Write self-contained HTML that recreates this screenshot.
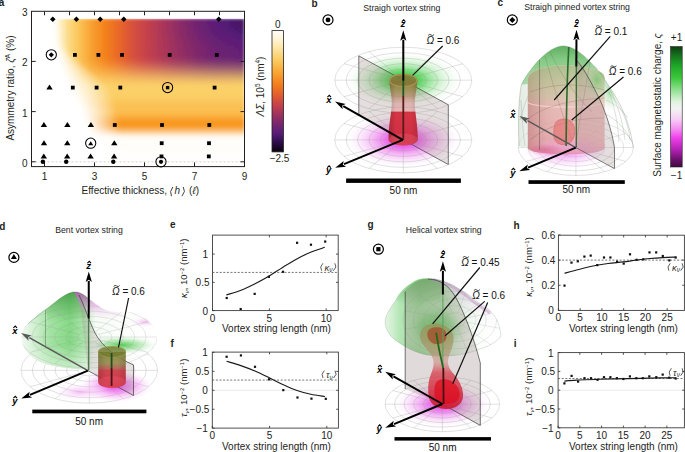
<!DOCTYPE html><html><head><meta charset="utf-8"><style>html,body{margin:0;padding:0;background:#fff;overflow:hidden;}svg{display:block;}text{font-family:"Liberation Sans", sans-serif;}</style></head><body>
<svg width="685" height="452" viewBox="0 0 685 452">
<defs>
<linearGradient id="gHeat" x1="0" y1="0" x2="0" y2="1"><stop offset="0.0" stop-color="#fffefb"/><stop offset="0.06" stop-color="#fff6dc"/><stop offset="0.14" stop-color="#fde6a6"/><stop offset="0.24" stop-color="#fbcb62"/><stop offset="0.34" stop-color="#f9a735"/><stop offset="0.44" stop-color="#f4801c"/><stop offset="0.53" stop-color="#e35e2e"/><stop offset="0.61" stop-color="#c8424a"/><stop offset="0.69" stop-color="#a0325e"/><stop offset="0.77" stop-color="#78256e"/><stop offset="0.85" stop-color="#561c78"/><stop offset="0.92" stop-color="#2e0e4a"/><stop offset="1.0" stop-color="#08030e"/></linearGradient>
<linearGradient id="gSig" x1="0" y1="0" x2="0" y2="1"><stop offset="0" stop-color="#0c3c10"/><stop offset="0.06" stop-color="#146a1c"/><stop offset="0.16" stop-color="#1ea828"/><stop offset="0.26" stop-color="#3cc83c"/><stop offset="0.36" stop-color="#90e090"/><stop offset="0.46" stop-color="#e0f4e0"/><stop offset="0.52" stop-color="#f2f2f2"/><stop offset="0.6" stop-color="#f8d0f4"/><stop offset="0.68" stop-color="#f590f2"/><stop offset="0.76" stop-color="#ee40ea"/><stop offset="0.86" stop-color="#b020b0"/><stop offset="0.94" stop-color="#6a106a"/><stop offset="1.0" stop-color="#400a40"/></linearGradient>
<filter id="fblur" x="-5%" y="-5%" width="110%" height="110%"><feGaussianBlur stdDeviation="1.6"/></filter>
</defs>
<defs>
<linearGradient id="hr0"><stop offset="0.077" stop-color="#ffffff"/><stop offset="0.096" stop-color="#ffffff"/><stop offset="0.115" stop-color="#fffcf3"/><stop offset="0.134" stop-color="#fef0c6"/><stop offset="0.153" stop-color="#fde7a8"/><stop offset="0.171" stop-color="#fcdb8b"/><stop offset="0.190" stop-color="#fcd375"/><stop offset="0.209" stop-color="#fbcb63"/><stop offset="0.228" stop-color="#fac054"/><stop offset="0.246" stop-color="#fab648"/><stop offset="0.265" stop-color="#f9ab3a"/><stop offset="0.284" stop-color="#f89f30"/><stop offset="0.303" stop-color="#f7962a"/><stop offset="0.322" stop-color="#f68d24"/><stop offset="0.340" stop-color="#f4831e"/><stop offset="0.359" stop-color="#f27c1e"/><stop offset="0.378" stop-color="#ee7422"/><stop offset="0.397" stop-color="#eb6d26"/><stop offset="0.415" stop-color="#e7662a"/><stop offset="0.434" stop-color="#e35e2e"/><stop offset="0.453" stop-color="#dd5735"/><stop offset="0.472" stop-color="#d7523a"/><stop offset="0.491" stop-color="#d24c40"/><stop offset="0.509" stop-color="#ce4844"/><stop offset="0.528" stop-color="#c94349"/><stop offset="0.547" stop-color="#c3404c"/><stop offset="0.566" stop-color="#bb3d50"/><stop offset="0.585" stop-color="#b53b53"/><stop offset="0.603" stop-color="#ae3757"/><stop offset="0.622" stop-color="#a8355a"/><stop offset="0.641" stop-color="#a0325e"/><stop offset="0.660" stop-color="#9a3060"/><stop offset="0.678" stop-color="#922e64"/><stop offset="0.697" stop-color="#8c2c66"/><stop offset="0.716" stop-color="#842969"/><stop offset="0.735" stop-color="#7f276b"/><stop offset="0.754" stop-color="#77256e"/><stop offset="0.772" stop-color="#722370"/><stop offset="0.791" stop-color="#6d2271"/><stop offset="0.810" stop-color="#682173"/><stop offset="0.829" stop-color="#631f74"/><stop offset="0.847" stop-color="#601f75"/><stop offset="0.866" stop-color="#5b1d77"/><stop offset="0.885" stop-color="#571c78"/><stop offset="0.904" stop-color="#531b75"/><stop offset="0.923" stop-color="#511a72"/><stop offset="0.941" stop-color="#4c196d"/><stop offset="0.960" stop-color="#4a186a"/><stop offset="0.979" stop-color="#481768"/><stop offset="0.998" stop-color="#441663"/></linearGradient>
<linearGradient id="hr1"><stop offset="0.077" stop-color="#ffffff"/><stop offset="0.096" stop-color="#ffffff"/><stop offset="0.115" stop-color="#fffcf4"/><stop offset="0.134" stop-color="#fef0c9"/><stop offset="0.153" stop-color="#fde7a8"/><stop offset="0.171" stop-color="#fcdb8b"/><stop offset="0.190" stop-color="#fcd375"/><stop offset="0.209" stop-color="#fbcb63"/><stop offset="0.228" stop-color="#fac054"/><stop offset="0.246" stop-color="#fab648"/><stop offset="0.265" stop-color="#f9ab3a"/><stop offset="0.284" stop-color="#f89f30"/><stop offset="0.303" stop-color="#f7962a"/><stop offset="0.322" stop-color="#f68d24"/><stop offset="0.340" stop-color="#f4831e"/><stop offset="0.359" stop-color="#f27c1e"/><stop offset="0.378" stop-color="#ee7422"/><stop offset="0.397" stop-color="#eb6d26"/><stop offset="0.415" stop-color="#e7662a"/><stop offset="0.434" stop-color="#e35e2e"/><stop offset="0.453" stop-color="#dd5735"/><stop offset="0.472" stop-color="#d7523a"/><stop offset="0.491" stop-color="#d24c40"/><stop offset="0.509" stop-color="#ce4844"/><stop offset="0.528" stop-color="#c94349"/><stop offset="0.547" stop-color="#c3404c"/><stop offset="0.566" stop-color="#bb3d50"/><stop offset="0.585" stop-color="#b53b53"/><stop offset="0.603" stop-color="#ae3757"/><stop offset="0.622" stop-color="#a8355a"/><stop offset="0.641" stop-color="#a0325e"/><stop offset="0.660" stop-color="#9a3060"/><stop offset="0.678" stop-color="#922e64"/><stop offset="0.697" stop-color="#8c2c66"/><stop offset="0.716" stop-color="#842969"/><stop offset="0.735" stop-color="#7f276b"/><stop offset="0.754" stop-color="#79256e"/><stop offset="0.772" stop-color="#722370"/><stop offset="0.791" stop-color="#6d2271"/><stop offset="0.810" stop-color="#682173"/><stop offset="0.829" stop-color="#631f74"/><stop offset="0.847" stop-color="#601f75"/><stop offset="0.866" stop-color="#5b1d77"/><stop offset="0.885" stop-color="#571c78"/><stop offset="0.904" stop-color="#531b75"/><stop offset="0.923" stop-color="#511a72"/><stop offset="0.941" stop-color="#4c196d"/><stop offset="0.960" stop-color="#4a186a"/><stop offset="0.979" stop-color="#481768"/><stop offset="0.998" stop-color="#461665"/></linearGradient>
<linearGradient id="hr2"><stop offset="0.077" stop-color="#ffffff"/><stop offset="0.096" stop-color="#ffffff"/><stop offset="0.115" stop-color="#fffcf5"/><stop offset="0.134" stop-color="#fef1cc"/><stop offset="0.153" stop-color="#fde7a8"/><stop offset="0.171" stop-color="#fcdb8b"/><stop offset="0.190" stop-color="#fcd375"/><stop offset="0.209" stop-color="#fbcb63"/><stop offset="0.228" stop-color="#fac054"/><stop offset="0.246" stop-color="#fab648"/><stop offset="0.265" stop-color="#f9ab3a"/><stop offset="0.284" stop-color="#f89f30"/><stop offset="0.303" stop-color="#f7962a"/><stop offset="0.322" stop-color="#f68d24"/><stop offset="0.340" stop-color="#f4831e"/><stop offset="0.359" stop-color="#f27c1e"/><stop offset="0.378" stop-color="#ee7422"/><stop offset="0.397" stop-color="#eb6d26"/><stop offset="0.415" stop-color="#e7662a"/><stop offset="0.434" stop-color="#e35e2e"/><stop offset="0.453" stop-color="#dd5735"/><stop offset="0.472" stop-color="#d7523a"/><stop offset="0.491" stop-color="#d24c40"/><stop offset="0.509" stop-color="#ce4844"/><stop offset="0.528" stop-color="#c94349"/><stop offset="0.547" stop-color="#c3404c"/><stop offset="0.566" stop-color="#bb3d50"/><stop offset="0.585" stop-color="#b53b53"/><stop offset="0.603" stop-color="#ae3757"/><stop offset="0.622" stop-color="#a8355a"/><stop offset="0.641" stop-color="#a0325e"/><stop offset="0.660" stop-color="#9a3060"/><stop offset="0.678" stop-color="#922e64"/><stop offset="0.697" stop-color="#8c2c66"/><stop offset="0.716" stop-color="#862a68"/><stop offset="0.735" stop-color="#7f276b"/><stop offset="0.754" stop-color="#79256e"/><stop offset="0.772" stop-color="#722370"/><stop offset="0.791" stop-color="#6f2371"/><stop offset="0.810" stop-color="#6a2172"/><stop offset="0.829" stop-color="#652074"/><stop offset="0.847" stop-color="#601f75"/><stop offset="0.866" stop-color="#5b1d77"/><stop offset="0.885" stop-color="#591d77"/><stop offset="0.904" stop-color="#551c77"/><stop offset="0.923" stop-color="#511a72"/><stop offset="0.941" stop-color="#4f1970"/><stop offset="0.960" stop-color="#4c196d"/><stop offset="0.979" stop-color="#481768"/><stop offset="0.998" stop-color="#461665"/></linearGradient>
<linearGradient id="hr3"><stop offset="0.077" stop-color="#ffffff"/><stop offset="0.096" stop-color="#ffffff"/><stop offset="0.115" stop-color="#fffcf5"/><stop offset="0.134" stop-color="#fef2ce"/><stop offset="0.153" stop-color="#fde7a8"/><stop offset="0.171" stop-color="#fcdb8b"/><stop offset="0.190" stop-color="#fcd375"/><stop offset="0.209" stop-color="#fbcb63"/><stop offset="0.228" stop-color="#fac054"/><stop offset="0.246" stop-color="#fab648"/><stop offset="0.265" stop-color="#f9ab3a"/><stop offset="0.284" stop-color="#f89f30"/><stop offset="0.303" stop-color="#f7962a"/><stop offset="0.322" stop-color="#f68d24"/><stop offset="0.340" stop-color="#f4831e"/><stop offset="0.359" stop-color="#f27c1e"/><stop offset="0.378" stop-color="#ee7422"/><stop offset="0.397" stop-color="#eb6d26"/><stop offset="0.415" stop-color="#e7662a"/><stop offset="0.434" stop-color="#e35e2e"/><stop offset="0.453" stop-color="#dd5735"/><stop offset="0.472" stop-color="#d7523a"/><stop offset="0.491" stop-color="#d24c40"/><stop offset="0.509" stop-color="#ce4844"/><stop offset="0.528" stop-color="#c94349"/><stop offset="0.547" stop-color="#c3404c"/><stop offset="0.566" stop-color="#bb3d50"/><stop offset="0.585" stop-color="#b53b53"/><stop offset="0.603" stop-color="#ae3757"/><stop offset="0.622" stop-color="#a8355a"/><stop offset="0.641" stop-color="#a2335d"/><stop offset="0.660" stop-color="#9a3060"/><stop offset="0.678" stop-color="#942e63"/><stop offset="0.697" stop-color="#8c2c66"/><stop offset="0.716" stop-color="#862a68"/><stop offset="0.735" stop-color="#81286b"/><stop offset="0.754" stop-color="#79256e"/><stop offset="0.772" stop-color="#74246f"/><stop offset="0.791" stop-color="#6f2371"/><stop offset="0.810" stop-color="#6a2172"/><stop offset="0.829" stop-color="#662073"/><stop offset="0.847" stop-color="#611f75"/><stop offset="0.866" stop-color="#5c1e76"/><stop offset="0.885" stop-color="#5b1d77"/><stop offset="0.904" stop-color="#571c78"/><stop offset="0.923" stop-color="#531b75"/><stop offset="0.941" stop-color="#511a72"/><stop offset="0.960" stop-color="#4f1970"/><stop offset="0.979" stop-color="#4a186a"/><stop offset="0.998" stop-color="#481768"/></linearGradient>
<linearGradient id="hr4"><stop offset="0.077" stop-color="#ffffff"/><stop offset="0.096" stop-color="#ffffff"/><stop offset="0.115" stop-color="#fffdf6"/><stop offset="0.134" stop-color="#fef2d1"/><stop offset="0.153" stop-color="#fde7a8"/><stop offset="0.171" stop-color="#fcdb8b"/><stop offset="0.190" stop-color="#fcd375"/><stop offset="0.209" stop-color="#fbcb63"/><stop offset="0.228" stop-color="#fac054"/><stop offset="0.246" stop-color="#fab648"/><stop offset="0.265" stop-color="#f9ab3a"/><stop offset="0.284" stop-color="#f89f30"/><stop offset="0.303" stop-color="#f7962a"/><stop offset="0.322" stop-color="#f68d24"/><stop offset="0.340" stop-color="#f4831e"/><stop offset="0.359" stop-color="#f27c1e"/><stop offset="0.378" stop-color="#ee7422"/><stop offset="0.397" stop-color="#eb6d26"/><stop offset="0.415" stop-color="#e7662a"/><stop offset="0.434" stop-color="#e35e2e"/><stop offset="0.453" stop-color="#dd5735"/><stop offset="0.472" stop-color="#d7523a"/><stop offset="0.491" stop-color="#d24c40"/><stop offset="0.509" stop-color="#ce4844"/><stop offset="0.528" stop-color="#c94349"/><stop offset="0.547" stop-color="#c3404c"/><stop offset="0.566" stop-color="#bb3d50"/><stop offset="0.585" stop-color="#b53b53"/><stop offset="0.603" stop-color="#b03856"/><stop offset="0.622" stop-color="#a8355a"/><stop offset="0.641" stop-color="#a2335d"/><stop offset="0.660" stop-color="#9a3060"/><stop offset="0.678" stop-color="#942e63"/><stop offset="0.697" stop-color="#8e2c65"/><stop offset="0.716" stop-color="#882a67"/><stop offset="0.735" stop-color="#81286b"/><stop offset="0.754" stop-color="#7b266d"/><stop offset="0.772" stop-color="#75246f"/><stop offset="0.791" stop-color="#702370"/><stop offset="0.810" stop-color="#6b2272"/><stop offset="0.829" stop-color="#682173"/><stop offset="0.847" stop-color="#631f74"/><stop offset="0.866" stop-color="#5e1e76"/><stop offset="0.885" stop-color="#5c1e76"/><stop offset="0.904" stop-color="#591d77"/><stop offset="0.923" stop-color="#571c78"/><stop offset="0.941" stop-color="#531b75"/><stop offset="0.960" stop-color="#511a72"/><stop offset="0.979" stop-color="#4f1970"/><stop offset="0.998" stop-color="#4c196d"/></linearGradient>
<linearGradient id="hr5"><stop offset="0.077" stop-color="#ffffff"/><stop offset="0.096" stop-color="#ffffff"/><stop offset="0.115" stop-color="#fffdf7"/><stop offset="0.134" stop-color="#fef3d3"/><stop offset="0.153" stop-color="#fde7a8"/><stop offset="0.171" stop-color="#fcdb8b"/><stop offset="0.190" stop-color="#fcd375"/><stop offset="0.209" stop-color="#fbcb63"/><stop offset="0.228" stop-color="#fac054"/><stop offset="0.246" stop-color="#fab648"/><stop offset="0.265" stop-color="#f9ab3a"/><stop offset="0.284" stop-color="#f89f30"/><stop offset="0.303" stop-color="#f7962a"/><stop offset="0.322" stop-color="#f68d24"/><stop offset="0.340" stop-color="#f4831e"/><stop offset="0.359" stop-color="#f27c1e"/><stop offset="0.378" stop-color="#ee7422"/><stop offset="0.397" stop-color="#eb6d26"/><stop offset="0.415" stop-color="#e7662a"/><stop offset="0.434" stop-color="#e35e2e"/><stop offset="0.453" stop-color="#dd5735"/><stop offset="0.472" stop-color="#d7523a"/><stop offset="0.491" stop-color="#d24c40"/><stop offset="0.509" stop-color="#ce4844"/><stop offset="0.528" stop-color="#c94349"/><stop offset="0.547" stop-color="#c3404c"/><stop offset="0.566" stop-color="#bd3e4f"/><stop offset="0.585" stop-color="#b53b53"/><stop offset="0.603" stop-color="#b03856"/><stop offset="0.622" stop-color="#a8355a"/><stop offset="0.641" stop-color="#a2335d"/><stop offset="0.660" stop-color="#9c3160"/><stop offset="0.678" stop-color="#962f62"/><stop offset="0.697" stop-color="#8e2c65"/><stop offset="0.716" stop-color="#882a67"/><stop offset="0.735" stop-color="#82286a"/><stop offset="0.754" stop-color="#7d266c"/><stop offset="0.772" stop-color="#77256e"/><stop offset="0.791" stop-color="#722370"/><stop offset="0.810" stop-color="#6f2371"/><stop offset="0.829" stop-color="#6a2172"/><stop offset="0.847" stop-color="#652074"/><stop offset="0.866" stop-color="#611f75"/><stop offset="0.885" stop-color="#5e1e76"/><stop offset="0.904" stop-color="#5c1e76"/><stop offset="0.923" stop-color="#5b1d77"/><stop offset="0.941" stop-color="#571c78"/><stop offset="0.960" stop-color="#551c77"/><stop offset="0.979" stop-color="#531b75"/><stop offset="0.998" stop-color="#511a72"/></linearGradient>
<linearGradient id="hr6"><stop offset="0.077" stop-color="#ffffff"/><stop offset="0.096" stop-color="#ffffff"/><stop offset="0.115" stop-color="#fffdf7"/><stop offset="0.134" stop-color="#fef4d5"/><stop offset="0.153" stop-color="#fde7a8"/><stop offset="0.171" stop-color="#fcdb8b"/><stop offset="0.190" stop-color="#fcd375"/><stop offset="0.209" stop-color="#fbcb63"/><stop offset="0.228" stop-color="#fac054"/><stop offset="0.246" stop-color="#fab648"/><stop offset="0.265" stop-color="#f9ab3a"/><stop offset="0.284" stop-color="#f89f30"/><stop offset="0.303" stop-color="#f7962a"/><stop offset="0.322" stop-color="#f68d24"/><stop offset="0.340" stop-color="#f4831e"/><stop offset="0.359" stop-color="#f27c1e"/><stop offset="0.378" stop-color="#ee7422"/><stop offset="0.397" stop-color="#eb6d26"/><stop offset="0.415" stop-color="#e7662a"/><stop offset="0.434" stop-color="#e35e2e"/><stop offset="0.453" stop-color="#dd5735"/><stop offset="0.472" stop-color="#d7523a"/><stop offset="0.491" stop-color="#d24c40"/><stop offset="0.509" stop-color="#ce4844"/><stop offset="0.528" stop-color="#c94349"/><stop offset="0.547" stop-color="#c3404c"/><stop offset="0.566" stop-color="#bd3e4f"/><stop offset="0.585" stop-color="#b53b53"/><stop offset="0.603" stop-color="#b03856"/><stop offset="0.622" stop-color="#aa3659"/><stop offset="0.641" stop-color="#a4345c"/><stop offset="0.660" stop-color="#9c3160"/><stop offset="0.678" stop-color="#962f62"/><stop offset="0.697" stop-color="#902d64"/><stop offset="0.716" stop-color="#8a2b67"/><stop offset="0.735" stop-color="#842969"/><stop offset="0.754" stop-color="#7f276b"/><stop offset="0.772" stop-color="#79256e"/><stop offset="0.791" stop-color="#74246f"/><stop offset="0.810" stop-color="#702370"/><stop offset="0.829" stop-color="#6b2272"/><stop offset="0.847" stop-color="#682173"/><stop offset="0.866" stop-color="#652074"/><stop offset="0.885" stop-color="#611f75"/><stop offset="0.904" stop-color="#601f75"/><stop offset="0.923" stop-color="#5c1e76"/><stop offset="0.941" stop-color="#5b1d77"/><stop offset="0.960" stop-color="#591d77"/><stop offset="0.979" stop-color="#571c78"/><stop offset="0.998" stop-color="#551c77"/></linearGradient>
<linearGradient id="hr7"><stop offset="0.077" stop-color="#ffffff"/><stop offset="0.096" stop-color="#ffffff"/><stop offset="0.115" stop-color="#fffdf8"/><stop offset="0.134" stop-color="#fef4d7"/><stop offset="0.153" stop-color="#fde7a8"/><stop offset="0.171" stop-color="#fcdb8b"/><stop offset="0.190" stop-color="#fcd375"/><stop offset="0.209" stop-color="#fbcb63"/><stop offset="0.228" stop-color="#fac054"/><stop offset="0.246" stop-color="#fab648"/><stop offset="0.265" stop-color="#f9ab3a"/><stop offset="0.284" stop-color="#f89f30"/><stop offset="0.303" stop-color="#f7962a"/><stop offset="0.322" stop-color="#f68d24"/><stop offset="0.340" stop-color="#f4831e"/><stop offset="0.359" stop-color="#f27c1e"/><stop offset="0.378" stop-color="#ee7422"/><stop offset="0.397" stop-color="#eb6d26"/><stop offset="0.415" stop-color="#e7662a"/><stop offset="0.434" stop-color="#e35e2e"/><stop offset="0.453" stop-color="#dd5735"/><stop offset="0.472" stop-color="#d7523a"/><stop offset="0.491" stop-color="#d24c40"/><stop offset="0.509" stop-color="#ce4844"/><stop offset="0.528" stop-color="#c94349"/><stop offset="0.547" stop-color="#c3404c"/><stop offset="0.566" stop-color="#bd3e4f"/><stop offset="0.585" stop-color="#b53b53"/><stop offset="0.603" stop-color="#b03856"/><stop offset="0.622" stop-color="#aa3659"/><stop offset="0.641" stop-color="#a4345c"/><stop offset="0.660" stop-color="#9e315f"/><stop offset="0.678" stop-color="#982f61"/><stop offset="0.697" stop-color="#922e64"/><stop offset="0.716" stop-color="#8c2c66"/><stop offset="0.735" stop-color="#862a68"/><stop offset="0.754" stop-color="#81286b"/><stop offset="0.772" stop-color="#7b266d"/><stop offset="0.791" stop-color="#77256e"/><stop offset="0.810" stop-color="#722370"/><stop offset="0.829" stop-color="#6f2371"/><stop offset="0.847" stop-color="#6b2272"/><stop offset="0.866" stop-color="#662073"/><stop offset="0.885" stop-color="#652074"/><stop offset="0.904" stop-color="#631f74"/><stop offset="0.923" stop-color="#601f75"/><stop offset="0.941" stop-color="#5e1e76"/><stop offset="0.960" stop-color="#5c1e76"/><stop offset="0.979" stop-color="#5b1d77"/><stop offset="0.998" stop-color="#591d77"/></linearGradient>
<linearGradient id="hr8"><stop offset="0.077" stop-color="#ffffff"/><stop offset="0.096" stop-color="#ffffff"/><stop offset="0.115" stop-color="#fffdf8"/><stop offset="0.134" stop-color="#fef5d9"/><stop offset="0.153" stop-color="#fde7a8"/><stop offset="0.171" stop-color="#fcdb8b"/><stop offset="0.190" stop-color="#fcd375"/><stop offset="0.209" stop-color="#fbcb63"/><stop offset="0.228" stop-color="#fac054"/><stop offset="0.246" stop-color="#fab648"/><stop offset="0.265" stop-color="#f9ab3a"/><stop offset="0.284" stop-color="#f89f30"/><stop offset="0.303" stop-color="#f7962a"/><stop offset="0.322" stop-color="#f68d24"/><stop offset="0.340" stop-color="#f4831e"/><stop offset="0.359" stop-color="#f27c1e"/><stop offset="0.378" stop-color="#ee7422"/><stop offset="0.397" stop-color="#eb6d26"/><stop offset="0.415" stop-color="#e7662a"/><stop offset="0.434" stop-color="#e35e2e"/><stop offset="0.453" stop-color="#dd5735"/><stop offset="0.472" stop-color="#d7523a"/><stop offset="0.491" stop-color="#d24c40"/><stop offset="0.509" stop-color="#ce4844"/><stop offset="0.528" stop-color="#c94349"/><stop offset="0.547" stop-color="#c3404c"/><stop offset="0.566" stop-color="#bd3e4f"/><stop offset="0.585" stop-color="#b53b53"/><stop offset="0.603" stop-color="#b03856"/><stop offset="0.622" stop-color="#aa3659"/><stop offset="0.641" stop-color="#a4345c"/><stop offset="0.660" stop-color="#9e315f"/><stop offset="0.678" stop-color="#982f61"/><stop offset="0.697" stop-color="#922e64"/><stop offset="0.716" stop-color="#8e2c65"/><stop offset="0.735" stop-color="#882a67"/><stop offset="0.754" stop-color="#82286a"/><stop offset="0.772" stop-color="#7d266c"/><stop offset="0.791" stop-color="#79256e"/><stop offset="0.810" stop-color="#75246f"/><stop offset="0.829" stop-color="#702370"/><stop offset="0.847" stop-color="#6d2271"/><stop offset="0.866" stop-color="#6a2172"/><stop offset="0.885" stop-color="#682173"/><stop offset="0.904" stop-color="#652074"/><stop offset="0.923" stop-color="#631f74"/><stop offset="0.941" stop-color="#611f75"/><stop offset="0.960" stop-color="#601f75"/><stop offset="0.979" stop-color="#5e1e76"/><stop offset="0.998" stop-color="#5c1e76"/></linearGradient>
<linearGradient id="hr9"><stop offset="0.077" stop-color="#ffffff"/><stop offset="0.096" stop-color="#ffffff"/><stop offset="0.115" stop-color="#fffefb"/><stop offset="0.134" stop-color="#fff7e2"/><stop offset="0.153" stop-color="#fde9b2"/><stop offset="0.171" stop-color="#fcdb8b"/><stop offset="0.190" stop-color="#fcd375"/><stop offset="0.209" stop-color="#fbcb63"/><stop offset="0.228" stop-color="#fac054"/><stop offset="0.246" stop-color="#fab648"/><stop offset="0.265" stop-color="#f9ab3a"/><stop offset="0.284" stop-color="#f89f30"/><stop offset="0.303" stop-color="#f7962a"/><stop offset="0.322" stop-color="#f68d24"/><stop offset="0.340" stop-color="#f4831e"/><stop offset="0.359" stop-color="#f27c1e"/><stop offset="0.378" stop-color="#ee7422"/><stop offset="0.397" stop-color="#eb6d26"/><stop offset="0.415" stop-color="#e7662a"/><stop offset="0.434" stop-color="#e35e2e"/><stop offset="0.453" stop-color="#dd5735"/><stop offset="0.472" stop-color="#d7523a"/><stop offset="0.491" stop-color="#d24c40"/><stop offset="0.509" stop-color="#ce4844"/><stop offset="0.528" stop-color="#c94349"/><stop offset="0.547" stop-color="#c3404c"/><stop offset="0.566" stop-color="#bd3e4f"/><stop offset="0.585" stop-color="#b73b52"/><stop offset="0.603" stop-color="#b03856"/><stop offset="0.622" stop-color="#aa3659"/><stop offset="0.641" stop-color="#a6345b"/><stop offset="0.660" stop-color="#a0325e"/><stop offset="0.678" stop-color="#9a3060"/><stop offset="0.697" stop-color="#942e63"/><stop offset="0.716" stop-color="#8e2c65"/><stop offset="0.735" stop-color="#8a2b67"/><stop offset="0.754" stop-color="#842969"/><stop offset="0.772" stop-color="#7f276b"/><stop offset="0.791" stop-color="#7b266d"/><stop offset="0.810" stop-color="#77256e"/><stop offset="0.829" stop-color="#74246f"/><stop offset="0.847" stop-color="#6f2371"/><stop offset="0.866" stop-color="#6b2272"/><stop offset="0.885" stop-color="#6a2172"/><stop offset="0.904" stop-color="#682173"/><stop offset="0.923" stop-color="#662073"/><stop offset="0.941" stop-color="#652074"/><stop offset="0.960" stop-color="#611f75"/><stop offset="0.979" stop-color="#601f75"/><stop offset="0.998" stop-color="#5e1e76"/></linearGradient>
<linearGradient id="hr10"><stop offset="0.077" stop-color="#ffffff"/><stop offset="0.096" stop-color="#ffffff"/><stop offset="0.115" stop-color="#fffefd"/><stop offset="0.134" stop-color="#fff9eb"/><stop offset="0.153" stop-color="#feefc5"/><stop offset="0.171" stop-color="#fcdb8b"/><stop offset="0.190" stop-color="#fcd375"/><stop offset="0.209" stop-color="#fbcb63"/><stop offset="0.228" stop-color="#fac054"/><stop offset="0.246" stop-color="#fab648"/><stop offset="0.265" stop-color="#f9ab3a"/><stop offset="0.284" stop-color="#f89f30"/><stop offset="0.303" stop-color="#f7962a"/><stop offset="0.322" stop-color="#f68d24"/><stop offset="0.340" stop-color="#f4831e"/><stop offset="0.359" stop-color="#f27c1e"/><stop offset="0.378" stop-color="#ee7422"/><stop offset="0.397" stop-color="#eb6d26"/><stop offset="0.415" stop-color="#e7662a"/><stop offset="0.434" stop-color="#e35e2e"/><stop offset="0.453" stop-color="#dd5735"/><stop offset="0.472" stop-color="#d7523a"/><stop offset="0.491" stop-color="#d24c40"/><stop offset="0.509" stop-color="#ce4844"/><stop offset="0.528" stop-color="#c94349"/><stop offset="0.547" stop-color="#c3404c"/><stop offset="0.566" stop-color="#bd3e4f"/><stop offset="0.585" stop-color="#b73b52"/><stop offset="0.603" stop-color="#b23955"/><stop offset="0.622" stop-color="#ac3758"/><stop offset="0.641" stop-color="#a6345b"/><stop offset="0.660" stop-color="#a0325e"/><stop offset="0.678" stop-color="#9a3060"/><stop offset="0.697" stop-color="#942e63"/><stop offset="0.716" stop-color="#902d64"/><stop offset="0.735" stop-color="#8a2b67"/><stop offset="0.754" stop-color="#842969"/><stop offset="0.772" stop-color="#81286b"/><stop offset="0.791" stop-color="#7d266c"/><stop offset="0.810" stop-color="#79256e"/><stop offset="0.829" stop-color="#75246f"/><stop offset="0.847" stop-color="#702370"/><stop offset="0.866" stop-color="#6d2271"/><stop offset="0.885" stop-color="#6b2272"/><stop offset="0.904" stop-color="#6a2172"/><stop offset="0.923" stop-color="#682173"/><stop offset="0.941" stop-color="#662073"/><stop offset="0.960" stop-color="#652074"/><stop offset="0.979" stop-color="#631f74"/><stop offset="0.998" stop-color="#611f75"/></linearGradient>
<linearGradient id="hr11"><stop offset="0.077" stop-color="#ffffff"/><stop offset="0.096" stop-color="#ffffff"/><stop offset="0.115" stop-color="#fffffe"/><stop offset="0.134" stop-color="#fffbf1"/><stop offset="0.153" stop-color="#fef3d3"/><stop offset="0.171" stop-color="#fde3a3"/><stop offset="0.190" stop-color="#fcd375"/><stop offset="0.209" stop-color="#fbcb63"/><stop offset="0.228" stop-color="#fac054"/><stop offset="0.246" stop-color="#fab648"/><stop offset="0.265" stop-color="#f9ab3a"/><stop offset="0.284" stop-color="#f89f30"/><stop offset="0.303" stop-color="#f7962a"/><stop offset="0.322" stop-color="#f68d24"/><stop offset="0.340" stop-color="#f4831e"/><stop offset="0.359" stop-color="#f27c1e"/><stop offset="0.378" stop-color="#ee7422"/><stop offset="0.397" stop-color="#eb6d26"/><stop offset="0.415" stop-color="#e7662a"/><stop offset="0.434" stop-color="#e35e2e"/><stop offset="0.453" stop-color="#dd5735"/><stop offset="0.472" stop-color="#d7523a"/><stop offset="0.491" stop-color="#d24c40"/><stop offset="0.509" stop-color="#ce4844"/><stop offset="0.528" stop-color="#c94349"/><stop offset="0.547" stop-color="#c3404c"/><stop offset="0.566" stop-color="#bd3e4f"/><stop offset="0.585" stop-color="#b73b52"/><stop offset="0.603" stop-color="#b23955"/><stop offset="0.622" stop-color="#ac3758"/><stop offset="0.641" stop-color="#a6345b"/><stop offset="0.660" stop-color="#a0325e"/><stop offset="0.678" stop-color="#9a3060"/><stop offset="0.697" stop-color="#962f62"/><stop offset="0.716" stop-color="#902d64"/><stop offset="0.735" stop-color="#8a2b67"/><stop offset="0.754" stop-color="#862a68"/><stop offset="0.772" stop-color="#81286b"/><stop offset="0.791" stop-color="#7d266c"/><stop offset="0.810" stop-color="#79256e"/><stop offset="0.829" stop-color="#75246f"/><stop offset="0.847" stop-color="#722370"/><stop offset="0.866" stop-color="#6f2371"/><stop offset="0.885" stop-color="#6d2271"/><stop offset="0.904" stop-color="#6b2272"/><stop offset="0.923" stop-color="#6a2172"/><stop offset="0.941" stop-color="#682173"/><stop offset="0.960" stop-color="#662073"/><stop offset="0.979" stop-color="#652074"/><stop offset="0.998" stop-color="#631f74"/></linearGradient>
<linearGradient id="hr12"><stop offset="0.077" stop-color="#ffffff"/><stop offset="0.096" stop-color="#ffffff"/><stop offset="0.115" stop-color="#ffffff"/><stop offset="0.134" stop-color="#fffcf5"/><stop offset="0.153" stop-color="#fef6de"/><stop offset="0.171" stop-color="#fde9b7"/><stop offset="0.190" stop-color="#fcd887"/><stop offset="0.209" stop-color="#fbcb63"/><stop offset="0.228" stop-color="#fac054"/><stop offset="0.246" stop-color="#fab648"/><stop offset="0.265" stop-color="#f9ab3a"/><stop offset="0.284" stop-color="#f89f30"/><stop offset="0.303" stop-color="#f7962a"/><stop offset="0.322" stop-color="#f68d24"/><stop offset="0.340" stop-color="#f4841e"/><stop offset="0.359" stop-color="#f27c1e"/><stop offset="0.378" stop-color="#ee7522"/><stop offset="0.397" stop-color="#eb6d26"/><stop offset="0.415" stop-color="#e7662a"/><stop offset="0.434" stop-color="#e35f2e"/><stop offset="0.453" stop-color="#dd5835"/><stop offset="0.472" stop-color="#d7523a"/><stop offset="0.491" stop-color="#d24d40"/><stop offset="0.509" stop-color="#ce4944"/><stop offset="0.528" stop-color="#c94349"/><stop offset="0.547" stop-color="#c3414d"/><stop offset="0.566" stop-color="#be3e4f"/><stop offset="0.585" stop-color="#b83c52"/><stop offset="0.603" stop-color="#b23a55"/><stop offset="0.622" stop-color="#ac3758"/><stop offset="0.641" stop-color="#a6355b"/><stop offset="0.660" stop-color="#a0335e"/><stop offset="0.678" stop-color="#9a3160"/><stop offset="0.697" stop-color="#962f62"/><stop offset="0.716" stop-color="#912e64"/><stop offset="0.735" stop-color="#8d2c66"/><stop offset="0.754" stop-color="#872a68"/><stop offset="0.772" stop-color="#81286b"/><stop offset="0.791" stop-color="#7d276c"/><stop offset="0.810" stop-color="#79266e"/><stop offset="0.829" stop-color="#76256f"/><stop offset="0.847" stop-color="#722470"/><stop offset="0.866" stop-color="#6f2371"/><stop offset="0.885" stop-color="#6d2371"/><stop offset="0.904" stop-color="#6c2272"/><stop offset="0.923" stop-color="#6a2272"/><stop offset="0.941" stop-color="#682173"/><stop offset="0.960" stop-color="#672173"/><stop offset="0.979" stop-color="#652174"/><stop offset="0.998" stop-color="#642074"/></linearGradient>
<linearGradient id="hr13"><stop offset="0.077" stop-color="#ffffff"/><stop offset="0.096" stop-color="#ffffff"/><stop offset="0.115" stop-color="#ffffff"/><stop offset="0.134" stop-color="#fffdf9"/><stop offset="0.153" stop-color="#fef8e7"/><stop offset="0.171" stop-color="#feeec8"/><stop offset="0.190" stop-color="#fde1a1"/><stop offset="0.209" stop-color="#fbd072"/><stop offset="0.228" stop-color="#fac155"/><stop offset="0.246" stop-color="#fab749"/><stop offset="0.265" stop-color="#f9ac3c"/><stop offset="0.284" stop-color="#f8a132"/><stop offset="0.303" stop-color="#f7982d"/><stop offset="0.322" stop-color="#f69027"/><stop offset="0.340" stop-color="#f58721"/><stop offset="0.359" stop-color="#f28021"/><stop offset="0.378" stop-color="#ef7925"/><stop offset="0.397" stop-color="#eb7129"/><stop offset="0.415" stop-color="#e86a2d"/><stop offset="0.434" stop-color="#e46330"/><stop offset="0.453" stop-color="#de5d37"/><stop offset="0.472" stop-color="#d9573c"/><stop offset="0.491" stop-color="#d45241"/><stop offset="0.509" stop-color="#d04e45"/><stop offset="0.528" stop-color="#cb494b"/><stop offset="0.547" stop-color="#c6464e"/><stop offset="0.566" stop-color="#c04450"/><stop offset="0.585" stop-color="#ba4253"/><stop offset="0.603" stop-color="#b54056"/><stop offset="0.622" stop-color="#af3d59"/><stop offset="0.641" stop-color="#aa3b5c"/><stop offset="0.660" stop-color="#a4395e"/><stop offset="0.678" stop-color="#9e3761"/><stop offset="0.697" stop-color="#9b3662"/><stop offset="0.716" stop-color="#953464"/><stop offset="0.735" stop-color="#913366"/><stop offset="0.754" stop-color="#8c3168"/><stop offset="0.772" stop-color="#862f6a"/><stop offset="0.791" stop-color="#822e6c"/><stop offset="0.810" stop-color="#7f2d6d"/><stop offset="0.829" stop-color="#7b2c6f"/><stop offset="0.847" stop-color="#782b6f"/><stop offset="0.866" stop-color="#752a70"/><stop offset="0.885" stop-color="#732a71"/><stop offset="0.904" stop-color="#722971"/><stop offset="0.923" stop-color="#702972"/><stop offset="0.941" stop-color="#6f2972"/><stop offset="0.960" stop-color="#6d2873"/><stop offset="0.979" stop-color="#6b2873"/><stop offset="0.998" stop-color="#6a2774"/></linearGradient>
<linearGradient id="hr14"><stop offset="0.077" stop-color="#ffffff"/><stop offset="0.096" stop-color="#ffffff"/><stop offset="0.115" stop-color="#ffffff"/><stop offset="0.134" stop-color="#fffefc"/><stop offset="0.153" stop-color="#fffaed"/><stop offset="0.171" stop-color="#fef2d4"/><stop offset="0.190" stop-color="#fde7b4"/><stop offset="0.209" stop-color="#fcda8d"/><stop offset="0.228" stop-color="#fbc663"/><stop offset="0.246" stop-color="#fab94c"/><stop offset="0.265" stop-color="#faaf3f"/><stop offset="0.284" stop-color="#f8a537"/><stop offset="0.303" stop-color="#f79d31"/><stop offset="0.322" stop-color="#f6952c"/><stop offset="0.340" stop-color="#f58d27"/><stop offset="0.359" stop-color="#f38627"/><stop offset="0.378" stop-color="#f0802b"/><stop offset="0.397" stop-color="#ed792e"/><stop offset="0.415" stop-color="#e97332"/><stop offset="0.434" stop-color="#e66c35"/><stop offset="0.453" stop-color="#e0663b"/><stop offset="0.472" stop-color="#dc6140"/><stop offset="0.491" stop-color="#d75c45"/><stop offset="0.509" stop-color="#d45948"/><stop offset="0.528" stop-color="#cf544d"/><stop offset="0.547" stop-color="#ca5250"/><stop offset="0.566" stop-color="#c55052"/><stop offset="0.585" stop-color="#c04e55"/><stop offset="0.603" stop-color="#bb4b58"/><stop offset="0.622" stop-color="#b5495a"/><stop offset="0.641" stop-color="#b0475d"/><stop offset="0.660" stop-color="#ab455f"/><stop offset="0.678" stop-color="#a64461"/><stop offset="0.697" stop-color="#a34263"/><stop offset="0.716" stop-color="#9d4165"/><stop offset="0.735" stop-color="#9a4066"/><stop offset="0.754" stop-color="#953e68"/><stop offset="0.772" stop-color="#903c6a"/><stop offset="0.791" stop-color="#8c3b6c"/><stop offset="0.810" stop-color="#893a6d"/><stop offset="0.829" stop-color="#86396e"/><stop offset="0.847" stop-color="#83386f"/><stop offset="0.866" stop-color="#803870"/><stop offset="0.885" stop-color="#7e3770"/><stop offset="0.904" stop-color="#7d3771"/><stop offset="0.923" stop-color="#7b3771"/><stop offset="0.941" stop-color="#7a3671"/><stop offset="0.960" stop-color="#793672"/><stop offset="0.979" stop-color="#773572"/><stop offset="0.998" stop-color="#763573"/></linearGradient>
<linearGradient id="hr15"><stop offset="0.077" stop-color="#ffffff"/><stop offset="0.096" stop-color="#ffffff"/><stop offset="0.115" stop-color="#ffffff"/><stop offset="0.134" stop-color="#fffffe"/><stop offset="0.153" stop-color="#fffbf2"/><stop offset="0.171" stop-color="#fef5dd"/><stop offset="0.190" stop-color="#feecc3"/><stop offset="0.209" stop-color="#fde1a3"/><stop offset="0.228" stop-color="#fcd17f"/><stop offset="0.246" stop-color="#fbbf58"/><stop offset="0.265" stop-color="#fab344"/><stop offset="0.284" stop-color="#f9aa3d"/><stop offset="0.303" stop-color="#f8a338"/><stop offset="0.322" stop-color="#f79c34"/><stop offset="0.340" stop-color="#f6952f"/><stop offset="0.359" stop-color="#f48f2f"/><stop offset="0.378" stop-color="#f18932"/><stop offset="0.397" stop-color="#ee8435"/><stop offset="0.415" stop-color="#ec7e38"/><stop offset="0.434" stop-color="#e9783b"/><stop offset="0.453" stop-color="#e47340"/><stop offset="0.472" stop-color="#e06f45"/><stop offset="0.491" stop-color="#dc6a49"/><stop offset="0.509" stop-color="#d8674c"/><stop offset="0.528" stop-color="#d46350"/><stop offset="0.547" stop-color="#d06153"/><stop offset="0.566" stop-color="#cc5f55"/><stop offset="0.585" stop-color="#c75d57"/><stop offset="0.603" stop-color="#c25b59"/><stop offset="0.622" stop-color="#be5a5c"/><stop offset="0.641" stop-color="#b9585e"/><stop offset="0.660" stop-color="#b55660"/><stop offset="0.678" stop-color="#b05462"/><stop offset="0.697" stop-color="#ad5363"/><stop offset="0.716" stop-color="#a95265"/><stop offset="0.735" stop-color="#a65166"/><stop offset="0.754" stop-color="#a15068"/><stop offset="0.772" stop-color="#9d4e6a"/><stop offset="0.791" stop-color="#9a4d6b"/><stop offset="0.810" stop-color="#974c6c"/><stop offset="0.829" stop-color="#944b6d"/><stop offset="0.847" stop-color="#914b6e"/><stop offset="0.866" stop-color="#8f4a6f"/><stop offset="0.885" stop-color="#8d4a6f"/><stop offset="0.904" stop-color="#8c4970"/><stop offset="0.923" stop-color="#8b4970"/><stop offset="0.941" stop-color="#8a4970"/><stop offset="0.960" stop-color="#884871"/><stop offset="0.979" stop-color="#874871"/><stop offset="0.998" stop-color="#864871"/></linearGradient>
<linearGradient id="hr16"><stop offset="0.077" stop-color="#ffffff"/><stop offset="0.096" stop-color="#ffffff"/><stop offset="0.115" stop-color="#ffffff"/><stop offset="0.134" stop-color="#ffffff"/><stop offset="0.153" stop-color="#fffcf6"/><stop offset="0.171" stop-color="#fef7e4"/><stop offset="0.190" stop-color="#feefce"/><stop offset="0.209" stop-color="#fde7b3"/><stop offset="0.228" stop-color="#fcda96"/><stop offset="0.246" stop-color="#fbcc75"/><stop offset="0.265" stop-color="#faba50"/><stop offset="0.284" stop-color="#f9b044"/><stop offset="0.303" stop-color="#f9aa40"/><stop offset="0.322" stop-color="#f8a43c"/><stop offset="0.340" stop-color="#f79e38"/><stop offset="0.359" stop-color="#f59938"/><stop offset="0.378" stop-color="#f3953b"/><stop offset="0.397" stop-color="#f1903d"/><stop offset="0.415" stop-color="#ee8b40"/><stop offset="0.434" stop-color="#ec8642"/><stop offset="0.453" stop-color="#e88247"/><stop offset="0.472" stop-color="#e47e4a"/><stop offset="0.491" stop-color="#e17b4e"/><stop offset="0.509" stop-color="#de7851"/><stop offset="0.528" stop-color="#db7454"/><stop offset="0.547" stop-color="#d77356"/><stop offset="0.566" stop-color="#d37158"/><stop offset="0.585" stop-color="#d0705a"/><stop offset="0.603" stop-color="#cc6e5c"/><stop offset="0.622" stop-color="#c86d5e"/><stop offset="0.641" stop-color="#c46b60"/><stop offset="0.660" stop-color="#c06a62"/><stop offset="0.678" stop-color="#bd6863"/><stop offset="0.697" stop-color="#ba6864"/><stop offset="0.716" stop-color="#b66666"/><stop offset="0.735" stop-color="#b46567"/><stop offset="0.754" stop-color="#b06468"/><stop offset="0.772" stop-color="#ac636a"/><stop offset="0.791" stop-color="#a9626b"/><stop offset="0.810" stop-color="#a7616c"/><stop offset="0.829" stop-color="#a5616c"/><stop offset="0.847" stop-color="#a3606d"/><stop offset="0.866" stop-color="#a0606e"/><stop offset="0.885" stop-color="#9f5f6e"/><stop offset="0.904" stop-color="#9e5f6e"/><stop offset="0.923" stop-color="#9d5f6f"/><stop offset="0.941" stop-color="#9c5e6f"/><stop offset="0.960" stop-color="#9b5e6f"/><stop offset="0.979" stop-color="#9a5e70"/><stop offset="0.998" stop-color="#995e70"/></linearGradient>
<linearGradient id="hr17"><stop offset="0.077" stop-color="#ffffff"/><stop offset="0.096" stop-color="#ffffff"/><stop offset="0.115" stop-color="#ffffff"/><stop offset="0.134" stop-color="#ffffff"/><stop offset="0.153" stop-color="#fffdf9"/><stop offset="0.171" stop-color="#fff9ea"/><stop offset="0.190" stop-color="#fef2d7"/><stop offset="0.209" stop-color="#feebc1"/><stop offset="0.228" stop-color="#fde1a8"/><stop offset="0.246" stop-color="#fcd68c"/><stop offset="0.265" stop-color="#fbc86d"/><stop offset="0.284" stop-color="#fab84e"/><stop offset="0.303" stop-color="#f9b248"/><stop offset="0.322" stop-color="#f9ad45"/><stop offset="0.340" stop-color="#f8a942"/><stop offset="0.359" stop-color="#f7a542"/><stop offset="0.378" stop-color="#f5a144"/><stop offset="0.397" stop-color="#f39d46"/><stop offset="0.415" stop-color="#f19948"/><stop offset="0.434" stop-color="#ef964a"/><stop offset="0.453" stop-color="#ec924e"/><stop offset="0.472" stop-color="#e98f50"/><stop offset="0.491" stop-color="#e68c53"/><stop offset="0.509" stop-color="#e48a55"/><stop offset="0.528" stop-color="#e28758"/><stop offset="0.547" stop-color="#df865a"/><stop offset="0.566" stop-color="#dc855b"/><stop offset="0.585" stop-color="#d9845d"/><stop offset="0.603" stop-color="#d6825e"/><stop offset="0.622" stop-color="#d38160"/><stop offset="0.641" stop-color="#d08061"/><stop offset="0.660" stop-color="#cd7f63"/><stop offset="0.678" stop-color="#ca7e64"/><stop offset="0.697" stop-color="#c87d65"/><stop offset="0.716" stop-color="#c57c66"/><stop offset="0.735" stop-color="#c37c67"/><stop offset="0.754" stop-color="#c07b68"/><stop offset="0.772" stop-color="#bd7a69"/><stop offset="0.791" stop-color="#bb796a"/><stop offset="0.810" stop-color="#b9786b"/><stop offset="0.829" stop-color="#b7786b"/><stop offset="0.847" stop-color="#b5776c"/><stop offset="0.866" stop-color="#b3776d"/><stop offset="0.885" stop-color="#b3776d"/><stop offset="0.904" stop-color="#b2766d"/><stop offset="0.923" stop-color="#b1766d"/><stop offset="0.941" stop-color="#b0766e"/><stop offset="0.960" stop-color="#af766e"/><stop offset="0.979" stop-color="#ae766e"/><stop offset="0.998" stop-color="#ad756e"/></linearGradient>
<linearGradient id="hr18"><stop offset="0.077" stop-color="#ffffff"/><stop offset="0.096" stop-color="#ffffff"/><stop offset="0.115" stop-color="#ffffff"/><stop offset="0.134" stop-color="#ffffff"/><stop offset="0.153" stop-color="#fffefc"/><stop offset="0.171" stop-color="#fffaf0"/><stop offset="0.190" stop-color="#fef5df"/><stop offset="0.209" stop-color="#feefcc"/><stop offset="0.228" stop-color="#fde7b6"/><stop offset="0.246" stop-color="#fddd9f"/><stop offset="0.265" stop-color="#fcd385"/><stop offset="0.284" stop-color="#fbc66a"/><stop offset="0.303" stop-color="#faba51"/><stop offset="0.322" stop-color="#fab64e"/><stop offset="0.340" stop-color="#f9b34c"/><stop offset="0.359" stop-color="#f8b04c"/><stop offset="0.378" stop-color="#f7ad4e"/><stop offset="0.397" stop-color="#f5ab4f"/><stop offset="0.415" stop-color="#f4a851"/><stop offset="0.434" stop-color="#f3a552"/><stop offset="0.453" stop-color="#f0a255"/><stop offset="0.472" stop-color="#eea057"/><stop offset="0.491" stop-color="#ec9e59"/><stop offset="0.509" stop-color="#eb9d5a"/><stop offset="0.528" stop-color="#e99b5c"/><stop offset="0.547" stop-color="#e79a5e"/><stop offset="0.566" stop-color="#e4995f"/><stop offset="0.585" stop-color="#e29860"/><stop offset="0.603" stop-color="#e09761"/><stop offset="0.622" stop-color="#de9662"/><stop offset="0.641" stop-color="#db9563"/><stop offset="0.660" stop-color="#d99464"/><stop offset="0.678" stop-color="#d79365"/><stop offset="0.697" stop-color="#d59366"/><stop offset="0.716" stop-color="#d39267"/><stop offset="0.735" stop-color="#d29267"/><stop offset="0.754" stop-color="#d09168"/><stop offset="0.772" stop-color="#cd9069"/><stop offset="0.791" stop-color="#cc906a"/><stop offset="0.810" stop-color="#ca8f6a"/><stop offset="0.829" stop-color="#c98f6b"/><stop offset="0.847" stop-color="#c88f6b"/><stop offset="0.866" stop-color="#c68e6b"/><stop offset="0.885" stop-color="#c68e6c"/><stop offset="0.904" stop-color="#c58e6c"/><stop offset="0.923" stop-color="#c58e6c"/><stop offset="0.941" stop-color="#c48e6c"/><stop offset="0.960" stop-color="#c38e6c"/><stop offset="0.979" stop-color="#c38d6c"/><stop offset="0.998" stop-color="#c28d6d"/></linearGradient>
<linearGradient id="hr19"><stop offset="0.077" stop-color="#ffffff"/><stop offset="0.096" stop-color="#ffffff"/><stop offset="0.115" stop-color="#ffffff"/><stop offset="0.134" stop-color="#ffffff"/><stop offset="0.153" stop-color="#ffffff"/><stop offset="0.171" stop-color="#fffcf4"/><stop offset="0.190" stop-color="#fef7e6"/><stop offset="0.209" stop-color="#fef2d5"/><stop offset="0.228" stop-color="#feebc2"/><stop offset="0.246" stop-color="#fde4ae"/><stop offset="0.265" stop-color="#fddb98"/><stop offset="0.284" stop-color="#fcd281"/><stop offset="0.303" stop-color="#fbc86a"/><stop offset="0.322" stop-color="#fabf57"/><stop offset="0.340" stop-color="#fabd55"/><stop offset="0.359" stop-color="#f9bb55"/><stop offset="0.378" stop-color="#f9b956"/><stop offset="0.397" stop-color="#f8b757"/><stop offset="0.415" stop-color="#f7b558"/><stop offset="0.434" stop-color="#f6b359"/><stop offset="0.453" stop-color="#f4b25b"/><stop offset="0.472" stop-color="#f3b05c"/><stop offset="0.491" stop-color="#f1af5e"/><stop offset="0.509" stop-color="#f0ae5f"/><stop offset="0.528" stop-color="#efad60"/><stop offset="0.547" stop-color="#eeac61"/><stop offset="0.566" stop-color="#ecab62"/><stop offset="0.585" stop-color="#ebab63"/><stop offset="0.603" stop-color="#e9aa63"/><stop offset="0.622" stop-color="#e8a964"/><stop offset="0.641" stop-color="#e6a965"/><stop offset="0.660" stop-color="#e5a865"/><stop offset="0.678" stop-color="#e3a866"/><stop offset="0.697" stop-color="#e2a766"/><stop offset="0.716" stop-color="#e1a767"/><stop offset="0.735" stop-color="#e0a767"/><stop offset="0.754" stop-color="#dea668"/><stop offset="0.772" stop-color="#dda669"/><stop offset="0.791" stop-color="#dca569"/><stop offset="0.810" stop-color="#dba569"/><stop offset="0.829" stop-color="#daa56a"/><stop offset="0.847" stop-color="#d9a56a"/><stop offset="0.866" stop-color="#d8a46a"/><stop offset="0.885" stop-color="#d8a46a"/><stop offset="0.904" stop-color="#d8a46a"/><stop offset="0.923" stop-color="#d7a46b"/><stop offset="0.941" stop-color="#d7a46b"/><stop offset="0.960" stop-color="#d6a46b"/><stop offset="0.979" stop-color="#d6a46b"/><stop offset="0.998" stop-color="#d6a46b"/></linearGradient>
<linearGradient id="hr20"><stop offset="0.077" stop-color="#ffffff"/><stop offset="0.096" stop-color="#ffffff"/><stop offset="0.115" stop-color="#ffffff"/><stop offset="0.134" stop-color="#ffffff"/><stop offset="0.153" stop-color="#ffffff"/><stop offset="0.171" stop-color="#fffdf8"/><stop offset="0.190" stop-color="#fff9ec"/><stop offset="0.209" stop-color="#fef4dd"/><stop offset="0.228" stop-color="#feefcc"/><stop offset="0.246" stop-color="#fee9ba"/><stop offset="0.265" stop-color="#fde2a7"/><stop offset="0.284" stop-color="#fddb94"/><stop offset="0.303" stop-color="#fcd380"/><stop offset="0.322" stop-color="#fbcb6b"/><stop offset="0.340" stop-color="#fbc55e"/><stop offset="0.359" stop-color="#fbc45e"/><stop offset="0.378" stop-color="#fac35e"/><stop offset="0.397" stop-color="#fac25f"/><stop offset="0.415" stop-color="#f9c15f"/><stop offset="0.434" stop-color="#f8c060"/><stop offset="0.453" stop-color="#f8bf61"/><stop offset="0.472" stop-color="#f7be62"/><stop offset="0.491" stop-color="#f6bd62"/><stop offset="0.509" stop-color="#f6bd63"/><stop offset="0.528" stop-color="#f5bc64"/><stop offset="0.547" stop-color="#f4bc64"/><stop offset="0.566" stop-color="#f3bb65"/><stop offset="0.585" stop-color="#f2bb65"/><stop offset="0.603" stop-color="#f1bb65"/><stop offset="0.622" stop-color="#f1ba66"/><stop offset="0.641" stop-color="#f0ba66"/><stop offset="0.660" stop-color="#efba67"/><stop offset="0.678" stop-color="#eeb967"/><stop offset="0.697" stop-color="#eeb967"/><stop offset="0.716" stop-color="#edb967"/><stop offset="0.735" stop-color="#ecb968"/><stop offset="0.754" stop-color="#ebb968"/><stop offset="0.772" stop-color="#ebb868"/><stop offset="0.791" stop-color="#eab869"/><stop offset="0.810" stop-color="#e9b869"/><stop offset="0.829" stop-color="#e9b869"/><stop offset="0.847" stop-color="#e9b869"/><stop offset="0.866" stop-color="#e8b869"/><stop offset="0.885" stop-color="#e8b769"/><stop offset="0.904" stop-color="#e8b769"/><stop offset="0.923" stop-color="#e7b769"/><stop offset="0.941" stop-color="#e7b76a"/><stop offset="0.960" stop-color="#e7b76a"/><stop offset="0.979" stop-color="#e7b76a"/><stop offset="0.998" stop-color="#e6b76a"/></linearGradient>
<linearGradient id="hr21"><stop offset="0.077" stop-color="#ffffff"/><stop offset="0.096" stop-color="#ffffff"/><stop offset="0.115" stop-color="#ffffff"/><stop offset="0.134" stop-color="#ffffff"/><stop offset="0.153" stop-color="#ffffff"/><stop offset="0.171" stop-color="#fffefc"/><stop offset="0.190" stop-color="#fffbf1"/><stop offset="0.209" stop-color="#fef6e3"/><stop offset="0.228" stop-color="#fef2d5"/><stop offset="0.246" stop-color="#feedc5"/><stop offset="0.265" stop-color="#fde7b4"/><stop offset="0.284" stop-color="#fde1a3"/><stop offset="0.303" stop-color="#fddb91"/><stop offset="0.322" stop-color="#fcd57f"/><stop offset="0.340" stop-color="#fcce6c"/><stop offset="0.359" stop-color="#fbcb64"/><stop offset="0.378" stop-color="#fbcb64"/><stop offset="0.397" stop-color="#fbca64"/><stop offset="0.415" stop-color="#fbca64"/><stop offset="0.434" stop-color="#fbc965"/><stop offset="0.453" stop-color="#fac965"/><stop offset="0.472" stop-color="#fac965"/><stop offset="0.491" stop-color="#fac866"/><stop offset="0.509" stop-color="#f9c866"/><stop offset="0.528" stop-color="#f9c866"/><stop offset="0.547" stop-color="#f9c866"/><stop offset="0.566" stop-color="#f8c867"/><stop offset="0.585" stop-color="#f8c767"/><stop offset="0.603" stop-color="#f8c767"/><stop offset="0.622" stop-color="#f7c767"/><stop offset="0.641" stop-color="#f7c767"/><stop offset="0.660" stop-color="#f7c767"/><stop offset="0.678" stop-color="#f6c768"/><stop offset="0.697" stop-color="#f6c768"/><stop offset="0.716" stop-color="#f6c768"/><stop offset="0.735" stop-color="#f6c768"/><stop offset="0.754" stop-color="#f5c668"/><stop offset="0.772" stop-color="#f5c668"/><stop offset="0.791" stop-color="#f5c668"/><stop offset="0.810" stop-color="#f4c668"/><stop offset="0.829" stop-color="#f4c668"/><stop offset="0.847" stop-color="#f4c668"/><stop offset="0.866" stop-color="#f4c669"/><stop offset="0.885" stop-color="#f4c669"/><stop offset="0.904" stop-color="#f4c669"/><stop offset="0.923" stop-color="#f4c669"/><stop offset="0.941" stop-color="#f4c669"/><stop offset="0.960" stop-color="#f3c669"/><stop offset="0.979" stop-color="#f3c669"/><stop offset="0.998" stop-color="#f3c669"/></linearGradient>
<linearGradient id="hr22"><stop offset="0.077" stop-color="#ffffff"/><stop offset="0.096" stop-color="#ffffff"/><stop offset="0.115" stop-color="#ffffff"/><stop offset="0.134" stop-color="#ffffff"/><stop offset="0.153" stop-color="#ffffff"/><stop offset="0.171" stop-color="#ffffff"/><stop offset="0.190" stop-color="#fffcf5"/><stop offset="0.209" stop-color="#fff8e9"/><stop offset="0.228" stop-color="#fef4dc"/><stop offset="0.246" stop-color="#fef0ce"/><stop offset="0.265" stop-color="#feebbf"/><stop offset="0.284" stop-color="#fde6af"/><stop offset="0.303" stop-color="#fde19f"/><stop offset="0.322" stop-color="#fddc8e"/><stop offset="0.340" stop-color="#fcd67e"/><stop offset="0.359" stop-color="#fcd16c"/><stop offset="0.378" stop-color="#fccf67"/><stop offset="0.397" stop-color="#fccf67"/><stop offset="0.415" stop-color="#fccf67"/><stop offset="0.434" stop-color="#fccf68"/><stop offset="0.453" stop-color="#fccf68"/><stop offset="0.472" stop-color="#fccf68"/><stop offset="0.491" stop-color="#fccf68"/><stop offset="0.509" stop-color="#fccf68"/><stop offset="0.528" stop-color="#fccf68"/><stop offset="0.547" stop-color="#fccf68"/><stop offset="0.566" stop-color="#fbcf68"/><stop offset="0.585" stop-color="#fbcf68"/><stop offset="0.603" stop-color="#fbcf68"/><stop offset="0.622" stop-color="#fbcf68"/><stop offset="0.641" stop-color="#fbcf68"/><stop offset="0.660" stop-color="#fbcf68"/><stop offset="0.678" stop-color="#fbcf68"/><stop offset="0.697" stop-color="#fbcf68"/><stop offset="0.716" stop-color="#fbcf68"/><stop offset="0.735" stop-color="#fbcf68"/><stop offset="0.754" stop-color="#fbcf68"/><stop offset="0.772" stop-color="#fbcf68"/><stop offset="0.791" stop-color="#fbcf68"/><stop offset="0.810" stop-color="#fbcf68"/><stop offset="0.829" stop-color="#fbcf68"/><stop offset="0.847" stop-color="#fbcf68"/><stop offset="0.866" stop-color="#fbcf68"/><stop offset="0.885" stop-color="#fbcf68"/><stop offset="0.904" stop-color="#fbcf68"/><stop offset="0.923" stop-color="#fbce68"/><stop offset="0.941" stop-color="#fbce68"/><stop offset="0.960" stop-color="#fbce68"/><stop offset="0.979" stop-color="#fbce68"/><stop offset="0.998" stop-color="#fbce68"/></linearGradient>
<linearGradient id="hr23"><stop offset="0.077" stop-color="#ffffff"/><stop offset="0.096" stop-color="#ffffff"/><stop offset="0.115" stop-color="#ffffff"/><stop offset="0.134" stop-color="#ffffff"/><stop offset="0.153" stop-color="#ffffff"/><stop offset="0.171" stop-color="#ffffff"/><stop offset="0.190" stop-color="#fffdf9"/><stop offset="0.209" stop-color="#fffaee"/><stop offset="0.228" stop-color="#fef6e1"/><stop offset="0.246" stop-color="#fef1d3"/><stop offset="0.265" stop-color="#feedc5"/><stop offset="0.284" stop-color="#fee8b5"/><stop offset="0.303" stop-color="#fde3a6"/><stop offset="0.322" stop-color="#fdde95"/><stop offset="0.340" stop-color="#fdd985"/><stop offset="0.359" stop-color="#fcd474"/><stop offset="0.378" stop-color="#fcd068"/><stop offset="0.397" stop-color="#fcd068"/><stop offset="0.415" stop-color="#fcd068"/><stop offset="0.434" stop-color="#fcd068"/><stop offset="0.453" stop-color="#fcd068"/><stop offset="0.472" stop-color="#fcd068"/><stop offset="0.491" stop-color="#fcd068"/><stop offset="0.509" stop-color="#fcd068"/><stop offset="0.528" stop-color="#fcd068"/><stop offset="0.547" stop-color="#fcd068"/><stop offset="0.566" stop-color="#fcd068"/><stop offset="0.585" stop-color="#fcd068"/><stop offset="0.603" stop-color="#fcd068"/><stop offset="0.622" stop-color="#fcd068"/><stop offset="0.641" stop-color="#fcd068"/><stop offset="0.660" stop-color="#fcd068"/><stop offset="0.678" stop-color="#fcd068"/><stop offset="0.697" stop-color="#fcd068"/><stop offset="0.716" stop-color="#fcd068"/><stop offset="0.735" stop-color="#fcd068"/><stop offset="0.754" stop-color="#fcd068"/><stop offset="0.772" stop-color="#fcd068"/><stop offset="0.791" stop-color="#fcd068"/><stop offset="0.810" stop-color="#fcd068"/><stop offset="0.829" stop-color="#fcd068"/><stop offset="0.847" stop-color="#fcd068"/><stop offset="0.866" stop-color="#fcd068"/><stop offset="0.885" stop-color="#fcd068"/><stop offset="0.904" stop-color="#fcd068"/><stop offset="0.923" stop-color="#fcd068"/><stop offset="0.941" stop-color="#fcd068"/><stop offset="0.960" stop-color="#fcd068"/><stop offset="0.979" stop-color="#fcd068"/><stop offset="0.998" stop-color="#fcd068"/></linearGradient>
<linearGradient id="hr24"><stop offset="0.077" stop-color="#ffffff"/><stop offset="0.096" stop-color="#ffffff"/><stop offset="0.115" stop-color="#ffffff"/><stop offset="0.134" stop-color="#ffffff"/><stop offset="0.153" stop-color="#ffffff"/><stop offset="0.171" stop-color="#ffffff"/><stop offset="0.190" stop-color="#fffefd"/><stop offset="0.209" stop-color="#fffbf3"/><stop offset="0.228" stop-color="#fff7e6"/><stop offset="0.246" stop-color="#fef3d8"/><stop offset="0.265" stop-color="#feeeca"/><stop offset="0.284" stop-color="#feeaba"/><stop offset="0.303" stop-color="#fde5aa"/><stop offset="0.322" stop-color="#fde09a"/><stop offset="0.340" stop-color="#fdda89"/><stop offset="0.359" stop-color="#fcd578"/><stop offset="0.378" stop-color="#fcd068"/><stop offset="0.397" stop-color="#fcd068"/><stop offset="0.415" stop-color="#fcd068"/><stop offset="0.434" stop-color="#fcd068"/><stop offset="0.453" stop-color="#fcd068"/><stop offset="0.472" stop-color="#fcd068"/><stop offset="0.491" stop-color="#fcd068"/><stop offset="0.509" stop-color="#fcd068"/><stop offset="0.528" stop-color="#fcd068"/><stop offset="0.547" stop-color="#fcd068"/><stop offset="0.566" stop-color="#fcd068"/><stop offset="0.585" stop-color="#fcd068"/><stop offset="0.603" stop-color="#fcd068"/><stop offset="0.622" stop-color="#fcd068"/><stop offset="0.641" stop-color="#fcd068"/><stop offset="0.660" stop-color="#fcd068"/><stop offset="0.678" stop-color="#fcd068"/><stop offset="0.697" stop-color="#fcd068"/><stop offset="0.716" stop-color="#fcd068"/><stop offset="0.735" stop-color="#fcd068"/><stop offset="0.754" stop-color="#fcd068"/><stop offset="0.772" stop-color="#fcd068"/><stop offset="0.791" stop-color="#fcd068"/><stop offset="0.810" stop-color="#fcd068"/><stop offset="0.829" stop-color="#fcd068"/><stop offset="0.847" stop-color="#fcd068"/><stop offset="0.866" stop-color="#fcd068"/><stop offset="0.885" stop-color="#fcd068"/><stop offset="0.904" stop-color="#fcd068"/><stop offset="0.923" stop-color="#fcd068"/><stop offset="0.941" stop-color="#fcd068"/><stop offset="0.960" stop-color="#fcd068"/><stop offset="0.979" stop-color="#fcd068"/><stop offset="0.998" stop-color="#fcd068"/></linearGradient>
<linearGradient id="hr25"><stop offset="0.077" stop-color="#ffffff"/><stop offset="0.096" stop-color="#ffffff"/><stop offset="0.115" stop-color="#ffffff"/><stop offset="0.134" stop-color="#ffffff"/><stop offset="0.153" stop-color="#ffffff"/><stop offset="0.171" stop-color="#ffffff"/><stop offset="0.190" stop-color="#ffffff"/><stop offset="0.209" stop-color="#fffdf7"/><stop offset="0.228" stop-color="#fff9eb"/><stop offset="0.246" stop-color="#fef4dd"/><stop offset="0.265" stop-color="#fef0ce"/><stop offset="0.284" stop-color="#feebbf"/><stop offset="0.303" stop-color="#fde5ae"/><stop offset="0.322" stop-color="#fde09e"/><stop offset="0.340" stop-color="#fddb8c"/><stop offset="0.359" stop-color="#fcd57b"/><stop offset="0.378" stop-color="#fccf68"/><stop offset="0.397" stop-color="#fccf66"/><stop offset="0.415" stop-color="#fccf66"/><stop offset="0.434" stop-color="#fccf66"/><stop offset="0.453" stop-color="#fccf66"/><stop offset="0.472" stop-color="#fccf66"/><stop offset="0.491" stop-color="#fccf66"/><stop offset="0.509" stop-color="#fccf66"/><stop offset="0.528" stop-color="#fccf66"/><stop offset="0.547" stop-color="#fccf66"/><stop offset="0.566" stop-color="#fccf66"/><stop offset="0.585" stop-color="#fccf66"/><stop offset="0.603" stop-color="#fccf66"/><stop offset="0.622" stop-color="#fccf66"/><stop offset="0.641" stop-color="#fccf66"/><stop offset="0.660" stop-color="#fccf66"/><stop offset="0.678" stop-color="#fccf66"/><stop offset="0.697" stop-color="#fccf66"/><stop offset="0.716" stop-color="#fccf66"/><stop offset="0.735" stop-color="#fccf66"/><stop offset="0.754" stop-color="#fccf66"/><stop offset="0.772" stop-color="#fccf66"/><stop offset="0.791" stop-color="#fccf66"/><stop offset="0.810" stop-color="#fccf66"/><stop offset="0.829" stop-color="#fccf66"/><stop offset="0.847" stop-color="#fccf66"/><stop offset="0.866" stop-color="#fccf66"/><stop offset="0.885" stop-color="#fccf66"/><stop offset="0.904" stop-color="#fccf66"/><stop offset="0.923" stop-color="#fccf66"/><stop offset="0.941" stop-color="#fccf66"/><stop offset="0.960" stop-color="#fccf66"/><stop offset="0.979" stop-color="#fccf66"/><stop offset="0.998" stop-color="#fccf66"/></linearGradient>
<linearGradient id="hr26"><stop offset="0.077" stop-color="#ffffff"/><stop offset="0.096" stop-color="#ffffff"/><stop offset="0.115" stop-color="#ffffff"/><stop offset="0.134" stop-color="#ffffff"/><stop offset="0.153" stop-color="#ffffff"/><stop offset="0.171" stop-color="#ffffff"/><stop offset="0.190" stop-color="#ffffff"/><stop offset="0.209" stop-color="#fffefb"/><stop offset="0.228" stop-color="#fffaf0"/><stop offset="0.246" stop-color="#fef5e2"/><stop offset="0.265" stop-color="#fef0d2"/><stop offset="0.284" stop-color="#feebc2"/><stop offset="0.303" stop-color="#fde6b2"/><stop offset="0.322" stop-color="#fde0a0"/><stop offset="0.340" stop-color="#fdda8e"/><stop offset="0.359" stop-color="#fcd47c"/><stop offset="0.378" stop-color="#fcce69"/><stop offset="0.397" stop-color="#fccb62"/><stop offset="0.415" stop-color="#fccb62"/><stop offset="0.434" stop-color="#fccb62"/><stop offset="0.453" stop-color="#fccb62"/><stop offset="0.472" stop-color="#fccb62"/><stop offset="0.491" stop-color="#fccb62"/><stop offset="0.509" stop-color="#fccb62"/><stop offset="0.528" stop-color="#fccb62"/><stop offset="0.547" stop-color="#fccb62"/><stop offset="0.566" stop-color="#fccb62"/><stop offset="0.585" stop-color="#fccb62"/><stop offset="0.603" stop-color="#fccb62"/><stop offset="0.622" stop-color="#fccb62"/><stop offset="0.641" stop-color="#fccb62"/><stop offset="0.660" stop-color="#fccb62"/><stop offset="0.678" stop-color="#fccb62"/><stop offset="0.697" stop-color="#fccb62"/><stop offset="0.716" stop-color="#fccb62"/><stop offset="0.735" stop-color="#fccb62"/><stop offset="0.754" stop-color="#fccb62"/><stop offset="0.772" stop-color="#fccb62"/><stop offset="0.791" stop-color="#fccb62"/><stop offset="0.810" stop-color="#fccb62"/><stop offset="0.829" stop-color="#fccb62"/><stop offset="0.847" stop-color="#fccb62"/><stop offset="0.866" stop-color="#fccb62"/><stop offset="0.885" stop-color="#fccb62"/><stop offset="0.904" stop-color="#fccb62"/><stop offset="0.923" stop-color="#fccb62"/><stop offset="0.941" stop-color="#fccb62"/><stop offset="0.960" stop-color="#fccb62"/><stop offset="0.979" stop-color="#fccb62"/><stop offset="0.998" stop-color="#fccb62"/></linearGradient>
<linearGradient id="hr27"><stop offset="0.077" stop-color="#ffffff"/><stop offset="0.096" stop-color="#ffffff"/><stop offset="0.115" stop-color="#ffffff"/><stop offset="0.134" stop-color="#ffffff"/><stop offset="0.153" stop-color="#ffffff"/><stop offset="0.171" stop-color="#ffffff"/><stop offset="0.190" stop-color="#ffffff"/><stop offset="0.209" stop-color="#ffffff"/><stop offset="0.228" stop-color="#fffbf4"/><stop offset="0.246" stop-color="#fef7e6"/><stop offset="0.265" stop-color="#fef1d7"/><stop offset="0.284" stop-color="#feebc6"/><stop offset="0.303" stop-color="#fde5b5"/><stop offset="0.322" stop-color="#fddfa2"/><stop offset="0.340" stop-color="#fdd990"/><stop offset="0.359" stop-color="#fcd27c"/><stop offset="0.378" stop-color="#fccb68"/><stop offset="0.397" stop-color="#fbc75d"/><stop offset="0.415" stop-color="#fbc75d"/><stop offset="0.434" stop-color="#fbc75d"/><stop offset="0.453" stop-color="#fbc75d"/><stop offset="0.472" stop-color="#fbc75d"/><stop offset="0.491" stop-color="#fbc75d"/><stop offset="0.509" stop-color="#fbc75d"/><stop offset="0.528" stop-color="#fbc75d"/><stop offset="0.547" stop-color="#fbc75d"/><stop offset="0.566" stop-color="#fbc75d"/><stop offset="0.585" stop-color="#fbc75d"/><stop offset="0.603" stop-color="#fbc75d"/><stop offset="0.622" stop-color="#fbc75d"/><stop offset="0.641" stop-color="#fbc75d"/><stop offset="0.660" stop-color="#fbc75d"/><stop offset="0.678" stop-color="#fbc75d"/><stop offset="0.697" stop-color="#fbc75d"/><stop offset="0.716" stop-color="#fbc75d"/><stop offset="0.735" stop-color="#fbc75d"/><stop offset="0.754" stop-color="#fbc75d"/><stop offset="0.772" stop-color="#fbc75d"/><stop offset="0.791" stop-color="#fbc75d"/><stop offset="0.810" stop-color="#fbc75d"/><stop offset="0.829" stop-color="#fbc75d"/><stop offset="0.847" stop-color="#fbc75d"/><stop offset="0.866" stop-color="#fbc75d"/><stop offset="0.885" stop-color="#fbc75d"/><stop offset="0.904" stop-color="#fbc75d"/><stop offset="0.923" stop-color="#fbc75d"/><stop offset="0.941" stop-color="#fbc75d"/><stop offset="0.960" stop-color="#fbc75d"/><stop offset="0.979" stop-color="#fbc75d"/><stop offset="0.998" stop-color="#fbc75d"/></linearGradient>
<linearGradient id="hr28"><stop offset="0.077" stop-color="#ffffff"/><stop offset="0.096" stop-color="#ffffff"/><stop offset="0.115" stop-color="#ffffff"/><stop offset="0.134" stop-color="#ffffff"/><stop offset="0.153" stop-color="#ffffff"/><stop offset="0.171" stop-color="#ffffff"/><stop offset="0.190" stop-color="#ffffff"/><stop offset="0.209" stop-color="#ffffff"/><stop offset="0.228" stop-color="#fffdf9"/><stop offset="0.246" stop-color="#fff8eb"/><stop offset="0.265" stop-color="#fef2dc"/><stop offset="0.284" stop-color="#feecca"/><stop offset="0.303" stop-color="#fde6b8"/><stop offset="0.322" stop-color="#fddfa5"/><stop offset="0.340" stop-color="#fdd892"/><stop offset="0.359" stop-color="#fcd17d"/><stop offset="0.378" stop-color="#fcc969"/><stop offset="0.397" stop-color="#fbc357"/><stop offset="0.415" stop-color="#fbc357"/><stop offset="0.434" stop-color="#fbc357"/><stop offset="0.453" stop-color="#fbc357"/><stop offset="0.472" stop-color="#fbc357"/><stop offset="0.491" stop-color="#fbc357"/><stop offset="0.509" stop-color="#fbc357"/><stop offset="0.528" stop-color="#fbc357"/><stop offset="0.547" stop-color="#fbc357"/><stop offset="0.566" stop-color="#fbc357"/><stop offset="0.585" stop-color="#fbc357"/><stop offset="0.603" stop-color="#fbc357"/><stop offset="0.622" stop-color="#fbc357"/><stop offset="0.641" stop-color="#fbc357"/><stop offset="0.660" stop-color="#fbc357"/><stop offset="0.678" stop-color="#fbc357"/><stop offset="0.697" stop-color="#fbc357"/><stop offset="0.716" stop-color="#fbc357"/><stop offset="0.735" stop-color="#fbc357"/><stop offset="0.754" stop-color="#fbc357"/><stop offset="0.772" stop-color="#fbc357"/><stop offset="0.791" stop-color="#fbc357"/><stop offset="0.810" stop-color="#fbc357"/><stop offset="0.829" stop-color="#fbc357"/><stop offset="0.847" stop-color="#fbc357"/><stop offset="0.866" stop-color="#fbc357"/><stop offset="0.885" stop-color="#fbc357"/><stop offset="0.904" stop-color="#fbc357"/><stop offset="0.923" stop-color="#fbc357"/><stop offset="0.941" stop-color="#fbc357"/><stop offset="0.960" stop-color="#fbc357"/><stop offset="0.979" stop-color="#fbc357"/><stop offset="0.998" stop-color="#fbc357"/></linearGradient>
<linearGradient id="hr29"><stop offset="0.077" stop-color="#ffffff"/><stop offset="0.096" stop-color="#ffffff"/><stop offset="0.115" stop-color="#ffffff"/><stop offset="0.134" stop-color="#ffffff"/><stop offset="0.153" stop-color="#ffffff"/><stop offset="0.171" stop-color="#ffffff"/><stop offset="0.190" stop-color="#ffffff"/><stop offset="0.209" stop-color="#ffffff"/><stop offset="0.228" stop-color="#fffffe"/><stop offset="0.246" stop-color="#fffaf1"/><stop offset="0.265" stop-color="#fef4e1"/><stop offset="0.284" stop-color="#feeed0"/><stop offset="0.303" stop-color="#fde7bd"/><stop offset="0.322" stop-color="#fde0a9"/><stop offset="0.340" stop-color="#fdd895"/><stop offset="0.359" stop-color="#fcd080"/><stop offset="0.378" stop-color="#fcc96a"/><stop offset="0.397" stop-color="#fbc054"/><stop offset="0.415" stop-color="#fbc053"/><stop offset="0.434" stop-color="#fbc053"/><stop offset="0.453" stop-color="#fbc053"/><stop offset="0.472" stop-color="#fbc053"/><stop offset="0.491" stop-color="#fbc053"/><stop offset="0.509" stop-color="#fbc053"/><stop offset="0.528" stop-color="#fbc053"/><stop offset="0.547" stop-color="#fbc053"/><stop offset="0.566" stop-color="#fbc053"/><stop offset="0.585" stop-color="#fbc053"/><stop offset="0.603" stop-color="#fbc053"/><stop offset="0.622" stop-color="#fbc053"/><stop offset="0.641" stop-color="#fbc053"/><stop offset="0.660" stop-color="#fbc053"/><stop offset="0.678" stop-color="#fbc053"/><stop offset="0.697" stop-color="#fbc053"/><stop offset="0.716" stop-color="#fbc053"/><stop offset="0.735" stop-color="#fbc053"/><stop offset="0.754" stop-color="#fbc053"/><stop offset="0.772" stop-color="#fbc053"/><stop offset="0.791" stop-color="#fbc053"/><stop offset="0.810" stop-color="#fbc053"/><stop offset="0.829" stop-color="#fbc053"/><stop offset="0.847" stop-color="#fbc053"/><stop offset="0.866" stop-color="#fbc053"/><stop offset="0.885" stop-color="#fbc053"/><stop offset="0.904" stop-color="#fbc053"/><stop offset="0.923" stop-color="#fbc053"/><stop offset="0.941" stop-color="#fbc053"/><stop offset="0.960" stop-color="#fbc053"/><stop offset="0.979" stop-color="#fbc053"/><stop offset="0.998" stop-color="#fbc053"/></linearGradient>
<linearGradient id="hr30"><stop offset="0.077" stop-color="#ffffff"/><stop offset="0.096" stop-color="#ffffff"/><stop offset="0.115" stop-color="#ffffff"/><stop offset="0.134" stop-color="#ffffff"/><stop offset="0.153" stop-color="#ffffff"/><stop offset="0.171" stop-color="#ffffff"/><stop offset="0.190" stop-color="#ffffff"/><stop offset="0.209" stop-color="#ffffff"/><stop offset="0.228" stop-color="#ffffff"/><stop offset="0.246" stop-color="#fffcf6"/><stop offset="0.265" stop-color="#fef6e7"/><stop offset="0.284" stop-color="#fef0d6"/><stop offset="0.303" stop-color="#fee9c3"/><stop offset="0.322" stop-color="#fde1af"/><stop offset="0.340" stop-color="#fdda9a"/><stop offset="0.359" stop-color="#fcd285"/><stop offset="0.378" stop-color="#fcca6f"/><stop offset="0.397" stop-color="#fbc158"/><stop offset="0.415" stop-color="#fbbf52"/><stop offset="0.434" stop-color="#fbbf52"/><stop offset="0.453" stop-color="#fbbf52"/><stop offset="0.472" stop-color="#fbbf52"/><stop offset="0.491" stop-color="#fbbf52"/><stop offset="0.509" stop-color="#fbbf52"/><stop offset="0.528" stop-color="#fbbf52"/><stop offset="0.547" stop-color="#fbbf52"/><stop offset="0.566" stop-color="#fbbf52"/><stop offset="0.585" stop-color="#fbbf52"/><stop offset="0.603" stop-color="#fbbf52"/><stop offset="0.622" stop-color="#fbbf52"/><stop offset="0.641" stop-color="#fbbf52"/><stop offset="0.660" stop-color="#fbbf52"/><stop offset="0.678" stop-color="#fbbf52"/><stop offset="0.697" stop-color="#fbbf52"/><stop offset="0.716" stop-color="#fbbf52"/><stop offset="0.735" stop-color="#fbbf52"/><stop offset="0.754" stop-color="#fbbf52"/><stop offset="0.772" stop-color="#fbbf52"/><stop offset="0.791" stop-color="#fbbf52"/><stop offset="0.810" stop-color="#fbbf52"/><stop offset="0.829" stop-color="#fbbf52"/><stop offset="0.847" stop-color="#fbbf52"/><stop offset="0.866" stop-color="#fbbf52"/><stop offset="0.885" stop-color="#fbbf52"/><stop offset="0.904" stop-color="#fbbf52"/><stop offset="0.923" stop-color="#fbbf52"/><stop offset="0.941" stop-color="#fbbf52"/><stop offset="0.960" stop-color="#fbbf52"/><stop offset="0.979" stop-color="#fbbf52"/><stop offset="0.998" stop-color="#fbbf52"/></linearGradient>
<linearGradient id="hr31"><stop offset="0.077" stop-color="#ffffff"/><stop offset="0.096" stop-color="#ffffff"/><stop offset="0.115" stop-color="#ffffff"/><stop offset="0.134" stop-color="#ffffff"/><stop offset="0.153" stop-color="#ffffff"/><stop offset="0.171" stop-color="#ffffff"/><stop offset="0.190" stop-color="#ffffff"/><stop offset="0.209" stop-color="#ffffff"/><stop offset="0.228" stop-color="#ffffff"/><stop offset="0.246" stop-color="#fffdfa"/><stop offset="0.265" stop-color="#fef7ea"/><stop offset="0.284" stop-color="#fef0d8"/><stop offset="0.303" stop-color="#fee9c5"/><stop offset="0.322" stop-color="#fde1b0"/><stop offset="0.340" stop-color="#fdd89b"/><stop offset="0.359" stop-color="#fcd084"/><stop offset="0.378" stop-color="#fbc76d"/><stop offset="0.397" stop-color="#fbbe56"/><stop offset="0.415" stop-color="#fbba4c"/><stop offset="0.434" stop-color="#fbba4c"/><stop offset="0.453" stop-color="#fbba4c"/><stop offset="0.472" stop-color="#fbba4c"/><stop offset="0.491" stop-color="#fbba4c"/><stop offset="0.509" stop-color="#fbba4c"/><stop offset="0.528" stop-color="#fbba4c"/><stop offset="0.547" stop-color="#fbba4c"/><stop offset="0.566" stop-color="#fbba4c"/><stop offset="0.585" stop-color="#fbba4c"/><stop offset="0.603" stop-color="#fbba4c"/><stop offset="0.622" stop-color="#fbba4c"/><stop offset="0.641" stop-color="#fbba4c"/><stop offset="0.660" stop-color="#fbba4c"/><stop offset="0.678" stop-color="#fbba4c"/><stop offset="0.697" stop-color="#fbba4c"/><stop offset="0.716" stop-color="#fbba4c"/><stop offset="0.735" stop-color="#fbba4c"/><stop offset="0.754" stop-color="#fbba4c"/><stop offset="0.772" stop-color="#fbba4c"/><stop offset="0.791" stop-color="#fbba4c"/><stop offset="0.810" stop-color="#fbba4c"/><stop offset="0.829" stop-color="#fbba4c"/><stop offset="0.847" stop-color="#fbba4c"/><stop offset="0.866" stop-color="#fbba4c"/><stop offset="0.885" stop-color="#fbba4c"/><stop offset="0.904" stop-color="#fbba4c"/><stop offset="0.923" stop-color="#fbba4c"/><stop offset="0.941" stop-color="#fbba4c"/><stop offset="0.960" stop-color="#fbba4c"/><stop offset="0.979" stop-color="#fbba4c"/><stop offset="0.998" stop-color="#fbba4c"/></linearGradient>
<linearGradient id="hr32"><stop offset="0.077" stop-color="#ffffff"/><stop offset="0.096" stop-color="#ffffff"/><stop offset="0.115" stop-color="#ffffff"/><stop offset="0.134" stop-color="#ffffff"/><stop offset="0.153" stop-color="#ffffff"/><stop offset="0.171" stop-color="#ffffff"/><stop offset="0.190" stop-color="#ffffff"/><stop offset="0.209" stop-color="#ffffff"/><stop offset="0.228" stop-color="#ffffff"/><stop offset="0.246" stop-color="#fffefd"/><stop offset="0.265" stop-color="#fff7ed"/><stop offset="0.284" stop-color="#fef0da"/><stop offset="0.303" stop-color="#fde7c5"/><stop offset="0.322" stop-color="#fddeaf"/><stop offset="0.340" stop-color="#fcd497"/><stop offset="0.359" stop-color="#fcca7f"/><stop offset="0.378" stop-color="#fbc066"/><stop offset="0.397" stop-color="#fab54d"/><stop offset="0.415" stop-color="#faaf3e"/><stop offset="0.434" stop-color="#faaf3e"/><stop offset="0.453" stop-color="#faaf3e"/><stop offset="0.472" stop-color="#faaf3e"/><stop offset="0.491" stop-color="#faaf3e"/><stop offset="0.509" stop-color="#faaf3e"/><stop offset="0.528" stop-color="#faaf3e"/><stop offset="0.547" stop-color="#faaf3e"/><stop offset="0.566" stop-color="#faaf3e"/><stop offset="0.585" stop-color="#faaf3e"/><stop offset="0.603" stop-color="#faaf3e"/><stop offset="0.622" stop-color="#faaf3e"/><stop offset="0.641" stop-color="#faaf3e"/><stop offset="0.660" stop-color="#faaf3e"/><stop offset="0.678" stop-color="#faaf3e"/><stop offset="0.697" stop-color="#faaf3e"/><stop offset="0.716" stop-color="#faaf3e"/><stop offset="0.735" stop-color="#faaf3e"/><stop offset="0.754" stop-color="#faaf3e"/><stop offset="0.772" stop-color="#faaf3e"/><stop offset="0.791" stop-color="#faaf3e"/><stop offset="0.810" stop-color="#faaf3e"/><stop offset="0.829" stop-color="#faaf3e"/><stop offset="0.847" stop-color="#faaf3e"/><stop offset="0.866" stop-color="#faaf3e"/><stop offset="0.885" stop-color="#faaf3e"/><stop offset="0.904" stop-color="#faaf3e"/><stop offset="0.923" stop-color="#faaf3e"/><stop offset="0.941" stop-color="#faaf3e"/><stop offset="0.960" stop-color="#faaf3e"/><stop offset="0.979" stop-color="#faaf3e"/><stop offset="0.998" stop-color="#faaf3e"/></linearGradient>
<linearGradient id="hr33"><stop offset="0.077" stop-color="#ffffff"/><stop offset="0.096" stop-color="#ffffff"/><stop offset="0.115" stop-color="#ffffff"/><stop offset="0.134" stop-color="#ffffff"/><stop offset="0.153" stop-color="#ffffff"/><stop offset="0.171" stop-color="#ffffff"/><stop offset="0.190" stop-color="#ffffff"/><stop offset="0.209" stop-color="#ffffff"/><stop offset="0.228" stop-color="#ffffff"/><stop offset="0.246" stop-color="#ffffff"/><stop offset="0.265" stop-color="#fff8f0"/><stop offset="0.284" stop-color="#feefdc"/><stop offset="0.303" stop-color="#fde5c5"/><stop offset="0.322" stop-color="#fddbad"/><stop offset="0.340" stop-color="#fcd094"/><stop offset="0.359" stop-color="#fbc47a"/><stop offset="0.378" stop-color="#fab85f"/><stop offset="0.397" stop-color="#faab43"/><stop offset="0.415" stop-color="#f9a22e"/><stop offset="0.434" stop-color="#f9a22e"/><stop offset="0.453" stop-color="#f9a22e"/><stop offset="0.472" stop-color="#f9a22e"/><stop offset="0.491" stop-color="#f9a22e"/><stop offset="0.509" stop-color="#f9a22e"/><stop offset="0.528" stop-color="#f9a22e"/><stop offset="0.547" stop-color="#f9a22e"/><stop offset="0.566" stop-color="#f9a22e"/><stop offset="0.585" stop-color="#f9a22e"/><stop offset="0.603" stop-color="#f9a22e"/><stop offset="0.622" stop-color="#f9a22e"/><stop offset="0.641" stop-color="#f9a22e"/><stop offset="0.660" stop-color="#f9a22e"/><stop offset="0.678" stop-color="#f9a22e"/><stop offset="0.697" stop-color="#f9a22e"/><stop offset="0.716" stop-color="#f9a22e"/><stop offset="0.735" stop-color="#f9a22e"/><stop offset="0.754" stop-color="#f9a22e"/><stop offset="0.772" stop-color="#f9a22e"/><stop offset="0.791" stop-color="#f9a22e"/><stop offset="0.810" stop-color="#f9a22e"/><stop offset="0.829" stop-color="#f9a22e"/><stop offset="0.847" stop-color="#f9a22e"/><stop offset="0.866" stop-color="#f9a22e"/><stop offset="0.885" stop-color="#f9a22e"/><stop offset="0.904" stop-color="#f9a22e"/><stop offset="0.923" stop-color="#f9a22e"/><stop offset="0.941" stop-color="#f9a22e"/><stop offset="0.960" stop-color="#f9a22e"/><stop offset="0.979" stop-color="#f9a22e"/><stop offset="0.998" stop-color="#f9a22e"/></linearGradient>
<linearGradient id="hr34"><stop offset="0.077" stop-color="#ffffff"/><stop offset="0.096" stop-color="#ffffff"/><stop offset="0.115" stop-color="#ffffff"/><stop offset="0.134" stop-color="#ffffff"/><stop offset="0.153" stop-color="#ffffff"/><stop offset="0.171" stop-color="#ffffff"/><stop offset="0.190" stop-color="#ffffff"/><stop offset="0.209" stop-color="#ffffff"/><stop offset="0.228" stop-color="#ffffff"/><stop offset="0.246" stop-color="#ffffff"/><stop offset="0.265" stop-color="#fffaf3"/><stop offset="0.284" stop-color="#fef0df"/><stop offset="0.303" stop-color="#fde5c7"/><stop offset="0.322" stop-color="#fdd9ae"/><stop offset="0.340" stop-color="#fccd93"/><stop offset="0.359" stop-color="#fbc077"/><stop offset="0.378" stop-color="#fab35a"/><stop offset="0.397" stop-color="#f9a53d"/><stop offset="0.415" stop-color="#f89922"/><stop offset="0.434" stop-color="#f89922"/><stop offset="0.453" stop-color="#f89922"/><stop offset="0.472" stop-color="#f89922"/><stop offset="0.491" stop-color="#f89922"/><stop offset="0.509" stop-color="#f89922"/><stop offset="0.528" stop-color="#f89922"/><stop offset="0.547" stop-color="#f89922"/><stop offset="0.566" stop-color="#f89922"/><stop offset="0.585" stop-color="#f89922"/><stop offset="0.603" stop-color="#f89922"/><stop offset="0.622" stop-color="#f89922"/><stop offset="0.641" stop-color="#f89922"/><stop offset="0.660" stop-color="#f89922"/><stop offset="0.678" stop-color="#f89922"/><stop offset="0.697" stop-color="#f89922"/><stop offset="0.716" stop-color="#f89922"/><stop offset="0.735" stop-color="#f89922"/><stop offset="0.754" stop-color="#f89922"/><stop offset="0.772" stop-color="#f89922"/><stop offset="0.791" stop-color="#f89922"/><stop offset="0.810" stop-color="#f89922"/><stop offset="0.829" stop-color="#f89922"/><stop offset="0.847" stop-color="#f89922"/><stop offset="0.866" stop-color="#f89922"/><stop offset="0.885" stop-color="#f89922"/><stop offset="0.904" stop-color="#f89922"/><stop offset="0.923" stop-color="#f89922"/><stop offset="0.941" stop-color="#f89922"/><stop offset="0.960" stop-color="#f89922"/><stop offset="0.979" stop-color="#f89922"/><stop offset="0.998" stop-color="#f89922"/></linearGradient>
<linearGradient id="hr35"><stop offset="0.077" stop-color="#ffffff"/><stop offset="0.096" stop-color="#ffffff"/><stop offset="0.115" stop-color="#ffffff"/><stop offset="0.134" stop-color="#ffffff"/><stop offset="0.153" stop-color="#ffffff"/><stop offset="0.171" stop-color="#ffffff"/><stop offset="0.190" stop-color="#ffffff"/><stop offset="0.209" stop-color="#ffffff"/><stop offset="0.228" stop-color="#ffffff"/><stop offset="0.246" stop-color="#ffffff"/><stop offset="0.265" stop-color="#fffcf8"/><stop offset="0.284" stop-color="#fef2e4"/><stop offset="0.303" stop-color="#fde7cc"/><stop offset="0.322" stop-color="#fddbb3"/><stop offset="0.340" stop-color="#fccf98"/><stop offset="0.359" stop-color="#fbc17b"/><stop offset="0.378" stop-color="#fab45e"/><stop offset="0.397" stop-color="#f9a540"/><stop offset="0.415" stop-color="#f89721"/><stop offset="0.434" stop-color="#f89720"/><stop offset="0.453" stop-color="#f89720"/><stop offset="0.472" stop-color="#f89720"/><stop offset="0.491" stop-color="#f89720"/><stop offset="0.509" stop-color="#f89720"/><stop offset="0.528" stop-color="#f89720"/><stop offset="0.547" stop-color="#f89720"/><stop offset="0.566" stop-color="#f89720"/><stop offset="0.585" stop-color="#f89720"/><stop offset="0.603" stop-color="#f89720"/><stop offset="0.622" stop-color="#f89720"/><stop offset="0.641" stop-color="#f89720"/><stop offset="0.660" stop-color="#f89720"/><stop offset="0.678" stop-color="#f89720"/><stop offset="0.697" stop-color="#f89720"/><stop offset="0.716" stop-color="#f89720"/><stop offset="0.735" stop-color="#f89720"/><stop offset="0.754" stop-color="#f89720"/><stop offset="0.772" stop-color="#f89720"/><stop offset="0.791" stop-color="#f89720"/><stop offset="0.810" stop-color="#f89720"/><stop offset="0.829" stop-color="#f89720"/><stop offset="0.847" stop-color="#f89720"/><stop offset="0.866" stop-color="#f89720"/><stop offset="0.885" stop-color="#f89720"/><stop offset="0.904" stop-color="#f89720"/><stop offset="0.923" stop-color="#f89720"/><stop offset="0.941" stop-color="#f89720"/><stop offset="0.960" stop-color="#f89720"/><stop offset="0.979" stop-color="#f89720"/><stop offset="0.998" stop-color="#f89720"/></linearGradient>
<linearGradient id="hr36"><stop offset="0.077" stop-color="#ffffff"/><stop offset="0.096" stop-color="#ffffff"/><stop offset="0.115" stop-color="#ffffff"/><stop offset="0.134" stop-color="#ffffff"/><stop offset="0.153" stop-color="#ffffff"/><stop offset="0.171" stop-color="#ffffff"/><stop offset="0.190" stop-color="#ffffff"/><stop offset="0.209" stop-color="#ffffff"/><stop offset="0.228" stop-color="#ffffff"/><stop offset="0.246" stop-color="#ffffff"/><stop offset="0.265" stop-color="#fffefc"/><stop offset="0.284" stop-color="#fef6ec"/><stop offset="0.303" stop-color="#feedd8"/><stop offset="0.322" stop-color="#fde3c3"/><stop offset="0.340" stop-color="#fcd8ac"/><stop offset="0.359" stop-color="#fccd94"/><stop offset="0.378" stop-color="#fbc17b"/><stop offset="0.397" stop-color="#fab561"/><stop offset="0.415" stop-color="#f9a947"/><stop offset="0.434" stop-color="#f9a742"/><stop offset="0.453" stop-color="#f9a742"/><stop offset="0.472" stop-color="#f9a742"/><stop offset="0.491" stop-color="#f9a742"/><stop offset="0.509" stop-color="#f9a742"/><stop offset="0.528" stop-color="#f9a742"/><stop offset="0.547" stop-color="#f9a742"/><stop offset="0.566" stop-color="#f9a742"/><stop offset="0.585" stop-color="#f9a742"/><stop offset="0.603" stop-color="#f9a742"/><stop offset="0.622" stop-color="#f9a742"/><stop offset="0.641" stop-color="#f9a742"/><stop offset="0.660" stop-color="#f9a742"/><stop offset="0.678" stop-color="#f9a742"/><stop offset="0.697" stop-color="#f9a742"/><stop offset="0.716" stop-color="#f9a742"/><stop offset="0.735" stop-color="#f9a742"/><stop offset="0.754" stop-color="#f9a742"/><stop offset="0.772" stop-color="#f9a742"/><stop offset="0.791" stop-color="#f9a742"/><stop offset="0.810" stop-color="#f9a742"/><stop offset="0.829" stop-color="#f9a742"/><stop offset="0.847" stop-color="#f9a742"/><stop offset="0.866" stop-color="#f9a742"/><stop offset="0.885" stop-color="#f9a742"/><stop offset="0.904" stop-color="#f9a742"/><stop offset="0.923" stop-color="#f9a742"/><stop offset="0.941" stop-color="#f9a742"/><stop offset="0.960" stop-color="#f9a742"/><stop offset="0.979" stop-color="#f9a742"/><stop offset="0.998" stop-color="#f9a742"/></linearGradient>
<linearGradient id="hr37"><stop offset="0.077" stop-color="#ffffff"/><stop offset="0.096" stop-color="#ffffff"/><stop offset="0.115" stop-color="#ffffff"/><stop offset="0.134" stop-color="#ffffff"/><stop offset="0.153" stop-color="#ffffff"/><stop offset="0.171" stop-color="#ffffff"/><stop offset="0.190" stop-color="#ffffff"/><stop offset="0.209" stop-color="#ffffff"/><stop offset="0.228" stop-color="#ffffff"/><stop offset="0.246" stop-color="#ffffff"/><stop offset="0.265" stop-color="#ffffff"/><stop offset="0.284" stop-color="#fffaf5"/><stop offset="0.303" stop-color="#fef4e8"/><stop offset="0.322" stop-color="#feeeda"/><stop offset="0.340" stop-color="#fde6ca"/><stop offset="0.359" stop-color="#fddfba"/><stop offset="0.378" stop-color="#fcd7a9"/><stop offset="0.397" stop-color="#fccf97"/><stop offset="0.415" stop-color="#fbc685"/><stop offset="0.434" stop-color="#fbc480"/><stop offset="0.453" stop-color="#fbc480"/><stop offset="0.472" stop-color="#fbc480"/><stop offset="0.491" stop-color="#fbc480"/><stop offset="0.509" stop-color="#fbc480"/><stop offset="0.528" stop-color="#fbc480"/><stop offset="0.547" stop-color="#fbc480"/><stop offset="0.566" stop-color="#fbc480"/><stop offset="0.585" stop-color="#fbc480"/><stop offset="0.603" stop-color="#fbc480"/><stop offset="0.622" stop-color="#fbc480"/><stop offset="0.641" stop-color="#fbc480"/><stop offset="0.660" stop-color="#fbc480"/><stop offset="0.678" stop-color="#fbc480"/><stop offset="0.697" stop-color="#fbc480"/><stop offset="0.716" stop-color="#fbc480"/><stop offset="0.735" stop-color="#fbc480"/><stop offset="0.754" stop-color="#fbc480"/><stop offset="0.772" stop-color="#fbc480"/><stop offset="0.791" stop-color="#fbc480"/><stop offset="0.810" stop-color="#fbc480"/><stop offset="0.829" stop-color="#fbc480"/><stop offset="0.847" stop-color="#fbc480"/><stop offset="0.866" stop-color="#fbc480"/><stop offset="0.885" stop-color="#fbc480"/><stop offset="0.904" stop-color="#fbc480"/><stop offset="0.923" stop-color="#fbc480"/><stop offset="0.941" stop-color="#fbc480"/><stop offset="0.960" stop-color="#fbc480"/><stop offset="0.979" stop-color="#fbc480"/><stop offset="0.998" stop-color="#fbc480"/></linearGradient>
<linearGradient id="hr38"><stop offset="0.077" stop-color="#ffffff"/><stop offset="0.096" stop-color="#ffffff"/><stop offset="0.115" stop-color="#ffffff"/><stop offset="0.134" stop-color="#ffffff"/><stop offset="0.153" stop-color="#ffffff"/><stop offset="0.171" stop-color="#ffffff"/><stop offset="0.190" stop-color="#ffffff"/><stop offset="0.209" stop-color="#ffffff"/><stop offset="0.228" stop-color="#ffffff"/><stop offset="0.246" stop-color="#ffffff"/><stop offset="0.265" stop-color="#ffffff"/><stop offset="0.284" stop-color="#fffdfc"/><stop offset="0.303" stop-color="#fffbf5"/><stop offset="0.322" stop-color="#fff7ee"/><stop offset="0.340" stop-color="#fef4e7"/><stop offset="0.359" stop-color="#fef0df"/><stop offset="0.378" stop-color="#feedd7"/><stop offset="0.397" stop-color="#fee9ce"/><stop offset="0.415" stop-color="#fde5c5"/><stop offset="0.434" stop-color="#fde3c1"/><stop offset="0.453" stop-color="#fde3c1"/><stop offset="0.472" stop-color="#fde3c1"/><stop offset="0.491" stop-color="#fde3c1"/><stop offset="0.509" stop-color="#fde3c1"/><stop offset="0.528" stop-color="#fde3c1"/><stop offset="0.547" stop-color="#fde3c1"/><stop offset="0.566" stop-color="#fde3c1"/><stop offset="0.585" stop-color="#fde3c1"/><stop offset="0.603" stop-color="#fde3c1"/><stop offset="0.622" stop-color="#fde3c1"/><stop offset="0.641" stop-color="#fde3c1"/><stop offset="0.660" stop-color="#fde3c1"/><stop offset="0.678" stop-color="#fde3c1"/><stop offset="0.697" stop-color="#fde3c1"/><stop offset="0.716" stop-color="#fde3c1"/><stop offset="0.735" stop-color="#fde3c1"/><stop offset="0.754" stop-color="#fde3c1"/><stop offset="0.772" stop-color="#fde3c1"/><stop offset="0.791" stop-color="#fde3c1"/><stop offset="0.810" stop-color="#fde3c1"/><stop offset="0.829" stop-color="#fde3c1"/><stop offset="0.847" stop-color="#fde3c1"/><stop offset="0.866" stop-color="#fde3c1"/><stop offset="0.885" stop-color="#fde3c1"/><stop offset="0.904" stop-color="#fde3c1"/><stop offset="0.923" stop-color="#fde3c1"/><stop offset="0.941" stop-color="#fde3c1"/><stop offset="0.960" stop-color="#fde3c1"/><stop offset="0.979" stop-color="#fde3c1"/><stop offset="0.998" stop-color="#fde3c1"/></linearGradient>
<linearGradient id="hr39"><stop offset="0.077" stop-color="#ffffff"/><stop offset="0.096" stop-color="#ffffff"/><stop offset="0.115" stop-color="#ffffff"/><stop offset="0.134" stop-color="#ffffff"/><stop offset="0.153" stop-color="#ffffff"/><stop offset="0.171" stop-color="#ffffff"/><stop offset="0.190" stop-color="#ffffff"/><stop offset="0.209" stop-color="#ffffff"/><stop offset="0.228" stop-color="#ffffff"/><stop offset="0.246" stop-color="#ffffff"/><stop offset="0.265" stop-color="#ffffff"/><stop offset="0.284" stop-color="#fffffe"/><stop offset="0.303" stop-color="#fffefd"/><stop offset="0.322" stop-color="#fffdfb"/><stop offset="0.340" stop-color="#fffdf9"/><stop offset="0.359" stop-color="#fffcf7"/><stop offset="0.378" stop-color="#fffbf5"/><stop offset="0.397" stop-color="#fffaf3"/><stop offset="0.415" stop-color="#fff9f1"/><stop offset="0.434" stop-color="#fff9f0"/><stop offset="0.453" stop-color="#fff9f0"/><stop offset="0.472" stop-color="#fff9f0"/><stop offset="0.491" stop-color="#fff9f0"/><stop offset="0.509" stop-color="#fff9f0"/><stop offset="0.528" stop-color="#fff9f0"/><stop offset="0.547" stop-color="#fff9f0"/><stop offset="0.566" stop-color="#fff9f0"/><stop offset="0.585" stop-color="#fff9f0"/><stop offset="0.603" stop-color="#fff9f0"/><stop offset="0.622" stop-color="#fff9f0"/><stop offset="0.641" stop-color="#fff9f0"/><stop offset="0.660" stop-color="#fff9f0"/><stop offset="0.678" stop-color="#fff9f0"/><stop offset="0.697" stop-color="#fff9f0"/><stop offset="0.716" stop-color="#fff9f0"/><stop offset="0.735" stop-color="#fff9f0"/><stop offset="0.754" stop-color="#fff9f0"/><stop offset="0.772" stop-color="#fff9f0"/><stop offset="0.791" stop-color="#fff9f0"/><stop offset="0.810" stop-color="#fff9f0"/><stop offset="0.829" stop-color="#fff9f0"/><stop offset="0.847" stop-color="#fff9f0"/><stop offset="0.866" stop-color="#fff9f0"/><stop offset="0.885" stop-color="#fff9f0"/><stop offset="0.904" stop-color="#fff9f0"/><stop offset="0.923" stop-color="#fff9f0"/><stop offset="0.941" stop-color="#fff9f0"/><stop offset="0.960" stop-color="#fff9f0"/><stop offset="0.979" stop-color="#fff9f0"/><stop offset="0.998" stop-color="#fff9f0"/></linearGradient>
<linearGradient id="hr40"><stop offset="0.077" stop-color="#ffffff"/><stop offset="0.096" stop-color="#ffffff"/><stop offset="0.115" stop-color="#ffffff"/><stop offset="0.134" stop-color="#ffffff"/><stop offset="0.153" stop-color="#ffffff"/><stop offset="0.171" stop-color="#ffffff"/><stop offset="0.190" stop-color="#ffffff"/><stop offset="0.209" stop-color="#ffffff"/><stop offset="0.228" stop-color="#ffffff"/><stop offset="0.246" stop-color="#ffffff"/><stop offset="0.265" stop-color="#ffffff"/><stop offset="0.284" stop-color="#ffffff"/><stop offset="0.303" stop-color="#fffffe"/><stop offset="0.322" stop-color="#fffffe"/><stop offset="0.340" stop-color="#fffefd"/><stop offset="0.359" stop-color="#fffefc"/><stop offset="0.378" stop-color="#fffefb"/><stop offset="0.397" stop-color="#fffefb"/><stop offset="0.415" stop-color="#fffdfa"/><stop offset="0.434" stop-color="#fffdf9"/><stop offset="0.453" stop-color="#fffdf9"/><stop offset="0.472" stop-color="#fffdf9"/><stop offset="0.491" stop-color="#fffdf9"/><stop offset="0.509" stop-color="#fffdf9"/><stop offset="0.528" stop-color="#fffdf9"/><stop offset="0.547" stop-color="#fffdf9"/><stop offset="0.566" stop-color="#fffdf9"/><stop offset="0.585" stop-color="#fffdf9"/><stop offset="0.603" stop-color="#fffdf9"/><stop offset="0.622" stop-color="#fffdf9"/><stop offset="0.641" stop-color="#fffdf9"/><stop offset="0.660" stop-color="#fffdf9"/><stop offset="0.678" stop-color="#fffdf9"/><stop offset="0.697" stop-color="#fffdf9"/><stop offset="0.716" stop-color="#fffdf9"/><stop offset="0.735" stop-color="#fffdf9"/><stop offset="0.754" stop-color="#fffdf9"/><stop offset="0.772" stop-color="#fffdf9"/><stop offset="0.791" stop-color="#fffdf9"/><stop offset="0.810" stop-color="#fffdf9"/><stop offset="0.829" stop-color="#fffdf9"/><stop offset="0.847" stop-color="#fffdf9"/><stop offset="0.866" stop-color="#fffdf9"/><stop offset="0.885" stop-color="#fffdf9"/><stop offset="0.904" stop-color="#fffdf9"/><stop offset="0.923" stop-color="#fffdf9"/><stop offset="0.941" stop-color="#fffdf9"/><stop offset="0.960" stop-color="#fffdf9"/><stop offset="0.979" stop-color="#fffdf9"/><stop offset="0.998" stop-color="#fffdf9"/></linearGradient>
<linearGradient id="hr41"><stop offset="0.077" stop-color="#ffffff"/><stop offset="0.096" stop-color="#ffffff"/><stop offset="0.115" stop-color="#ffffff"/><stop offset="0.134" stop-color="#ffffff"/><stop offset="0.153" stop-color="#ffffff"/><stop offset="0.171" stop-color="#ffffff"/><stop offset="0.190" stop-color="#ffffff"/><stop offset="0.209" stop-color="#ffffff"/><stop offset="0.228" stop-color="#ffffff"/><stop offset="0.246" stop-color="#ffffff"/><stop offset="0.265" stop-color="#ffffff"/><stop offset="0.284" stop-color="#ffffff"/><stop offset="0.303" stop-color="#fffffe"/><stop offset="0.322" stop-color="#fffffe"/><stop offset="0.340" stop-color="#fffefd"/><stop offset="0.359" stop-color="#fffefc"/><stop offset="0.378" stop-color="#fffefb"/><stop offset="0.397" stop-color="#fffefb"/><stop offset="0.415" stop-color="#fffdfa"/><stop offset="0.434" stop-color="#fffdf9"/><stop offset="0.453" stop-color="#fffdf9"/><stop offset="0.472" stop-color="#fffdf9"/><stop offset="0.491" stop-color="#fffdf9"/><stop offset="0.509" stop-color="#fffdf9"/><stop offset="0.528" stop-color="#fffdf9"/><stop offset="0.547" stop-color="#fffdf9"/><stop offset="0.566" stop-color="#fffdf9"/><stop offset="0.585" stop-color="#fffdf9"/><stop offset="0.603" stop-color="#fffdf9"/><stop offset="0.622" stop-color="#fffdf9"/><stop offset="0.641" stop-color="#fffdf9"/><stop offset="0.660" stop-color="#fffdf9"/><stop offset="0.678" stop-color="#fffdf9"/><stop offset="0.697" stop-color="#fffdf9"/><stop offset="0.716" stop-color="#fffdf9"/><stop offset="0.735" stop-color="#fffdf9"/><stop offset="0.754" stop-color="#fffdf9"/><stop offset="0.772" stop-color="#fffdf9"/><stop offset="0.791" stop-color="#fffdf9"/><stop offset="0.810" stop-color="#fffdf9"/><stop offset="0.829" stop-color="#fffdf9"/><stop offset="0.847" stop-color="#fffdf9"/><stop offset="0.866" stop-color="#fffdf9"/><stop offset="0.885" stop-color="#fffdf9"/><stop offset="0.904" stop-color="#fffdf9"/><stop offset="0.923" stop-color="#fffdf9"/><stop offset="0.941" stop-color="#fffdf9"/><stop offset="0.960" stop-color="#fffdf9"/><stop offset="0.979" stop-color="#fffdf9"/><stop offset="0.998" stop-color="#fffdf9"/></linearGradient>
<linearGradient id="hr42"><stop offset="0.077" stop-color="#ffffff"/><stop offset="0.096" stop-color="#ffffff"/><stop offset="0.115" stop-color="#ffffff"/><stop offset="0.134" stop-color="#ffffff"/><stop offset="0.153" stop-color="#ffffff"/><stop offset="0.171" stop-color="#ffffff"/><stop offset="0.190" stop-color="#ffffff"/><stop offset="0.209" stop-color="#ffffff"/><stop offset="0.228" stop-color="#ffffff"/><stop offset="0.246" stop-color="#ffffff"/><stop offset="0.265" stop-color="#ffffff"/><stop offset="0.284" stop-color="#ffffff"/><stop offset="0.303" stop-color="#ffffff"/><stop offset="0.322" stop-color="#fffffe"/><stop offset="0.340" stop-color="#fffefd"/><stop offset="0.359" stop-color="#fffefd"/><stop offset="0.378" stop-color="#fffefc"/><stop offset="0.397" stop-color="#fffefb"/><stop offset="0.415" stop-color="#fffdfa"/><stop offset="0.434" stop-color="#fffdf9"/><stop offset="0.453" stop-color="#fffdf9"/><stop offset="0.472" stop-color="#fffdf9"/><stop offset="0.491" stop-color="#fffdf9"/><stop offset="0.509" stop-color="#fffdf9"/><stop offset="0.528" stop-color="#fffdf9"/><stop offset="0.547" stop-color="#fffdf9"/><stop offset="0.566" stop-color="#fffdf9"/><stop offset="0.585" stop-color="#fffdf9"/><stop offset="0.603" stop-color="#fffdf9"/><stop offset="0.622" stop-color="#fffdf9"/><stop offset="0.641" stop-color="#fffdf9"/><stop offset="0.660" stop-color="#fffdf9"/><stop offset="0.678" stop-color="#fffdf9"/><stop offset="0.697" stop-color="#fffdf9"/><stop offset="0.716" stop-color="#fffdf9"/><stop offset="0.735" stop-color="#fffdf9"/><stop offset="0.754" stop-color="#fffdf9"/><stop offset="0.772" stop-color="#fffdf9"/><stop offset="0.791" stop-color="#fffdf9"/><stop offset="0.810" stop-color="#fffdf9"/><stop offset="0.829" stop-color="#fffdf9"/><stop offset="0.847" stop-color="#fffdf9"/><stop offset="0.866" stop-color="#fffdf9"/><stop offset="0.885" stop-color="#fffdf9"/><stop offset="0.904" stop-color="#fffdf9"/><stop offset="0.923" stop-color="#fffdf9"/><stop offset="0.941" stop-color="#fffdf9"/><stop offset="0.960" stop-color="#fffdf9"/><stop offset="0.979" stop-color="#fffdf9"/><stop offset="0.998" stop-color="#fffdf9"/></linearGradient>
<linearGradient id="hr43"><stop offset="0.077" stop-color="#ffffff"/><stop offset="0.096" stop-color="#ffffff"/><stop offset="0.115" stop-color="#ffffff"/><stop offset="0.134" stop-color="#ffffff"/><stop offset="0.153" stop-color="#ffffff"/><stop offset="0.171" stop-color="#ffffff"/><stop offset="0.190" stop-color="#ffffff"/><stop offset="0.209" stop-color="#ffffff"/><stop offset="0.228" stop-color="#ffffff"/><stop offset="0.246" stop-color="#ffffff"/><stop offset="0.265" stop-color="#ffffff"/><stop offset="0.284" stop-color="#ffffff"/><stop offset="0.303" stop-color="#ffffff"/><stop offset="0.322" stop-color="#fffffe"/><stop offset="0.340" stop-color="#fffefd"/><stop offset="0.359" stop-color="#fffefd"/><stop offset="0.378" stop-color="#fffefc"/><stop offset="0.397" stop-color="#fffefb"/><stop offset="0.415" stop-color="#fffefb"/><stop offset="0.434" stop-color="#fffdfa"/><stop offset="0.453" stop-color="#fffdfa"/><stop offset="0.472" stop-color="#fffdfa"/><stop offset="0.491" stop-color="#fffdfa"/><stop offset="0.509" stop-color="#fffdfa"/><stop offset="0.528" stop-color="#fffdfa"/><stop offset="0.547" stop-color="#fffdfa"/><stop offset="0.566" stop-color="#fffdfa"/><stop offset="0.585" stop-color="#fffdfa"/><stop offset="0.603" stop-color="#fffdfa"/><stop offset="0.622" stop-color="#fffdfa"/><stop offset="0.641" stop-color="#fffdfa"/><stop offset="0.660" stop-color="#fffdfa"/><stop offset="0.678" stop-color="#fffdfa"/><stop offset="0.697" stop-color="#fffdfa"/><stop offset="0.716" stop-color="#fffdfa"/><stop offset="0.735" stop-color="#fffdfa"/><stop offset="0.754" stop-color="#fffdfa"/><stop offset="0.772" stop-color="#fffdfa"/><stop offset="0.791" stop-color="#fffdfa"/><stop offset="0.810" stop-color="#fffdfa"/><stop offset="0.829" stop-color="#fffdfa"/><stop offset="0.847" stop-color="#fffdfa"/><stop offset="0.866" stop-color="#fffdfa"/><stop offset="0.885" stop-color="#fffdfa"/><stop offset="0.904" stop-color="#fffdfa"/><stop offset="0.923" stop-color="#fffdfa"/><stop offset="0.941" stop-color="#fffdfa"/><stop offset="0.960" stop-color="#fffdfa"/><stop offset="0.979" stop-color="#fffdfa"/><stop offset="0.998" stop-color="#fffdfa"/></linearGradient>
<linearGradient id="hr44"><stop offset="0.077" stop-color="#ffffff"/><stop offset="0.096" stop-color="#ffffff"/><stop offset="0.115" stop-color="#ffffff"/><stop offset="0.134" stop-color="#ffffff"/><stop offset="0.153" stop-color="#ffffff"/><stop offset="0.171" stop-color="#ffffff"/><stop offset="0.190" stop-color="#ffffff"/><stop offset="0.209" stop-color="#ffffff"/><stop offset="0.228" stop-color="#ffffff"/><stop offset="0.246" stop-color="#ffffff"/><stop offset="0.265" stop-color="#ffffff"/><stop offset="0.284" stop-color="#ffffff"/><stop offset="0.303" stop-color="#ffffff"/><stop offset="0.322" stop-color="#fffffe"/><stop offset="0.340" stop-color="#fffffe"/><stop offset="0.359" stop-color="#fffefd"/><stop offset="0.378" stop-color="#fffefd"/><stop offset="0.397" stop-color="#fffefc"/><stop offset="0.415" stop-color="#fffefb"/><stop offset="0.434" stop-color="#fffefb"/><stop offset="0.453" stop-color="#fffefb"/><stop offset="0.472" stop-color="#fffefb"/><stop offset="0.491" stop-color="#fffefb"/><stop offset="0.509" stop-color="#fffefb"/><stop offset="0.528" stop-color="#fffefb"/><stop offset="0.547" stop-color="#fffefb"/><stop offset="0.566" stop-color="#fffefb"/><stop offset="0.585" stop-color="#fffefb"/><stop offset="0.603" stop-color="#fffefb"/><stop offset="0.622" stop-color="#fffefb"/><stop offset="0.641" stop-color="#fffefb"/><stop offset="0.660" stop-color="#fffefb"/><stop offset="0.678" stop-color="#fffefb"/><stop offset="0.697" stop-color="#fffefb"/><stop offset="0.716" stop-color="#fffefb"/><stop offset="0.735" stop-color="#fffefb"/><stop offset="0.754" stop-color="#fffefb"/><stop offset="0.772" stop-color="#fffefb"/><stop offset="0.791" stop-color="#fffefb"/><stop offset="0.810" stop-color="#fffefb"/><stop offset="0.829" stop-color="#fffefb"/><stop offset="0.847" stop-color="#fffefb"/><stop offset="0.866" stop-color="#fffefb"/><stop offset="0.885" stop-color="#fffefb"/><stop offset="0.904" stop-color="#fffefb"/><stop offset="0.923" stop-color="#fffefb"/><stop offset="0.941" stop-color="#fffefb"/><stop offset="0.960" stop-color="#fffefb"/><stop offset="0.979" stop-color="#fffefb"/><stop offset="0.998" stop-color="#fffefb"/></linearGradient>
<linearGradient id="hr45"><stop offset="0.077" stop-color="#ffffff"/><stop offset="0.096" stop-color="#ffffff"/><stop offset="0.115" stop-color="#ffffff"/><stop offset="0.134" stop-color="#ffffff"/><stop offset="0.153" stop-color="#ffffff"/><stop offset="0.171" stop-color="#ffffff"/><stop offset="0.190" stop-color="#ffffff"/><stop offset="0.209" stop-color="#ffffff"/><stop offset="0.228" stop-color="#ffffff"/><stop offset="0.246" stop-color="#ffffff"/><stop offset="0.265" stop-color="#ffffff"/><stop offset="0.284" stop-color="#ffffff"/><stop offset="0.303" stop-color="#ffffff"/><stop offset="0.322" stop-color="#fffffe"/><stop offset="0.340" stop-color="#fffffe"/><stop offset="0.359" stop-color="#fffffe"/><stop offset="0.378" stop-color="#fffefd"/><stop offset="0.397" stop-color="#fffefd"/><stop offset="0.415" stop-color="#fffefc"/><stop offset="0.434" stop-color="#fffefc"/><stop offset="0.453" stop-color="#fffefc"/><stop offset="0.472" stop-color="#fffefc"/><stop offset="0.491" stop-color="#fffefc"/><stop offset="0.509" stop-color="#fffefc"/><stop offset="0.528" stop-color="#fffefc"/><stop offset="0.547" stop-color="#fffefc"/><stop offset="0.566" stop-color="#fffefc"/><stop offset="0.585" stop-color="#fffefc"/><stop offset="0.603" stop-color="#fffefc"/><stop offset="0.622" stop-color="#fffefc"/><stop offset="0.641" stop-color="#fffefc"/><stop offset="0.660" stop-color="#fffefc"/><stop offset="0.678" stop-color="#fffefc"/><stop offset="0.697" stop-color="#fffefc"/><stop offset="0.716" stop-color="#fffefc"/><stop offset="0.735" stop-color="#fffefc"/><stop offset="0.754" stop-color="#fffefc"/><stop offset="0.772" stop-color="#fffefc"/><stop offset="0.791" stop-color="#fffefc"/><stop offset="0.810" stop-color="#fffefc"/><stop offset="0.829" stop-color="#fffefc"/><stop offset="0.847" stop-color="#fffefc"/><stop offset="0.866" stop-color="#fffefc"/><stop offset="0.885" stop-color="#fffefc"/><stop offset="0.904" stop-color="#fffefc"/><stop offset="0.923" stop-color="#fffefc"/><stop offset="0.941" stop-color="#fffefc"/><stop offset="0.960" stop-color="#fffefc"/><stop offset="0.979" stop-color="#fffefc"/><stop offset="0.998" stop-color="#fffefc"/></linearGradient>
<linearGradient id="hr46"><stop offset="0.077" stop-color="#ffffff"/><stop offset="0.096" stop-color="#ffffff"/><stop offset="0.115" stop-color="#ffffff"/><stop offset="0.134" stop-color="#ffffff"/><stop offset="0.153" stop-color="#ffffff"/><stop offset="0.171" stop-color="#ffffff"/><stop offset="0.190" stop-color="#ffffff"/><stop offset="0.209" stop-color="#ffffff"/><stop offset="0.228" stop-color="#ffffff"/><stop offset="0.246" stop-color="#ffffff"/><stop offset="0.265" stop-color="#ffffff"/><stop offset="0.284" stop-color="#ffffff"/><stop offset="0.303" stop-color="#ffffff"/><stop offset="0.322" stop-color="#ffffff"/><stop offset="0.340" stop-color="#fffffe"/><stop offset="0.359" stop-color="#fffffe"/><stop offset="0.378" stop-color="#fffefd"/><stop offset="0.397" stop-color="#fffefd"/><stop offset="0.415" stop-color="#fffefd"/><stop offset="0.434" stop-color="#fffefc"/><stop offset="0.453" stop-color="#fffefc"/><stop offset="0.472" stop-color="#fffefc"/><stop offset="0.491" stop-color="#fffefc"/><stop offset="0.509" stop-color="#fffefc"/><stop offset="0.528" stop-color="#fffefc"/><stop offset="0.547" stop-color="#fffefc"/><stop offset="0.566" stop-color="#fffefc"/><stop offset="0.585" stop-color="#fffefc"/><stop offset="0.603" stop-color="#fffefc"/><stop offset="0.622" stop-color="#fffefc"/><stop offset="0.641" stop-color="#fffefc"/><stop offset="0.660" stop-color="#fffefc"/><stop offset="0.678" stop-color="#fffefc"/><stop offset="0.697" stop-color="#fffefc"/><stop offset="0.716" stop-color="#fffefc"/><stop offset="0.735" stop-color="#fffefc"/><stop offset="0.754" stop-color="#fffefc"/><stop offset="0.772" stop-color="#fffefc"/><stop offset="0.791" stop-color="#fffefc"/><stop offset="0.810" stop-color="#fffefc"/><stop offset="0.829" stop-color="#fffefc"/><stop offset="0.847" stop-color="#fffefc"/><stop offset="0.866" stop-color="#fffefc"/><stop offset="0.885" stop-color="#fffefc"/><stop offset="0.904" stop-color="#fffefc"/><stop offset="0.923" stop-color="#fffefc"/><stop offset="0.941" stop-color="#fffefc"/><stop offset="0.960" stop-color="#fffefc"/><stop offset="0.979" stop-color="#fffefc"/><stop offset="0.998" stop-color="#fffefc"/></linearGradient>
<linearGradient id="hr47"><stop offset="0.077" stop-color="#ffffff"/><stop offset="0.096" stop-color="#ffffff"/><stop offset="0.115" stop-color="#ffffff"/><stop offset="0.134" stop-color="#ffffff"/><stop offset="0.153" stop-color="#ffffff"/><stop offset="0.171" stop-color="#ffffff"/><stop offset="0.190" stop-color="#ffffff"/><stop offset="0.209" stop-color="#ffffff"/><stop offset="0.228" stop-color="#ffffff"/><stop offset="0.246" stop-color="#ffffff"/><stop offset="0.265" stop-color="#ffffff"/><stop offset="0.284" stop-color="#ffffff"/><stop offset="0.303" stop-color="#ffffff"/><stop offset="0.322" stop-color="#ffffff"/><stop offset="0.340" stop-color="#fffffe"/><stop offset="0.359" stop-color="#fffffe"/><stop offset="0.378" stop-color="#fffffe"/><stop offset="0.397" stop-color="#fffffe"/><stop offset="0.415" stop-color="#fffefd"/><stop offset="0.434" stop-color="#fffefd"/><stop offset="0.453" stop-color="#fffefd"/><stop offset="0.472" stop-color="#fffefd"/><stop offset="0.491" stop-color="#fffefd"/><stop offset="0.509" stop-color="#fffefd"/><stop offset="0.528" stop-color="#fffefd"/><stop offset="0.547" stop-color="#fffefd"/><stop offset="0.566" stop-color="#fffefd"/><stop offset="0.585" stop-color="#fffefd"/><stop offset="0.603" stop-color="#fffefd"/><stop offset="0.622" stop-color="#fffefd"/><stop offset="0.641" stop-color="#fffefd"/><stop offset="0.660" stop-color="#fffefd"/><stop offset="0.678" stop-color="#fffefd"/><stop offset="0.697" stop-color="#fffefd"/><stop offset="0.716" stop-color="#fffefd"/><stop offset="0.735" stop-color="#fffefd"/><stop offset="0.754" stop-color="#fffefd"/><stop offset="0.772" stop-color="#fffefd"/><stop offset="0.791" stop-color="#fffefd"/><stop offset="0.810" stop-color="#fffefd"/><stop offset="0.829" stop-color="#fffefd"/><stop offset="0.847" stop-color="#fffefd"/><stop offset="0.866" stop-color="#fffefd"/><stop offset="0.885" stop-color="#fffefd"/><stop offset="0.904" stop-color="#fffefd"/><stop offset="0.923" stop-color="#fffefd"/><stop offset="0.941" stop-color="#fffefd"/><stop offset="0.960" stop-color="#fffefd"/><stop offset="0.979" stop-color="#fffefd"/><stop offset="0.998" stop-color="#fffefd"/></linearGradient>
<linearGradient id="hr48"><stop offset="0.077" stop-color="#ffffff"/><stop offset="0.096" stop-color="#ffffff"/><stop offset="0.115" stop-color="#ffffff"/><stop offset="0.134" stop-color="#ffffff"/><stop offset="0.153" stop-color="#ffffff"/><stop offset="0.171" stop-color="#ffffff"/><stop offset="0.190" stop-color="#ffffff"/><stop offset="0.209" stop-color="#ffffff"/><stop offset="0.228" stop-color="#ffffff"/><stop offset="0.246" stop-color="#ffffff"/><stop offset="0.265" stop-color="#ffffff"/><stop offset="0.284" stop-color="#ffffff"/><stop offset="0.303" stop-color="#ffffff"/><stop offset="0.322" stop-color="#ffffff"/><stop offset="0.340" stop-color="#ffffff"/><stop offset="0.359" stop-color="#fffffe"/><stop offset="0.378" stop-color="#fffffe"/><stop offset="0.397" stop-color="#fffffe"/><stop offset="0.415" stop-color="#fffefd"/><stop offset="0.434" stop-color="#fffefd"/><stop offset="0.453" stop-color="#fffefd"/><stop offset="0.472" stop-color="#fffefd"/><stop offset="0.491" stop-color="#fffefd"/><stop offset="0.509" stop-color="#fffefd"/><stop offset="0.528" stop-color="#fffefd"/><stop offset="0.547" stop-color="#fffefd"/><stop offset="0.566" stop-color="#fffefd"/><stop offset="0.585" stop-color="#fffefd"/><stop offset="0.603" stop-color="#fffefd"/><stop offset="0.622" stop-color="#fffefd"/><stop offset="0.641" stop-color="#fffefd"/><stop offset="0.660" stop-color="#fffefd"/><stop offset="0.678" stop-color="#fffefd"/><stop offset="0.697" stop-color="#fffefd"/><stop offset="0.716" stop-color="#fffefd"/><stop offset="0.735" stop-color="#fffefd"/><stop offset="0.754" stop-color="#fffefd"/><stop offset="0.772" stop-color="#fffefd"/><stop offset="0.791" stop-color="#fffefd"/><stop offset="0.810" stop-color="#fffefd"/><stop offset="0.829" stop-color="#fffefd"/><stop offset="0.847" stop-color="#fffefd"/><stop offset="0.866" stop-color="#fffefd"/><stop offset="0.885" stop-color="#fffefd"/><stop offset="0.904" stop-color="#fffefd"/><stop offset="0.923" stop-color="#fffefd"/><stop offset="0.941" stop-color="#fffefd"/><stop offset="0.960" stop-color="#fffefd"/><stop offset="0.979" stop-color="#fffefd"/><stop offset="0.998" stop-color="#fffefd"/></linearGradient>
<linearGradient id="hr49"><stop offset="0.077" stop-color="#ffffff"/><stop offset="0.096" stop-color="#ffffff"/><stop offset="0.115" stop-color="#ffffff"/><stop offset="0.134" stop-color="#ffffff"/><stop offset="0.153" stop-color="#ffffff"/><stop offset="0.171" stop-color="#ffffff"/><stop offset="0.190" stop-color="#ffffff"/><stop offset="0.209" stop-color="#ffffff"/><stop offset="0.228" stop-color="#ffffff"/><stop offset="0.246" stop-color="#ffffff"/><stop offset="0.265" stop-color="#ffffff"/><stop offset="0.284" stop-color="#ffffff"/><stop offset="0.303" stop-color="#ffffff"/><stop offset="0.322" stop-color="#ffffff"/><stop offset="0.340" stop-color="#ffffff"/><stop offset="0.359" stop-color="#fffffe"/><stop offset="0.378" stop-color="#fffffe"/><stop offset="0.397" stop-color="#fffffe"/><stop offset="0.415" stop-color="#fffffe"/><stop offset="0.434" stop-color="#fffefd"/><stop offset="0.453" stop-color="#fffefd"/><stop offset="0.472" stop-color="#fffefd"/><stop offset="0.491" stop-color="#fffefd"/><stop offset="0.509" stop-color="#fffefd"/><stop offset="0.528" stop-color="#fffefd"/><stop offset="0.547" stop-color="#fffefd"/><stop offset="0.566" stop-color="#fffefd"/><stop offset="0.585" stop-color="#fffefd"/><stop offset="0.603" stop-color="#fffefd"/><stop offset="0.622" stop-color="#fffefd"/><stop offset="0.641" stop-color="#fffefd"/><stop offset="0.660" stop-color="#fffefd"/><stop offset="0.678" stop-color="#fffefd"/><stop offset="0.697" stop-color="#fffefd"/><stop offset="0.716" stop-color="#fffefd"/><stop offset="0.735" stop-color="#fffefd"/><stop offset="0.754" stop-color="#fffefd"/><stop offset="0.772" stop-color="#fffefd"/><stop offset="0.791" stop-color="#fffefd"/><stop offset="0.810" stop-color="#fffefd"/><stop offset="0.829" stop-color="#fffefd"/><stop offset="0.847" stop-color="#fffefd"/><stop offset="0.866" stop-color="#fffefd"/><stop offset="0.885" stop-color="#fffefd"/><stop offset="0.904" stop-color="#fffefd"/><stop offset="0.923" stop-color="#fffefd"/><stop offset="0.941" stop-color="#fffefd"/><stop offset="0.960" stop-color="#fffefd"/><stop offset="0.979" stop-color="#fffefd"/><stop offset="0.998" stop-color="#fffefd"/></linearGradient>
<clipPath id="clipA"><rect x="31.5" y="18.7" width="213" height="147.9"/></clipPath>
</defs>
<g clip-path="url(#clipA)"><g filter="url(#fblur)">
<rect x="31.5" y="18.70" width="213.0" height="3.60" fill="url(#hr0)"/>
<rect x="31.5" y="21.70" width="213.0" height="3.60" fill="url(#hr1)"/>
<rect x="31.5" y="24.70" width="213.0" height="3.60" fill="url(#hr2)"/>
<rect x="31.5" y="27.70" width="213.0" height="3.60" fill="url(#hr3)"/>
<rect x="31.5" y="30.70" width="213.0" height="3.60" fill="url(#hr4)"/>
<rect x="31.5" y="33.70" width="213.0" height="3.60" fill="url(#hr5)"/>
<rect x="31.5" y="36.70" width="213.0" height="3.60" fill="url(#hr6)"/>
<rect x="31.5" y="39.70" width="213.0" height="3.60" fill="url(#hr7)"/>
<rect x="31.5" y="42.70" width="213.0" height="3.60" fill="url(#hr8)"/>
<rect x="31.5" y="45.70" width="213.0" height="3.60" fill="url(#hr9)"/>
<rect x="31.5" y="48.70" width="213.0" height="3.60" fill="url(#hr10)"/>
<rect x="31.5" y="51.70" width="213.0" height="3.60" fill="url(#hr11)"/>
<rect x="31.5" y="54.70" width="213.0" height="3.60" fill="url(#hr12)"/>
<rect x="31.5" y="57.70" width="213.0" height="3.60" fill="url(#hr13)"/>
<rect x="31.5" y="60.70" width="213.0" height="3.60" fill="url(#hr14)"/>
<rect x="31.5" y="63.70" width="213.0" height="3.60" fill="url(#hr15)"/>
<rect x="31.5" y="66.70" width="213.0" height="3.60" fill="url(#hr16)"/>
<rect x="31.5" y="69.70" width="213.0" height="3.60" fill="url(#hr17)"/>
<rect x="31.5" y="72.70" width="213.0" height="3.60" fill="url(#hr18)"/>
<rect x="31.5" y="75.70" width="213.0" height="3.60" fill="url(#hr19)"/>
<rect x="31.5" y="78.70" width="213.0" height="3.60" fill="url(#hr20)"/>
<rect x="31.5" y="81.70" width="213.0" height="3.60" fill="url(#hr21)"/>
<rect x="31.5" y="84.70" width="213.0" height="3.60" fill="url(#hr22)"/>
<rect x="31.5" y="87.70" width="213.0" height="3.60" fill="url(#hr23)"/>
<rect x="31.5" y="90.70" width="213.0" height="3.60" fill="url(#hr24)"/>
<rect x="31.5" y="93.70" width="213.0" height="3.60" fill="url(#hr25)"/>
<rect x="31.5" y="96.70" width="213.0" height="3.60" fill="url(#hr26)"/>
<rect x="31.5" y="99.70" width="213.0" height="3.60" fill="url(#hr27)"/>
<rect x="31.5" y="102.70" width="213.0" height="3.60" fill="url(#hr28)"/>
<rect x="31.5" y="105.70" width="213.0" height="3.60" fill="url(#hr29)"/>
<rect x="31.5" y="108.70" width="213.0" height="3.60" fill="url(#hr30)"/>
<rect x="31.5" y="111.70" width="213.0" height="3.60" fill="url(#hr31)"/>
<rect x="31.5" y="114.70" width="213.0" height="3.60" fill="url(#hr32)"/>
<rect x="31.5" y="117.70" width="213.0" height="3.60" fill="url(#hr33)"/>
<rect x="31.5" y="120.70" width="213.0" height="3.60" fill="url(#hr34)"/>
<rect x="31.5" y="123.70" width="213.0" height="3.60" fill="url(#hr35)"/>
<rect x="31.5" y="126.70" width="213.0" height="3.60" fill="url(#hr36)"/>
<rect x="31.5" y="129.70" width="213.0" height="3.60" fill="url(#hr37)"/>
<rect x="31.5" y="132.70" width="213.0" height="3.60" fill="url(#hr38)"/>
<rect x="31.5" y="135.70" width="213.0" height="3.60" fill="url(#hr39)"/>
<rect x="31.5" y="138.70" width="213.0" height="3.60" fill="url(#hr40)"/>
<rect x="31.5" y="141.70" width="213.0" height="3.60" fill="url(#hr41)"/>
<rect x="31.5" y="144.70" width="213.0" height="3.60" fill="url(#hr42)"/>
<rect x="31.5" y="147.70" width="213.0" height="3.60" fill="url(#hr43)"/>
<rect x="31.5" y="150.70" width="213.0" height="3.60" fill="url(#hr44)"/>
<rect x="31.5" y="153.70" width="213.0" height="3.60" fill="url(#hr45)"/>
<rect x="31.5" y="156.70" width="213.0" height="3.60" fill="url(#hr46)"/>
<rect x="31.5" y="159.70" width="213.0" height="3.60" fill="url(#hr47)"/>
<rect x="31.5" y="162.70" width="213.0" height="3.60" fill="url(#hr48)"/>
<rect x="31.5" y="165.70" width="213.0" height="3.60" fill="url(#hr49)"/>
</g></g>
<line x1="31.5" y1="161.8" x2="244.5" y2="161.8" stroke="#c8c8c8" stroke-width="0.8" stroke-dasharray="2,2"/>
<rect x="31.5" y="11.3" width="213.0" height="155.29999999999998" fill="none" stroke="#231f20" stroke-width="1"/>
<path d="M44.50 11.3v4 M69.50 11.3v4 M94.50 11.3v4 M119.50 11.3v4 M144.50 11.3v4 M169.50 11.3v4 M194.50 11.3v4 M219.50 11.3v4 M44.50 166.6v-4.2 M94.50 166.6v-4.2 M144.50 166.6v-4.2 M194.50 166.6v-4.2 M31.5 161.80h4.2 M244.5 161.80h-4 M31.5 111.60h4.2 M244.5 111.60h-4 M31.5 61.40h4.2 M244.5 61.40h-4" stroke="#231f20" stroke-width="1" fill="none"/>
<text x="27.60" y="166.80" font-size="10" text-anchor="end" font-weight="normal" font-style="normal" fill="#231f20" >0</text>
<text x="27.60" y="116.60" font-size="10" text-anchor="end" font-weight="normal" font-style="normal" fill="#231f20" >1</text>
<text x="27.60" y="66.40" font-size="10" text-anchor="end" font-weight="normal" font-style="normal" fill="#231f20" >2</text>
<text x="27.60" y="16.20" font-size="10" text-anchor="end" font-weight="normal" font-style="normal" fill="#231f20" >3</text>
<text x="44.50" y="179.60" font-size="10" text-anchor="middle" font-weight="normal" font-style="normal" fill="#231f20" >1</text>
<text x="94.50" y="179.60" font-size="10" text-anchor="middle" font-weight="normal" font-style="normal" fill="#231f20" >3</text>
<text x="144.50" y="179.60" font-size="10" text-anchor="middle" font-weight="normal" font-style="normal" fill="#231f20" >5</text>
<text x="194.50" y="179.60" font-size="10" text-anchor="middle" font-weight="normal" font-style="normal" fill="#231f20" >7</text>
<text x="244.50" y="179.60" font-size="10" text-anchor="middle" font-weight="normal" font-style="normal" fill="#231f20" >9</text>
<text x="81.60" y="194.40" font-size="10" text-anchor="start" font-weight="normal" font-style="normal" fill="#231f20" >Effective thickness,</text>
<path d="M172.80 187.00L170.60 191.60L171.50 196.20" fill="none" stroke="#231f20" stroke-width="0.85" stroke-linejoin="miter"/>
<text x="174.60" y="194.40" font-size="10" text-anchor="start" font-weight="normal" font-style="italic" fill="#231f20" >h</text>
<path d="M183.30 187.00L184.40 191.60L181.90 196.20" fill="none" stroke="#231f20" stroke-width="0.85" stroke-linejoin="miter"/>
<text x="189.10" y="194.40" font-size="10" text-anchor="start" font-weight="normal" font-style="normal" fill="#231f20" >(<tspan font-style="italic">ℓ</tspan>)</text>
<text x="0.00" y="0.00" font-size="10" text-anchor="middle" font-weight="normal" font-style="normal" fill="#231f20" transform="translate(13.5,88) rotate(-90)">Asymmetry ratio, <tspan font-style="italic">ζ</tspan><tspan font-size="6.5" dy="-4">A</tspan><tspan dy="4"> (%)</tspan></text>
<path d="M52.80 16.40L55.60 19.20L52.80 22.00L50.00 19.20Z" fill="#000"/>
<path d="M76.40 16.40L79.20 19.20L76.40 22.00L73.60 19.20Z" fill="#000"/>
<path d="M100.20 16.40L103.00 19.20L100.20 22.00L97.40 19.20Z" fill="#000"/>
<path d="M123.80 16.40L126.60 19.20L123.80 22.00L121.00 19.20Z" fill="#000"/>
<path d="M218.80 16.40L221.60 19.20L218.80 22.00L216.00 19.20Z" fill="#000"/>
<path d="M51.30 52.20L53.90 54.80L51.30 57.40L48.70 54.80Z" fill="#000"/>
<circle cx="51.30" cy="54.80" r="5.1" fill="none" stroke="#000" stroke-width="1.05"/>
<rect x="73.00" y="53.00" width="3.8" height="3.8" fill="#000"/>
<rect x="96.50" y="53.00" width="3.8" height="3.8" fill="#000"/>
<rect x="120.10" y="53.00" width="3.8" height="3.8" fill="#000"/>
<rect x="167.80" y="53.00" width="3.8" height="3.8" fill="#000"/>
<rect x="214.90" y="53.00" width="3.8" height="3.8" fill="#000"/>
<path d="M49.50 84.60L52.70 89.60L46.30 89.60Z" fill="#000"/>
<rect x="70.90" y="85.70" width="3.8" height="3.8" fill="#000"/>
<rect x="94.70" y="85.70" width="3.8" height="3.8" fill="#000"/>
<rect x="118.40" y="85.70" width="3.8" height="3.8" fill="#000"/>
<rect x="212.70" y="85.70" width="3.8" height="3.8" fill="#000"/>
<rect x="165.90" y="85.90" width="3.4" height="3.4" fill="#000"/>
<circle cx="167.60" cy="87.60" r="5.1" fill="none" stroke="#000" stroke-width="1.05"/>
<path d="M43.90 122.00L47.10 127.00L40.70 127.00Z" fill="#000"/>
<path d="M67.40 122.00L70.60 127.00L64.20 127.00Z" fill="#000"/>
<path d="M90.90 122.00L94.10 127.00L87.70 127.00Z" fill="#000"/>
<rect x="112.90" y="123.10" width="3.8" height="3.8" fill="#000"/>
<rect x="160.10" y="123.10" width="3.8" height="3.8" fill="#000"/>
<rect x="207.40" y="123.10" width="3.8" height="3.8" fill="#000"/>
<path d="M44.00 140.20L47.20 145.20L40.80 145.20Z" fill="#000"/>
<path d="M67.30 140.20L70.50 145.20L64.10 145.20Z" fill="#000"/>
<path d="M114.30 140.20L117.50 145.20L111.10 145.20Z" fill="#000"/>
<path d="M90.70 141.26L93.20 145.16L88.20 145.16Z" fill="#000"/>
<circle cx="90.70" cy="143.20" r="5.1" fill="none" stroke="#000" stroke-width="1.05"/>
<rect x="159.80" y="141.30" width="3.8" height="3.8" fill="#000"/>
<rect x="207.10" y="141.30" width="3.8" height="3.8" fill="#000"/>
<path d="M43.80 153.40L47.00 158.40L40.60 158.40Z" fill="#000"/>
<path d="M67.20 153.40L70.40 158.40L64.00 158.40Z" fill="#000"/>
<path d="M90.60 153.40L93.80 158.40L87.40 158.40Z" fill="#000"/>
<path d="M114.10 153.40L117.30 158.40L110.90 158.40Z" fill="#000"/>
<rect x="159.60" y="154.50" width="3.8" height="3.8" fill="#000"/>
<rect x="206.90" y="154.50" width="3.8" height="3.8" fill="#000"/>
<circle cx="42.90" cy="161.80" r="2.2" fill="#000"/>
<circle cx="66.20" cy="161.80" r="2.2" fill="#000"/>
<circle cx="113.30" cy="161.80" r="2.2" fill="#000"/>
<circle cx="161.00" cy="161.80" r="2.1" fill="#000"/>
<circle cx="161.00" cy="161.80" r="5.1" fill="none" stroke="#000" stroke-width="1.05"/>
<rect x="272" y="30.6" width="11.4" height="121.3" fill="url(#gHeat)" stroke="#231f20" stroke-width="0.8"/>
<text x="277.70" y="28.00" font-size="10" text-anchor="middle" font-weight="normal" font-style="normal" fill="#231f20" >0</text>
<text x="279.50" y="161.80" font-size="10" text-anchor="middle" font-weight="normal" font-style="normal" fill="#231f20" >−2.5</text>
<text x="0.00" y="0.00" font-size="10" text-anchor="middle" font-weight="normal" font-style="normal" fill="#231f20" transform="translate(264,86.5) rotate(-90)"><tspan font-style="italic">ΛΣ</tspan>, 10<tspan font-size="6.5" dy="-4">5</tspan><tspan dy="4"> (nm</tspan><tspan font-size="6.5" dy="-4">4</tspan><tspan dy="4">)</tspan></text>
<text x="-1.60" y="5.60" font-size="10.5" text-anchor="start" font-weight="bold" font-style="normal" fill="#231f20" >a</text>
<line x1="212.5" y1="272.41" x2="338.2" y2="272.41" stroke="#3a3a3a" stroke-width="0.7" stroke-dasharray="2,1.6"/>
<path d="M226.30 295.00C228.75 294.22 236.28 292.13 241.00 290.30C245.72 288.47 249.97 286.33 254.60 284.00C259.23 281.67 264.13 279.07 268.80 276.30C273.47 273.53 277.93 270.30 282.60 267.40C287.27 264.50 292.13 261.42 296.80 258.90C301.47 256.38 305.93 254.23 310.60 252.30C315.27 250.37 322.43 248.13 324.80 247.30" fill="none" stroke="#1a1a1a" stroke-width="1.15"/>
<rect x="225.61" y="296.90" width="2.2" height="2.2" fill="#111"/>
<rect x="239.60" y="307.97" width="2.2" height="2.2" fill="#111"/>
<rect x="253.58" y="292.78" width="2.2" height="2.2" fill="#111"/>
<rect x="267.80" y="275.71" width="2.2" height="2.2" fill="#111"/>
<rect x="281.89" y="270.68" width="2.2" height="2.2" fill="#111"/>
<rect x="295.99" y="241.70" width="2.2" height="2.2" fill="#111"/>
<rect x="309.86" y="243.62" width="2.2" height="2.2" fill="#111"/>
<rect x="324.08" y="240.46" width="2.2" height="2.2" fill="#111"/>
<rect x="212.5" y="235.1" width="125.69999999999999" height="75.50000000000003" fill="none" stroke="#3c3c3c" stroke-width="0.9"/>
<path d="M269.35 235.1v2.2 M326.20 235.1v2.2 M212.50 310.6v-2.2 M269.35 310.6v-2.2 M326.20 310.6v-2.2 M212.5 310.60h2.2 M212.5 282.35h2.2 M212.5 254.10h2.2 M338.2 282.35h-2.2 M338.2 254.10h-2.2" stroke="#3c3c3c" stroke-width="0.9" fill="none"/>
<text x="212.50" y="321.50" font-size="10" text-anchor="middle" font-weight="normal" font-style="normal" fill="#222" >0</text>
<text x="269.35" y="321.50" font-size="10" text-anchor="middle" font-weight="normal" font-style="normal" fill="#222" >5</text>
<text x="326.20" y="321.50" font-size="10" text-anchor="middle" font-weight="normal" font-style="normal" fill="#222" >10</text>
<text x="208.00" y="314.60" font-size="10" text-anchor="end" font-weight="normal" font-style="normal" fill="#222" >0</text>
<text x="209.50" y="286.35" font-size="10" text-anchor="end" font-weight="normal" font-style="normal" fill="#222" >0.5</text>
<text x="208.00" y="258.10" font-size="10" text-anchor="end" font-weight="normal" font-style="normal" fill="#222" >1</text>
<path d="M322.90 263.30L320.70 267.00L321.60 270.70" fill="none" stroke="#333" stroke-width="0.8" stroke-linejoin="miter"/>
<text x="324.60" y="270.50" font-size="9.5" font-style="italic" fill="#333">κ</text>
<text x="329.35" y="272.30" font-size="6.5" font-style="italic" fill="#333">ν</text>
<path d="M334.80 263.30L335.90 267.00L333.40 270.70" fill="none" stroke="#333" stroke-width="0.8" stroke-linejoin="miter"/>
<text x="222.00" y="332.00" font-size="10" text-anchor="start" font-weight="normal" font-style="normal" fill="#222" >Vortex string length (nm)</text>
<line x1="212.3" y1="390.30" x2="338.4" y2="390.30" stroke="#e6e6e6" stroke-width="0.8"/>
<line x1="212.3" y1="380.07" x2="338.4" y2="380.07" stroke="#3a3a3a" stroke-width="0.7" stroke-dasharray="2,1.6"/>
<path d="M226.60 361.30C228.97 362.02 236.08 363.98 240.80 365.60C245.52 367.22 250.17 368.98 254.90 371.00C259.63 373.02 264.55 375.45 269.20 377.70C273.85 379.95 278.17 382.37 282.80 384.50C287.43 386.63 292.33 388.87 297.00 390.50C301.67 392.13 306.15 393.30 310.80 394.30C315.45 395.30 322.55 396.13 324.90 396.50" fill="none" stroke="#1a1a1a" stroke-width="1.15"/>
<rect x="225.51" y="355.66" width="2.2" height="2.2" fill="#111"/>
<rect x="239.83" y="354.33" width="2.2" height="2.2" fill="#111"/>
<rect x="253.91" y="365.70" width="2.2" height="2.2" fill="#111"/>
<rect x="267.99" y="378.21" width="2.2" height="2.2" fill="#111"/>
<rect x="282.19" y="389.01" width="2.2" height="2.2" fill="#111"/>
<rect x="296.39" y="396.40" width="2.2" height="2.2" fill="#111"/>
<rect x="310.36" y="397.54" width="2.2" height="2.2" fill="#111"/>
<rect x="324.67" y="397.73" width="2.2" height="2.2" fill="#111"/>
<rect x="212.3" y="352.1" width="126.09999999999997" height="76.0" fill="none" stroke="#3c3c3c" stroke-width="0.9"/>
<path d="M269.55 352.1v2.2 M326.80 352.1v2.2 M212.30 428.1v-2.2 M269.55 428.1v-2.2 M326.80 428.1v-2.2 M212.3 428.20h2.2 M212.3 409.25h2.2 M212.3 390.30h2.2 M212.3 371.35h2.2 M212.3 352.40h2.2 M338.4 409.25h-2.2 M338.4 390.30h-2.2 M338.4 371.35h-2.2" stroke="#3c3c3c" stroke-width="0.9" fill="none"/>
<text x="212.30" y="439.00" font-size="10" text-anchor="middle" font-weight="normal" font-style="normal" fill="#222" >0</text>
<text x="269.55" y="439.00" font-size="10" text-anchor="middle" font-weight="normal" font-style="normal" fill="#222" >5</text>
<text x="326.80" y="439.00" font-size="10" text-anchor="middle" font-weight="normal" font-style="normal" fill="#222" >10</text>
<text x="207.80" y="432.20" font-size="10" text-anchor="end" font-weight="normal" font-style="normal" fill="#222" >−1</text>
<text x="209.30" y="413.25" font-size="10" text-anchor="end" font-weight="normal" font-style="normal" fill="#222" >−0.5</text>
<text x="207.80" y="394.30" font-size="10" text-anchor="end" font-weight="normal" font-style="normal" fill="#222" >0</text>
<text x="209.30" y="375.35" font-size="10" text-anchor="end" font-weight="normal" font-style="normal" fill="#222" >0.5</text>
<text x="207.80" y="356.40" font-size="10" text-anchor="end" font-weight="normal" font-style="normal" fill="#222" >1</text>
<path d="M324.30 370.60L322.10 374.30L323.00 378.00" fill="none" stroke="#333" stroke-width="0.8" stroke-linejoin="miter"/>
<text x="326.00" y="377.80" font-size="9.5" font-style="italic" fill="#333">τ</text>
<text x="329.55" y="379.60" font-size="6.5" font-style="italic" fill="#333">ν</text>
<path d="M335.00 370.60L336.10 374.30L333.60 378.00" fill="none" stroke="#333" stroke-width="0.8" stroke-linejoin="miter"/>
<text x="222.00" y="450.00" font-size="10" text-anchor="start" font-weight="normal" font-style="normal" fill="#222" >Vortex string length (nm)</text>
<line x1="558.4" y1="260.12" x2="684.4" y2="260.12" stroke="#3a3a3a" stroke-width="0.7" stroke-dasharray="2,1.6"/>
<path d="M564.50 273.30C566.25 272.83 570.25 271.72 575.00 270.50C579.75 269.28 587.50 267.17 593.00 266.00C598.50 264.83 602.95 264.18 608.00 263.50C613.05 262.82 618.47 262.48 623.30 261.90C628.13 261.32 632.55 260.57 637.00 260.00C641.45 259.43 645.67 258.90 650.00 258.50C654.33 258.10 658.72 257.83 663.00 257.60C667.28 257.37 673.58 257.18 675.70 257.10" fill="none" stroke="#1a1a1a" stroke-width="1.15"/>
<rect x="563.40" y="284.50" width="2.2" height="2.2" fill="#111"/>
<rect x="570.40" y="261.50" width="2.2" height="2.2" fill="#111"/>
<rect x="576.70" y="260.20" width="2.2" height="2.2" fill="#111"/>
<rect x="583.30" y="255.50" width="2.2" height="2.2" fill="#111"/>
<rect x="589.60" y="254.50" width="2.2" height="2.2" fill="#111"/>
<rect x="596.20" y="264.00" width="2.2" height="2.2" fill="#111"/>
<rect x="602.90" y="256.40" width="2.2" height="2.2" fill="#111"/>
<rect x="609.30" y="256.40" width="2.2" height="2.2" fill="#111"/>
<rect x="616.00" y="260.60" width="2.2" height="2.2" fill="#111"/>
<rect x="622.60" y="262.50" width="2.2" height="2.2" fill="#111"/>
<rect x="628.90" y="253.20" width="2.2" height="2.2" fill="#111"/>
<rect x="635.50" y="258.70" width="2.2" height="2.2" fill="#111"/>
<rect x="642.20" y="258.30" width="2.2" height="2.2" fill="#111"/>
<rect x="648.40" y="251.30" width="2.2" height="2.2" fill="#111"/>
<rect x="655.10" y="251.30" width="2.2" height="2.2" fill="#111"/>
<rect x="661.70" y="254.90" width="2.2" height="2.2" fill="#111"/>
<rect x="668.20" y="259.30" width="2.2" height="2.2" fill="#111"/>
<rect x="674.60" y="256.40" width="2.2" height="2.2" fill="#111"/>
<rect x="558.4" y="235.2" width="126.0" height="75.19999999999999" fill="none" stroke="#3c3c3c" stroke-width="0.9"/>
<path d="M580.15 235.2v2.2 M601.90 235.2v2.2 M623.65 235.2v2.2 M645.40 235.2v2.2 M667.15 235.2v2.2 M558.40 310.4v-2.2 M580.15 310.4v-2.2 M601.90 310.4v-2.2 M623.65 310.4v-2.2 M645.40 310.4v-2.2 M667.15 310.4v-2.2 M558.4 310.40h2.2 M558.4 285.26h2.2 M558.4 260.12h2.2 M558.4 234.98h2.2 M684.4 285.26h-2.2 M684.4 260.12h-2.2" stroke="#3c3c3c" stroke-width="0.9" fill="none"/>
<text x="558.40" y="321.30" font-size="10" text-anchor="middle" font-weight="normal" font-style="normal" fill="#222" >0</text>
<text x="580.15" y="321.30" font-size="10" text-anchor="middle" font-weight="normal" font-style="normal" fill="#222" >5</text>
<text x="601.90" y="321.30" font-size="10" text-anchor="middle" font-weight="normal" font-style="normal" fill="#222" >10</text>
<text x="623.65" y="321.30" font-size="10" text-anchor="middle" font-weight="normal" font-style="normal" fill="#222" >15</text>
<text x="645.40" y="321.30" font-size="10" text-anchor="middle" font-weight="normal" font-style="normal" fill="#222" >20</text>
<text x="667.15" y="321.30" font-size="10" text-anchor="middle" font-weight="normal" font-style="normal" fill="#222" >25</text>
<text x="553.90" y="314.40" font-size="10" text-anchor="end" font-weight="normal" font-style="normal" fill="#222" >0</text>
<text x="555.40" y="289.26" font-size="10" text-anchor="end" font-weight="normal" font-style="normal" fill="#222" >0.2</text>
<text x="555.40" y="264.12" font-size="10" text-anchor="end" font-weight="normal" font-style="normal" fill="#222" >0.4</text>
<text x="555.40" y="238.98" font-size="10" text-anchor="end" font-weight="normal" font-style="normal" fill="#222" >0.6</text>
<path d="M670.20 263.30L668.00 267.00L668.90 270.70" fill="none" stroke="#333" stroke-width="0.8" stroke-linejoin="miter"/>
<text x="671.90" y="270.50" font-size="9.5" font-style="italic" fill="#333">κ</text>
<text x="676.65" y="272.30" font-size="6.5" font-style="italic" fill="#333">ν</text>
<path d="M682.10 263.30L683.20 267.00L680.70 270.70" fill="none" stroke="#333" stroke-width="0.8" stroke-linejoin="miter"/>
<text x="569.00" y="332.00" font-size="10" text-anchor="start" font-weight="normal" font-style="normal" fill="#222" >Vortex string length (nm)</text>
<line x1="558.1" y1="390.20" x2="684.4" y2="390.20" stroke="#e6e6e6" stroke-width="0.8"/>
<line x1="558.1" y1="378.54" x2="684.4" y2="378.54" stroke="#3a3a3a" stroke-width="0.7" stroke-dasharray="2,1.6"/>
<path d="M564.40 381.30C565.00 381.18 565.93 380.80 568.00 380.60C570.07 380.40 571.47 380.33 576.80 380.10C582.13 379.87 591.37 379.45 600.00 379.20C608.63 378.95 620.27 378.78 628.60 378.60C636.93 378.42 642.15 378.25 650.00 378.10C657.85 377.95 671.42 377.77 675.70 377.70" fill="none" stroke="#1a1a1a" stroke-width="1.15"/>
<rect x="563.30" y="382.30" width="2.2" height="2.2" fill="#111"/>
<rect x="570.50" y="374.80" width="2.2" height="2.2" fill="#111"/>
<rect x="577.00" y="380.50" width="2.2" height="2.2" fill="#111"/>
<rect x="583.40" y="377.10" width="2.2" height="2.2" fill="#111"/>
<rect x="589.90" y="377.10" width="2.2" height="2.2" fill="#111"/>
<rect x="596.40" y="378.70" width="2.2" height="2.2" fill="#111"/>
<rect x="602.90" y="376.10" width="2.2" height="2.2" fill="#111"/>
<rect x="609.30" y="376.10" width="2.2" height="2.2" fill="#111"/>
<rect x="615.80" y="377.10" width="2.2" height="2.2" fill="#111"/>
<rect x="622.30" y="377.90" width="2.2" height="2.2" fill="#111"/>
<rect x="628.80" y="375.30" width="2.2" height="2.2" fill="#111"/>
<rect x="635.20" y="377.10" width="2.2" height="2.2" fill="#111"/>
<rect x="641.70" y="377.10" width="2.2" height="2.2" fill="#111"/>
<rect x="648.20" y="375.30" width="2.2" height="2.2" fill="#111"/>
<rect x="655.20" y="376.10" width="2.2" height="2.2" fill="#111"/>
<rect x="661.60" y="373.50" width="2.2" height="2.2" fill="#111"/>
<rect x="668.10" y="376.60" width="2.2" height="2.2" fill="#111"/>
<rect x="674.60" y="377.40" width="2.2" height="2.2" fill="#111"/>
<rect x="558.1" y="352.6" width="126.29999999999995" height="75.19999999999999" fill="none" stroke="#3c3c3c" stroke-width="0.9"/>
<path d="M579.85 352.6v2.2 M601.60 352.6v2.2 M623.35 352.6v2.2 M645.10 352.6v2.2 M666.85 352.6v2.2 M558.10 427.8v-2.2 M579.85 427.8v-2.2 M601.60 427.8v-2.2 M623.35 427.8v-2.2 M645.10 427.8v-2.2 M666.85 427.8v-2.2 M558.1 427.80h2.2 M558.1 409.00h2.2 M558.1 390.20h2.2 M558.1 371.40h2.2 M558.1 352.60h2.2 M684.4 409.00h-2.2 M684.4 390.20h-2.2 M684.4 371.40h-2.2" stroke="#3c3c3c" stroke-width="0.9" fill="none"/>
<text x="558.10" y="438.70" font-size="10" text-anchor="middle" font-weight="normal" font-style="normal" fill="#222" >0</text>
<text x="579.85" y="438.70" font-size="10" text-anchor="middle" font-weight="normal" font-style="normal" fill="#222" >5</text>
<text x="601.60" y="438.70" font-size="10" text-anchor="middle" font-weight="normal" font-style="normal" fill="#222" >10</text>
<text x="623.35" y="438.70" font-size="10" text-anchor="middle" font-weight="normal" font-style="normal" fill="#222" >15</text>
<text x="645.10" y="438.70" font-size="10" text-anchor="middle" font-weight="normal" font-style="normal" fill="#222" >20</text>
<text x="666.85" y="438.70" font-size="10" text-anchor="middle" font-weight="normal" font-style="normal" fill="#222" >25</text>
<text x="553.60" y="431.80" font-size="10" text-anchor="end" font-weight="normal" font-style="normal" fill="#222" >−1</text>
<text x="555.10" y="413.00" font-size="10" text-anchor="end" font-weight="normal" font-style="normal" fill="#222" >−0.5</text>
<text x="553.60" y="394.20" font-size="10" text-anchor="end" font-weight="normal" font-style="normal" fill="#222" >0</text>
<text x="555.10" y="375.40" font-size="10" text-anchor="end" font-weight="normal" font-style="normal" fill="#222" >0.5</text>
<text x="553.60" y="356.60" font-size="10" text-anchor="end" font-weight="normal" font-style="normal" fill="#222" >1</text>
<path d="M671.40 368.30L669.20 372.00L670.10 375.70" fill="none" stroke="#333" stroke-width="0.8" stroke-linejoin="miter"/>
<text x="673.10" y="375.50" font-size="9.5" font-style="italic" fill="#333">τ</text>
<text x="676.65" y="377.30" font-size="6.5" font-style="italic" fill="#333">ν</text>
<path d="M682.10 368.30L683.20 372.00L680.70 375.70" fill="none" stroke="#333" stroke-width="0.8" stroke-linejoin="miter"/>
<text x="569.00" y="450.00" font-size="10" text-anchor="start" font-weight="normal" font-style="normal" fill="#222" >Vortex string length (nm)</text>
<text x="0.00" y="0.00" font-size="9.5" text-anchor="middle" font-weight="normal" font-style="normal" fill="#222" transform="translate(187.4,268.3) rotate(-90)"><tspan font-style="italic">κ</tspan><tspan font-size="6" font-style="italic" dy="1.8">ν</tspan><tspan dy="-1.8">, 10</tspan><tspan font-size="6" dy="-3.6">−2</tspan><tspan dy="3.6"> (nm</tspan><tspan font-size="6" dy="-3.6">−1</tspan><tspan dy="3.6">)</tspan></text>
<text x="0.00" y="0.00" font-size="9.5" text-anchor="middle" font-weight="normal" font-style="normal" fill="#222" transform="translate(187.2,387.8) rotate(-90)"><tspan font-style="italic">τ</tspan><tspan font-size="6" font-style="italic" dy="1.8">ν</tspan><tspan dy="-1.8">, 10</tspan><tspan font-size="6" dy="-3.6">−2</tspan><tspan dy="3.6"> (nm</tspan><tspan font-size="6" dy="-3.6">−1</tspan><tspan dy="3.6">)</tspan></text>
<text x="0.00" y="0.00" font-size="9.5" text-anchor="middle" font-weight="normal" font-style="normal" fill="#222" transform="translate(532.3,266.9) rotate(-90)"><tspan font-style="italic">κ</tspan><tspan font-size="6" font-style="italic" dy="1.8">ν</tspan><tspan dy="-1.8">, 10</tspan><tspan font-size="6" dy="-3.6">−2</tspan><tspan dy="3.6"> (nm</tspan><tspan font-size="6" dy="-3.6">−1</tspan><tspan dy="3.6">)</tspan></text>
<text x="0.00" y="0.00" font-size="9.5" text-anchor="middle" font-weight="normal" font-style="normal" fill="#222" transform="translate(532.3,386.8) rotate(-90)"><tspan font-style="italic">τ</tspan><tspan font-size="6" font-style="italic" dy="1.8">ν</tspan><tspan dy="-1.8">, 10</tspan><tspan font-size="6" dy="-3.6">−2</tspan><tspan dy="3.6"> (nm</tspan><tspan font-size="6" dy="-3.6">−1</tspan><tspan dy="3.6">)</tspan></text>
<text x="311.50" y="7.40" font-size="10" text-anchor="start" font-weight="bold" font-style="normal" fill="#231f20" >b</text>
<text x="497.60" y="5.60" font-size="10" text-anchor="start" font-weight="bold" font-style="normal" fill="#231f20" >c</text>
<text x="-0.80" y="229.80" font-size="10" text-anchor="start" font-weight="bold" font-style="normal" fill="#231f20" >d</text>
<text x="169.90" y="228.00" font-size="10" text-anchor="start" font-weight="bold" font-style="normal" fill="#231f20" >e</text>
<text x="170.40" y="346.80" font-size="10" text-anchor="start" font-weight="bold" font-style="normal" fill="#231f20" >f</text>
<text x="367.60" y="228.00" font-size="10" text-anchor="start" font-weight="bold" font-style="normal" fill="#231f20" >g</text>
<text x="513.40" y="229.30" font-size="10" text-anchor="start" font-weight="bold" font-style="normal" fill="#231f20" >h</text>
<text x="513.80" y="346.80" font-size="10" text-anchor="start" font-weight="bold" font-style="normal" fill="#231f20" >i</text>
<text x="363.20" y="10.50" font-size="8.7" text-anchor="start" font-weight="normal" font-style="normal" fill="#222" >Straigh vortex string</text>
<text x="524.20" y="10.30" font-size="8.7" text-anchor="start" font-weight="normal" font-style="normal" fill="#222" >Straigh pinned vortex string</text>
<text x="55.20" y="233.30" font-size="8.7" text-anchor="start" font-weight="normal" font-style="normal" fill="#222" >Bent vortex string</text>
<text x="405.80" y="233.10" font-size="8.7" text-anchor="start" font-weight="normal" font-style="normal" fill="#222" >Helical vortex string</text>
<rect x="670.6" y="46.6" width="11.6" height="120.4" fill="url(#gSig)" stroke="#231f20" stroke-width="0.6"/>
<text x="676.50" y="41.00" font-size="10" text-anchor="middle" font-weight="normal" font-style="normal" fill="#231f20" >+1</text>
<text x="676.50" y="179.00" font-size="10" text-anchor="middle" font-weight="normal" font-style="normal" fill="#231f20" >−1</text>
<text x="0.00" y="0.00" font-size="10" text-anchor="middle" font-weight="normal" font-style="normal" fill="#231f20" transform="translate(661,105) rotate(-90)">Surface magnetostatic charge, <tspan font-style="italic">ς</tspan></text>
<defs><radialGradient id="rg1" cx="0.5" cy="0.5" r="0.5"><stop offset="0" stop-color="#e02ee4" stop-opacity="1"/><stop offset="0.3" stop-color="#ea5cec" stop-opacity="0.85"/><stop offset="0.6" stop-color="#f3a2f3" stop-opacity="0.55"/><stop offset="0.85" stop-color="#fadcfa" stop-opacity="0.25"/><stop offset="1" stop-color="#ffffff" stop-opacity="0"/></radialGradient></defs>
<ellipse cx="403.3" cy="139.9" rx="58.91" ry="28.38" fill="url(#rg1)"/>
<g fill="none" stroke="#9a9a9a" stroke-width="0.3" opacity="1.0"><ellipse cx="403.30" cy="139.90" rx="11.42" ry="5.50"/><ellipse cx="403.30" cy="139.90" rx="22.83" ry="11.00"/><ellipse cx="403.30" cy="139.90" rx="34.25" ry="16.50"/><ellipse cx="403.30" cy="139.90" rx="45.67" ry="22.00"/><ellipse cx="403.30" cy="139.90" rx="57.08" ry="27.50"/><ellipse cx="403.30" cy="139.90" rx="68.50" ry="33.00"/><path d="M414.72 139.90L471.80 139.90M413.19 142.65L462.62 156.40M409.01 144.66L437.55 168.48M403.30 145.40L403.30 172.90M397.59 144.66L369.05 168.48M393.41 142.65L343.98 156.40M391.88 139.90L334.80 139.90M393.41 137.15L343.98 123.40M397.59 135.14L369.05 111.32M403.30 134.40L403.30 106.90M409.01 135.14L437.55 111.32M413.19 137.15L462.62 123.40"/></g>
<defs><radialGradient id="rg2" cx="0.5" cy="0.5" r="0.5"><stop offset="0" stop-color="#22c02a" stop-opacity="1"/><stop offset="0.3" stop-color="#48d24c" stop-opacity="0.85"/><stop offset="0.6" stop-color="#9fe69f" stop-opacity="0.55"/><stop offset="0.85" stop-color="#daf5da" stop-opacity="0.25"/><stop offset="1" stop-color="#ffffff" stop-opacity="0"/></radialGradient></defs>
<ellipse cx="403.3" cy="80.2" rx="58.91" ry="28.38" fill="url(#rg2)"/>
<g fill="none" stroke="#9a9a9a" stroke-width="0.3" opacity="1.0"><ellipse cx="403.30" cy="80.20" rx="11.42" ry="5.50"/><ellipse cx="403.30" cy="80.20" rx="22.83" ry="11.00"/><ellipse cx="403.30" cy="80.20" rx="34.25" ry="16.50"/><ellipse cx="403.30" cy="80.20" rx="45.67" ry="22.00"/><ellipse cx="403.30" cy="80.20" rx="57.08" ry="27.50"/><ellipse cx="403.30" cy="80.20" rx="68.50" ry="33.00"/><path d="M414.72 80.20L471.80 80.20M413.19 82.95L462.62 96.70M409.01 84.96L437.55 108.78M403.30 85.70L403.30 113.20M397.59 84.96L369.05 108.78M393.41 82.95L343.98 96.70M391.88 80.20L334.80 80.20M393.41 77.45L343.98 63.70M397.59 75.44L369.05 51.62M403.30 74.70L403.30 47.20M409.01 75.44L437.55 51.62M413.19 77.45L462.62 63.70"/></g>
<path d="M358.80 55.90L448.30 104.77L448.30 164.47L358.80 115.60Z" fill="#9a7f7f" fill-opacity="0.26" stroke="none"/>
<path d="M358.80 115.60L358.80 55.90L448.30 104.77L448.30 164.47L403.30 139.90" fill="none" stroke="#4a4a4a" stroke-width="0.75"/>
<defs><linearGradient id="lg3" x1="0" y1="0" x2="0" y2="1"><stop offset="0" stop-color="#867636" stop-opacity="0.92"/><stop offset="0.12" stop-color="#a08a50" stop-opacity="0.88"/><stop offset="0.24" stop-color="#b88c6c" stop-opacity="0.8"/><stop offset="0.34" stop-color="#dca2a0" stop-opacity="0.7"/><stop offset="0.47" stop-color="#e2a8a8" stop-opacity="0.7"/><stop offset="0.485" stop-color="#d42636" stop-opacity="0.92"/><stop offset="1" stop-color="#cf2a3a" stop-opacity="0.92"/></linearGradient></defs>
<path d="M389.2 80.5 C390.5 92 392 98 391.8 104 C391.3 115 388.5 125 388.6 139.5 A14.6 6 0 0 0 417.8 139.5 C417.8 125 415.2 115 414.8 104 C414.6 98 416.2 92 417.6 80.5 Z" fill="url(#lg3)"/>
<defs><linearGradient id="lg4" x1="0" y1="0" x2="1" y2="0"><stop offset="0" stop-color="#000" stop-opacity="0.18"/><stop offset="0.25" stop-color="#000" stop-opacity="0.0"/><stop offset="0.75" stop-color="#000" stop-opacity="0.0"/><stop offset="1" stop-color="#000" stop-opacity="0.12"/></linearGradient></defs>
<path d="M389.2 80.5 C390.5 92 392 98 391.8 104 C391.3 115 388.5 125 388.6 139.5 A14.6 6 0 0 0 417.8 139.5 C417.8 125 415.2 115 414.8 104 C414.6 98 416.2 92 417.6 80.5 Z" fill="url(#lg4)"/>
<ellipse cx="403.3" cy="80.4" rx="13.6" ry="6.2" fill="#857638" fill-opacity="0.85" stroke="#a89250" stroke-width="1.4"/>
<ellipse cx="403.3" cy="139.6" rx="14.4" ry="6" fill="#e86070" fill-opacity="0.35"/>
<line x1="403.3" y1="80" x2="403.3" y2="96" stroke="#1d5a1d" stroke-width="1.8"/>
<line x1="403.3" y1="96" x2="403.3" y2="139.9" stroke="#5a1a1a" stroke-width="1.8"/>
<line x1="403.30" y1="80.50" x2="403.30" y2="39.80" stroke="#000" stroke-width="2.0"/>
<path d="M403.30 30.30L406.40 40.80L403.30 38.60L400.20 40.80Z" fill="#000"/>
<text x="400.60" y="27.20" font-size="9.5" font-weight="bold" font-style="italic" fill="#000">z</text>
<path d="M401.80 21.60L403.70 19.80L405.40 21.60" fill="none" stroke="#000" stroke-width="1.1"/>
<line x1="402.80" y1="139.90" x2="343.27" y2="106.18" stroke="#000" stroke-width="2.0"/>
<path d="M335.00 101.50L345.66 103.98L342.22 105.59L342.61 109.37Z" fill="#000"/>
<line x1="402.80" y1="139.90" x2="343.98" y2="164.18" stroke="#000" stroke-width="2.0"/>
<path d="M335.20 167.80L343.72 160.93L342.87 164.63L346.09 166.66Z" fill="#000"/>
<text x="326.20" y="102.80" font-size="9.5" font-weight="bold" font-style="italic" fill="#000">x</text>
<path d="M327.40 97.20L329.30 95.40L331.00 97.20" fill="none" stroke="#000" stroke-width="1.1"/>
<text x="326.00" y="173.20" font-size="9.5" font-weight="bold" font-style="italic" fill="#000">y</text>
<path d="M327.20 167.60L329.10 165.80L330.80 167.60" fill="none" stroke="#000" stroke-width="1.1"/>
<line x1="442.7" y1="46" x2="412.6" y2="75.4" stroke="#111" stroke-width="1.2"/>
<text x="426.50" y="43.60" font-size="10" fill="#111"><tspan font-style="italic">Ω</tspan> = 0.6</text>
<path d="M428.10 35.40q1.5 -1.8 3 -0.4t3 -0.4" fill="none" stroke="#111" stroke-width="0.8"/>
<rect x="346.10" y="178.50" width="114.80" height="4.40" fill="#000"/>
<text x="403.50" y="193.70" font-size="10" text-anchor="middle" font-weight="normal" font-style="normal" fill="#111" >50 nm</text>
<circle cx="328" cy="19.9" r="5.0" fill="#fff" stroke="#000" stroke-width="1.2"/>
<circle cx="328" cy="19.9" r="2.4" fill="#000"/>
<g fill="none" stroke="#9a9a9a" stroke-width="0.3" opacity="1.0"><ellipse cx="575.90" cy="147.50" rx="9.58" ry="4.67"/><ellipse cx="575.90" cy="147.50" rx="19.17" ry="9.33"/><ellipse cx="575.90" cy="147.50" rx="28.75" ry="14.00"/><ellipse cx="575.90" cy="147.50" rx="38.33" ry="18.67"/><ellipse cx="575.90" cy="147.50" rx="47.92" ry="23.33"/><ellipse cx="575.90" cy="147.50" rx="57.50" ry="28.00"/><path d="M585.48 147.50L633.40 147.50M584.20 149.83L625.70 161.50M580.69 151.54L604.65 171.75M575.90 152.17L575.90 175.50M571.11 151.54L547.15 171.75M567.60 149.83L526.10 161.50M566.32 147.50L518.40 147.50M567.60 145.17L526.10 133.50M571.11 143.46L547.15 123.25M575.90 142.83L575.90 119.50M580.69 143.46L604.65 123.25M584.20 145.17L625.70 133.50"/></g>
<defs><radialGradient id="rg5" cx="0.5" cy="0.5" r="0.5"><stop offset="0" stop-color="#e65ae8" stop-opacity="0.7"/><stop offset="0.4" stop-color="#ee8cef" stop-opacity="0.5"/><stop offset="0.75" stop-color="#f6c8f6" stop-opacity="0.25"/><stop offset="1" stop-color="#ffffff" stop-opacity="0"/></radialGradient></defs>
<ellipse cx="566" cy="150" rx="46" ry="20" fill="url(#rg5)"/>
<defs><linearGradient id="lg6" x1="519" y1="0" x2="633" y2="0" gradientUnits="userSpaceOnUse"><stop offset="0" stop-color="#d4e2d4" stop-opacity="0.7"/><stop offset="0.12" stop-color="#e2ebe2" stop-opacity="0.5"/><stop offset="0.5" stop-color="#f4f7f4" stop-opacity="0.2"/><stop offset="1" stop-color="#ffffff" stop-opacity="0.1"/></linearGradient></defs>
<path d="M519 146 C518 120 518.5 100 521.3 84.7 C530 68 548 46 563.4 45.9 C578 46 596 66 608 84.7 C618 100 628 115 633.4 147.5 C620 150 600 152 576 152 C550 152 530 150 519 146 Z" fill="url(#lg6)"/>
<g fill="none" stroke="#8a948a" stroke-width="0.35" opacity="0.85"><path d="M603 77 C614 95 622 115 625 140"/><path d="M595 66 C608 84 617 108 619 142"/><path d="M605 90 C618 100 628 118 630 140"/><path d="M600 112 C613 116 624 126 632 142"/><path d="M606 100 C615 104 622 110 628 118"/><path d="M521 100 C522 118 523 132 525 146"/><path d="M520 120 C523 110 526 100 528 96"/></g>
<path d="M519 146 C518 120 518.5 100 521.3 84.7 C530 68 548 46 563.4 45.9 C578 46 596 66 608 84.7 C618 100 628 115 633.4 147.5" fill="none" stroke="#7a8a7a" stroke-width="0.5" opacity="0.7"/>
<defs><radialGradient id="rg7" cx="0.5" cy="0.5" r="0.5"><stop offset="0" stop-color="#6cc86c" stop-opacity="0.55"/><stop offset="0.5" stop-color="#a8dca8" stop-opacity="0.3"/><stop offset="1" stop-color="#ffffff" stop-opacity="0"/></radialGradient></defs>
<clipPath id="clipCs"><path d="M519 146 C518 120 518.5 100 521.3 84.7 C530 68 548 46 563.4 45.9 C578 46 596 66 608 84.7 C618 100 628 115 633.4 147.5 C620 150 600 152 576 152 C550 152 530 150 519 146 Z"/></clipPath>
<g clip-path="url(#clipCs)"><ellipse cx="610" cy="92" rx="14" ry="22" fill="url(#rg7)"/></g>
<defs><linearGradient id="lg8" x1="0" y1="0" x2="0" y2="1"><stop offset="0" stop-color="#c9c08e" stop-opacity="0.7"/><stop offset="0.35" stop-color="#d4b496" stop-opacity="0.68"/><stop offset="0.45" stop-color="#e2a6a0" stop-opacity="0.7"/><stop offset="0.85" stop-color="#e79ca0" stop-opacity="0.75"/><stop offset="1" stop-color="#e48aa2" stop-opacity="0.8"/></linearGradient></defs>
<path d="M527.8 78 A38.4 13 0 0 1 604.6 78 L604.6 148 A38.4 6.5 0 0 1 527.8 148 Z" fill="url(#lg8)"/>
<defs><linearGradient id="lg9" x1="0" y1="0" x2="1" y2="0"><stop offset="0" stop-color="#8a3a3a" stop-opacity="0.28"/><stop offset="0.25" stop-color="#8a3a3a" stop-opacity="0.06"/><stop offset="0.7" stop-color="#ffffff" stop-opacity="0.05"/><stop offset="1" stop-color="#ffffff" stop-opacity="0.12"/></linearGradient></defs>
<path d="M527.8 78 A38.4 13 0 0 1 604.6 78 L604.6 148 A38.4 6.5 0 0 1 527.8 148 Z" fill="url(#lg9)"/>
<path d="M527.8 78 A38.4 13 0 0 1 604.6 78" fill="none" stroke="#ece8d0" stroke-width="1.1" opacity="0.9"/>
<path d="M527.8 102 A38.4 5 0 0 0 604.6 102" fill="none" stroke="#f2d8cc" stroke-width="1.3" opacity="0.8"/>
<defs><radialGradient id="rg10" cx="0.5" cy="0.5" r="0.5"><stop offset="0" stop-color="#f0b0e0" stop-opacity="0.6"/><stop offset="1" stop-color="#f0b0e0" stop-opacity="0"/></radialGradient></defs>
<ellipse cx="568" cy="146" rx="34" ry="9" fill="url(#rg10)"/>
<defs><radialGradient id="rg11" cx="0.5" cy="0.5" r="0.5"><stop offset="0" stop-color="#d8508a" stop-opacity="0.5"/><stop offset="1" stop-color="#d8508a" stop-opacity="0"/></radialGradient></defs>
<ellipse cx="545" cy="150" rx="18" ry="6" fill="url(#rg11)"/>
<defs><linearGradient id="lg12" x1="0" y1="0" x2="0" y2="1"><stop offset="0" stop-color="#3a9a3a" stop-opacity="0.8"/><stop offset="0.35" stop-color="#52b452" stop-opacity="0.7"/><stop offset="1" stop-color="#78c878" stop-opacity="0.55"/></linearGradient></defs>
<path d="M521.3 84.7 C530 68 548 46 563.4 45.9 C578 46 596 66 608 84.7 L604.6 80 L604.6 78 A38.4 13 0 0 0 527.8 78 L527.8 84 Z" fill="url(#lg12)"/>
<defs><linearGradient id="lg13" x1="0" y1="0" x2="0" y2="1"><stop offset="0" stop-color="#80b070" stop-opacity="0.5"/><stop offset="0.6" stop-color="#a0b880" stop-opacity="0.25"/><stop offset="1" stop-color="#a0b880" stop-opacity="0"/></linearGradient></defs>
<path d="M527.8 78 A38.4 13 0 0 1 604.6 78 L604.6 104 L527.8 104 Z" fill="url(#lg13)"/>
<defs><radialGradient id="rg14" cx="0.5" cy="0.5" r="0.5"><stop offset="0" stop-color="#5cbc5c" stop-opacity="0.55"/><stop offset="0.5" stop-color="#90d090" stop-opacity="0.3"/><stop offset="1" stop-color="#ffffff" stop-opacity="0"/></radialGradient></defs>
<g clip-path="url(#clipCs)"><ellipse cx="597" cy="80" rx="15" ry="20" fill="url(#rg14)"/></g>
<g fill="none" stroke="#6a5048" stroke-width="0.4" opacity="0.55"><path d="M529 118 C545 106 570 100 604 98"/><path d="M530 140 C550 124 575 118 604 118"/><path d="M550 52 C560 72 572 92 592 112"/><path d="M530 92 C556 82 584 84 604 90"/><path d="M545 56 C552 80 560 110 572 140"/><path d="M590 62 C585 90 580 120 575 148"/></g>
<path d="M539.4 60 L539.5 150" stroke="#5a4a48" stroke-width="0.6" opacity="0.8"/>
<path d="M555 124 C556.5 120 561 118.5 566 119 C571 120 574.5 124 574.7 130 C574.8 137 573 142.5 566 144.6 C559 145.5 553.8 142 553.8 135 C553.8 130 554 127 555 124 Z" fill="#e46a6a" fill-opacity="0.6" stroke="#c85050" stroke-width="0.4"/>
<path d="M576.3 58 C585 68 592 82 600 100 C607 116 612 132 614.5 147.7 L614.5 168.6 L576 147.7 Z" fill="#9a8585" fill-opacity="0.26"/>
<path d="M576.3 60 C585 70 592 84 600 100 C607 116 612 132 614.5 147.7 L614.5 168.6 L576 147.7" fill="none" stroke="#4a4a4a" stroke-width="0.7"/>
<path d="M568.8 47 C567.5 70 566.5 100 566.1 146" fill="none" stroke="#2a6a2a" stroke-width="1.6"/>
<line x1="576.3" y1="66" x2="576.3" y2="147.5" stroke="#336a33" stroke-width="1.3"/>
<line x1="576.30" y1="66.50" x2="576.45" y2="39.30" stroke="#000" stroke-width="2.0"/>
<path d="M576.50 29.80L579.54 40.32L576.45 38.10L573.34 40.28Z" fill="#000"/>
<text x="574.00" y="27.00" font-size="9.5" font-weight="bold" font-style="italic" fill="#000">z</text>
<path d="M575.20 21.40L577.10 19.60L578.80 21.40" fill="none" stroke="#000" stroke-width="1.1"/>
<line x1="575.80" y1="147.60" x2="527.49" y2="120.63" stroke="#5a5a5a" stroke-width="1.5"/>
<path d="M519.20 116.00L529.88 118.41L526.45 120.05L526.86 123.83Z" fill="#5a5a5a"/>
<line x1="575.80" y1="147.60" x2="528.06" y2="167.63" stroke="#000" stroke-width="2.0"/>
<path d="M519.30 171.30L527.78 164.38L526.95 168.09L530.18 170.10Z" fill="#000"/>
<text x="510.30" y="117.50" font-size="9.5" font-weight="bold" font-style="italic" fill="#000">x</text>
<path d="M511.50 111.90L513.40 110.10L515.10 111.90" fill="none" stroke="#000" stroke-width="1.1"/>
<text x="510.30" y="175.80" font-size="9.5" font-weight="bold" font-style="italic" fill="#000">y</text>
<path d="M511.50 170.20L513.40 168.40L515.10 170.20" fill="none" stroke="#000" stroke-width="1.1"/>
<line x1="610.3" y1="36.3" x2="554.2" y2="100" stroke="#111" stroke-width="1.2"/>
<line x1="623.5" y1="77" x2="571.7" y2="120" stroke="#111" stroke-width="1.2"/>
<text x="594.40" y="34.70" font-size="10" fill="#111"><tspan font-style="italic">Ω</tspan> = 0.1</text>
<path d="M596.00 26.50q1.5 -1.8 3 -0.4t3 -0.4" fill="none" stroke="#111" stroke-width="0.8"/>
<text x="608.80" y="75.00" font-size="10" fill="#111"><tspan font-style="italic">Ω</tspan> = 0.6</text>
<path d="M610.40 66.80q1.5 -1.8 3 -0.4t3 -0.4" fill="none" stroke="#111" stroke-width="0.8"/>
<rect x="528.50" y="180.20" width="96.30" height="3.70" fill="#000"/>
<text x="576.30" y="193.40" font-size="10" text-anchor="middle" font-weight="normal" font-style="normal" fill="#111" >50 nm</text>
<circle cx="512.3" cy="19.9" r="5.0" fill="#fff" stroke="#000" stroke-width="1.2"/>
<path d="M512.3 16.9L515.3 19.9L512.3 22.9L509.29999999999995 19.9Z" fill="#000"/>
<g fill="none" stroke="#9a9a9a" stroke-width="0.3" opacity="1.0"><ellipse cx="89.30" cy="370.40" rx="11.38" ry="5.47"/><ellipse cx="89.30" cy="370.40" rx="22.77" ry="10.93"/><ellipse cx="89.30" cy="370.40" rx="34.15" ry="16.40"/><ellipse cx="89.30" cy="370.40" rx="45.53" ry="21.87"/><ellipse cx="89.30" cy="370.40" rx="56.92" ry="27.33"/><ellipse cx="89.30" cy="370.40" rx="68.30" ry="32.80"/><path d="M100.68 370.40L157.60 370.40M99.16 373.13L148.45 386.80M94.99 375.13L123.45 398.81M89.30 375.87L89.30 403.20M83.61 375.13L55.15 398.81M79.44 373.13L30.15 386.80M77.92 370.40L21.00 370.40M79.44 367.67L30.15 354.00M83.61 365.67L55.15 341.99M89.30 364.93L89.30 337.60M94.99 365.67L123.45 341.99M99.16 367.67L148.45 354.00"/></g>
<defs><radialGradient id="rg15" cx="0.5" cy="0.5" r="0.5"><stop offset="0" stop-color="#e03ee4" stop-opacity="0.9"/><stop offset="0.35" stop-color="#ea66ec" stop-opacity="0.7"/><stop offset="0.7" stop-color="#f3a6f3" stop-opacity="0.35"/><stop offset="1" stop-color="#ffffff" stop-opacity="0"/></radialGradient></defs>
<ellipse cx="116" cy="386" rx="38" ry="17" fill="url(#rg15)"/>
<defs><radialGradient id="rg16" cx="0.5" cy="0.5" r="0.5"><stop offset="0" stop-color="#ec7aee" stop-opacity="0.5"/><stop offset="1" stop-color="#ffffff" stop-opacity="0"/></radialGradient></defs>
<ellipse cx="80" cy="392" rx="30" ry="10" fill="url(#rg16)"/>
<clipPath id="clipDs"><path d="M21.6 337 C22 330 25 326 28 323.8 C35 318 40 313 45.7 309.6 C55 303 63 294 73 292 C80 291.5 84 295 87.3 297.5 C93 302 98 306 102.6 308.5 C107 310.5 110 311.5 113.5 311.7 C122 312 130 311.5 137.6 312.8 C148 318 156 328 157.3 339 C157 350 140 362 112 368 C90 371 60 369 40 362 C28 356 22 348 21.6 337 Z"/></clipPath>
<g clip-path="url(#clipDs)">
<path d="M21.6 337 C22 330 25 326 28 323.8 C35 318 40 313 45.7 309.6 C55 303 63 294 73 292 C80 291.5 84 295 87.3 297.5 C93 302 98 306 102.6 308.5 C107 310.5 110 311.5 113.5 311.7 C122 312 130 311.5 137.6 312.8 C148 318 156 328 157.3 339 C157 350 140 362 112 368 C90 371 60 369 40 362 C28 356 22 348 21.6 337 Z" fill="#ffffff" fill-opacity="0.45"/>
<defs><linearGradient id="lg17" x1="21" y1="0" x2="157" y2="0" gradientUnits="userSpaceOnUse"><stop offset="0" stop-color="#e4f4e4" stop-opacity="0.5"/><stop offset="0.1" stop-color="#b0e4b0" stop-opacity="0.6"/><stop offset="0.21" stop-color="#80d880" stop-opacity="0.72"/><stop offset="0.36" stop-color="#66cf66" stop-opacity="0.8"/><stop offset="0.47" stop-color="#80d680" stop-opacity="0.65"/><stop offset="0.55" stop-color="#e0f4e0" stop-opacity="0.3"/><stop offset="1" stop-color="#ffffff" stop-opacity="0.15"/></linearGradient></defs>
<rect x="15" y="285" width="150" height="90" fill="url(#lg17)"/>
<defs><linearGradient id="lg18" x1="0" y1="290" x2="0" y2="368" gradientUnits="userSpaceOnUse"><stop offset="0" stop-color="#ffffff" stop-opacity="0"/><stop offset="0.7" stop-color="#ffffff" stop-opacity="0"/><stop offset="1" stop-color="#ffffff" stop-opacity="0.55"/></linearGradient></defs>
<rect x="15" y="285" width="150" height="90" fill="url(#lg18)"/>
<defs><radialGradient id="rg19" cx="0.5" cy="0.5" r="0.5"><stop offset="0" stop-color="#40c840" stop-opacity="0.9"/><stop offset="0.5" stop-color="#8ede8e" stop-opacity="0.55"/><stop offset="1" stop-color="#ffffff" stop-opacity="0"/></radialGradient></defs>
<ellipse cx="122" cy="345" rx="38" ry="10" fill="url(#rg19)"/>
<defs><radialGradient id="rg20" cx="0.5" cy="0.5" r="0.5"><stop offset="0" stop-color="#e070e0" stop-opacity="0.45"/><stop offset="1" stop-color="#ffffff" stop-opacity="0"/></radialGradient></defs>
<ellipse cx="145" cy="322" rx="16" ry="6" fill="url(#rg20)"/>
<defs><linearGradient id="lg21" x1="0" y1="0" x2="0" y2="1"><stop offset="0" stop-color="#2a7f2a" stop-opacity="0.6"/><stop offset="1" stop-color="#2f8f2f" stop-opacity="0"/></linearGradient></defs>
<path d="M45.7 309.6 C55 303 63 294 73 292 C80 291.5 84 295 87.3 297.5 L86 318 L48 322 Z" fill="url(#lg21)"/>
<g fill="none" stroke="#9a9a9a" stroke-width="0.3" opacity="0.8"><ellipse cx="89.00" cy="337.00" rx="11.42" ry="5.17"/><ellipse cx="89.00" cy="337.00" rx="22.83" ry="10.33"/><ellipse cx="89.00" cy="337.00" rx="34.25" ry="15.50"/><ellipse cx="89.00" cy="337.00" rx="45.67" ry="20.67"/><ellipse cx="89.00" cy="337.00" rx="57.08" ry="25.83"/><ellipse cx="89.00" cy="337.00" rx="68.50" ry="31.00"/><path d="M100.42 337.00L157.50 337.00M98.89 339.58L148.32 352.50M94.71 341.47L123.25 363.85M89.00 342.17L89.00 368.00M83.29 341.47L54.75 363.85M79.11 339.58L29.68 352.50M77.58 337.00L20.50 337.00M79.11 334.42L29.68 321.50M83.29 332.53L54.75 310.15M89.00 331.83L89.00 306.00M94.71 332.53L123.25 310.15M98.89 334.42L148.32 321.50"/></g>
</g>
<defs><linearGradient id="lg22" x1="0" y1="292" x2="0" y2="322" gradientUnits="userSpaceOnUse"><stop offset="0" stop-color="#c84ec8" stop-opacity="0.75"/><stop offset="0.5" stop-color="#e096e0" stop-opacity="0.45"/><stop offset="1" stop-color="#ffffff" stop-opacity="0"/></linearGradient></defs>
<path d="M74 292 C80 291.5 84 295 87.3 297.5 C93 302 98 306 102.6 308.5 C107 310.5 110 311.5 113.5 311.7 C118 312 122 313 124 316 C112 320 96 318 84 312 C80 306 77 298 74 292 Z" fill="url(#lg22)"/>
<path d="M28 323.8 C35 318 40 313 45.7 309.6 C55 303 63 294 73 292 C80 291.5 84 295 87.3 297.5" fill="none" stroke="#2a6a2a" stroke-width="0.5" opacity="0.6"/>
<path d="M45.5 310 L45.5 346" stroke="#3a5a3a" stroke-width="0.6" opacity="0.7"/>
<path d="M79 295 C84 305 88 318 95 333 C103 348 118 358 133.5 365 L133.5 395.5 L87.9 370.6 Z" fill="#9a8585" fill-opacity="0.24"/>
<path d="M79 295 C84 305 88 318 95 333 C103 348 118 358 133.5 365 L133.5 395.5 L87.9 370.6" fill="none" stroke="#3a3a3a" stroke-width="0.7"/>
<defs><linearGradient id="lg23" x1="0" y1="0" x2="0" y2="1"><stop offset="0" stop-color="#7a8030" stop-opacity="0.88"/><stop offset="0.3" stop-color="#908442" stop-opacity="0.85"/><stop offset="0.45" stop-color="#b05a48" stop-opacity="0.88"/><stop offset="0.52" stop-color="#cc3440" stop-opacity="0.9"/><stop offset="1" stop-color="#d42a3a" stop-opacity="0.92"/></linearGradient></defs>
<path d="M98.2 352 L98.2 382 A13.8 6 0 0 0 125.8 382 L125.8 352 Z" fill="url(#lg23)"/>
<defs><linearGradient id="lg24" x1="0" y1="0" x2="1" y2="0"><stop offset="0" stop-color="#000" stop-opacity="0.15"/><stop offset="0.3" stop-color="#000" stop-opacity="0"/><stop offset="0.7" stop-color="#000" stop-opacity="0"/><stop offset="1" stop-color="#000" stop-opacity="0.12"/></linearGradient></defs>
<path d="M98.2 352 L98.2 382 A13.8 6 0 0 0 125.8 382 L125.8 352 Z" fill="url(#lg24)"/>
<ellipse cx="112" cy="352" rx="13.8" ry="5.5" fill="#727a30" fill-opacity="0.8" stroke="#98984a" stroke-width="0.9"/>
<ellipse cx="112" cy="382" rx="13.8" ry="6" fill="#e86070" fill-opacity="0.35"/>
<line x1="111.6" y1="353" x2="111.6" y2="368" stroke="#1f4f1f" stroke-width="1.8"/>
<line x1="111.6" y1="368" x2="111.6" y2="386" stroke="#4a1414" stroke-width="1.8"/>
<line x1="88.6" y1="318" x2="88.6" y2="370.6" stroke="#4f7a4f" stroke-width="1.4"/>
<line x1="88.70" y1="318.50" x2="88.78" y2="281.00" stroke="#000" stroke-width="2.0"/>
<path d="M88.80 271.50L91.88 282.01L88.78 279.80L85.68 281.99Z" fill="#000"/>
<text x="86.20" y="268.80" font-size="9.5" font-weight="bold" font-style="italic" fill="#000">z</text>
<path d="M87.40 263.20L89.30 261.40L91.00 263.20" fill="none" stroke="#000" stroke-width="1.1"/>
<line x1="87.90" y1="370.60" x2="29.28" y2="337.65" stroke="#5a5a5a" stroke-width="1.6"/>
<path d="M21.00 333.00L31.67 335.44L28.24 337.07L28.63 340.85Z" fill="#5a5a5a"/>
<line x1="87.90" y1="370.60" x2="29.96" y2="394.92" stroke="#000" stroke-width="2.0"/>
<path d="M21.20 398.60L29.68 391.68L28.85 395.39L32.08 397.39Z" fill="#000"/>
<text x="12.20" y="333.50" font-size="9.5" font-weight="bold" font-style="italic" fill="#000">x</text>
<path d="M13.40 327.90L15.30 326.10L17.00 327.90" fill="none" stroke="#000" stroke-width="1.1"/>
<text x="12.20" y="403.80" font-size="9.5" font-weight="bold" font-style="italic" fill="#000">y</text>
<path d="M13.40 398.20L15.30 396.40L17.00 398.20" fill="none" stroke="#000" stroke-width="1.1"/>
<line x1="128.6" y1="298" x2="118.5" y2="347.5" stroke="#111" stroke-width="1.2"/>
<text x="112.00" y="294.60" font-size="10" fill="#111"><tspan font-style="italic">Ω</tspan> = 0.6</text>
<path d="M113.60 286.40q1.5 -1.8 3 -0.4t3 -0.4" fill="none" stroke="#111" stroke-width="0.8"/>
<rect x="32.30" y="409.60" width="114.10" height="3.70" fill="#000"/>
<text x="89.10" y="425.00" font-size="10" text-anchor="middle" font-weight="normal" font-style="normal" fill="#111" >50 nm</text>
<circle cx="13.9" cy="257.4" r="5.0" fill="#fff" stroke="#000" stroke-width="1.2"/>
<path d="M13.9 253.99999999999997L16.9 259.0L10.9 259.0Z" fill="#000"/>
<defs><radialGradient id="rg25" cx="0.5" cy="0.5" r="0.5"><stop offset="0" stop-color="#e030e4" stop-opacity="0.95"/><stop offset="0.3" stop-color="#ea62ec" stop-opacity="0.8"/><stop offset="0.6" stop-color="#f3a4f3" stop-opacity="0.5"/><stop offset="0.85" stop-color="#fadcfa" stop-opacity="0.2"/><stop offset="1" stop-color="#ffffff" stop-opacity="0"/></radialGradient></defs>
<ellipse cx="442.4" cy="404.2" rx="50" ry="24" fill="url(#rg25)"/>
<g fill="none" stroke="#9a9a9a" stroke-width="0.3" opacity="1.0"><ellipse cx="442.40" cy="404.20" rx="9.55" ry="4.58"/><ellipse cx="442.40" cy="404.20" rx="19.10" ry="9.17"/><ellipse cx="442.40" cy="404.20" rx="28.65" ry="13.75"/><ellipse cx="442.40" cy="404.20" rx="38.20" ry="18.33"/><ellipse cx="442.40" cy="404.20" rx="47.75" ry="22.92"/><ellipse cx="442.40" cy="404.20" rx="57.30" ry="27.50"/><path d="M451.95 404.20L499.70 404.20M450.67 406.49L492.02 417.95M447.17 408.17L471.05 428.02M442.40 408.78L442.40 431.70M437.62 408.17L413.75 428.02M434.13 406.49L392.78 417.95M432.85 404.20L385.10 404.20M434.13 401.91L392.78 390.45M437.62 400.23L413.75 380.38M442.40 399.62L442.40 376.70M447.17 400.23L471.05 380.38M450.67 401.91L492.02 390.45"/></g>
<clipPath id="clipGd"><path d="M426.5 278.6 C421 278.6 417 280 414.5 281.3 C405 287 399 293 396 299.9 C390 308 386.5 315 385.3 318.4 C385 323 385.5 327 386.6 329 C389 335 393 339 398.6 342.4 C410 350 420 354.5 433 355.6 C446 356.5 458 355.5 467.7 353 C480 349.5 489 346 494.2 342.4 C499 339 501 337 500.9 334.4 C500 327 497.5 320 494.2 315.8 C489 309 484 305 478.3 302.5 C471 296 465 292 459.7 289.2 C453 285 448 282.5 443.8 281.3 C437 279.2 431 278.6 426.5 278.6 Z"/></clipPath>
<g clip-path="url(#clipGd)">
<path d="M426.5 278.6 C421 278.6 417 280 414.5 281.3 C405 287 399 293 396 299.9 C390 308 386.5 315 385.3 318.4 C385 323 385.5 327 386.6 329 C389 335 393 339 398.6 342.4 C410 350 420 354.5 433 355.6 C446 356.5 458 355.5 467.7 353 C480 349.5 489 346 494.2 342.4 C499 339 501 337 500.9 334.4 C500 327 497.5 320 494.2 315.8 C489 309 484 305 478.3 302.5 C471 296 465 292 459.7 289.2 C453 285 448 282.5 443.8 281.3 C437 279.2 431 278.6 426.5 278.6 Z" fill="#ffffff" fill-opacity="0.3"/>
<defs><linearGradient id="lg26" x1="385" y1="0" x2="500" y2="0" gradientUnits="userSpaceOnUse"><stop offset="0" stop-color="#c8ecc8" stop-opacity="0.5"/><stop offset="0.13" stop-color="#8cd88c" stop-opacity="0.65"/><stop offset="0.3" stop-color="#66cc66" stop-opacity="0.72"/><stop offset="0.48" stop-color="#74d074" stop-opacity="0.65"/><stop offset="0.65" stop-color="#b0e4b0" stop-opacity="0.42"/><stop offset="0.83" stop-color="#e8f6e8" stop-opacity="0.2"/><stop offset="1" stop-color="#ffffff" stop-opacity="0"/></linearGradient></defs>
<rect x="380" y="270" width="125" height="95" fill="url(#lg26)"/>
<defs><radialGradient id="rg27" cx="0.5" cy="0.5" r="0.5"><stop offset="0" stop-color="#48c848" stop-opacity="0.8"/><stop offset="0.45" stop-color="#70d070" stop-opacity="0.55"/><stop offset="1" stop-color="#ffffff" stop-opacity="0"/></radialGradient></defs>
<ellipse cx="437" cy="328" rx="36" ry="28" fill="url(#rg27)"/>
<defs><linearGradient id="lg28" x1="0" y1="0" x2="0" y2="1"><stop offset="0" stop-color="#2f8f2f" stop-opacity="0.45"/><stop offset="1" stop-color="#2f8f2f" stop-opacity="0"/></linearGradient></defs>
<path d="M396 299.9 C405 287 415 280 426.5 278.6 C437 279 443 281 444 283 L440 300 L400 305 Z" fill="url(#lg28)"/>
<defs><linearGradient id="lg29" x1="0" y1="0" x2="0" y2="1"><stop offset="0" stop-color="#c8a0d0" stop-opacity="0.5"/><stop offset="1" stop-color="#ffffff" stop-opacity="0"/></linearGradient></defs>
<path d="M443.8 281.3 C453 285 465 292 478.3 302.5 C489 309 497 320 500.9 334.4 L470 320 Z" fill="url(#lg29)"/>
<g fill="none" stroke="#9a9a9a" stroke-width="0.3" opacity="0.7"><ellipse cx="455.00" cy="320.00" rx="10.40" ry="7.20"/><ellipse cx="455.00" cy="320.00" rx="20.80" ry="14.40"/><ellipse cx="455.00" cy="320.00" rx="31.20" ry="21.60"/><ellipse cx="455.00" cy="320.00" rx="41.60" ry="28.80"/><ellipse cx="455.00" cy="320.00" rx="52.00" ry="36.00"/><path d="M465.05 321.86L505.23 329.32M462.35 325.09L491.77 345.46M457.69 326.95L468.46 354.77M452.31 326.95L441.54 354.77M447.65 325.09L418.23 345.46M444.95 321.86L404.77 329.32M444.95 318.14L404.77 310.68M447.65 314.91L418.23 294.54M452.31 313.05L441.54 285.23M457.69 313.05L468.46 285.23M462.35 314.91L491.77 294.54M465.05 318.14L505.23 310.68"/></g>
</g>
<path d="M433 279.5 C448 283 462 291 474 302 C480 306 486 310 490 313" fill="none" stroke="#c49ac8" stroke-width="3" opacity="0.55"/>
<path d="M426.5 278.6 C421 278.6 417 280 414.5 281.3 C405 287 399 293 396 299.9 C390 308 386.5 315 385.3 318.4 C385 323 385.5 327 386.6 329 C389 335 393 339 398.6 342.4 C410 350 420 354.5 433 355.6 C446 356.5 458 355.5 467.7 353 C480 349.5 489 346 494.2 342.4 C499 339 501 337 500.9 334.4 C500 327 497.5 320 494.2 315.8 C489 309 484 305 478.3 302.5 C471 296 465 292 459.7 289.2 C453 285 448 282.5 443.8 281.3 C437 279.2 431 278.6 426.5 278.6 Z" fill="none" stroke="#6a8a6a" stroke-width="0.4" opacity="0.6"/>
<path d="M405.2 291.5 C412 284 420 279.5 428 279 C440 279.5 448 285 455 296 C464 312 473 335 480.3 363 L480.3 425.4 L442.4 404.2 L405.2 389 Z" fill="#9a8585" fill-opacity="0.3"/>
<path d="M405.2 389 L405.2 291.5 M428 279 C440 279.5 448 285 455 296 C464 312 473 335 480.3 363 L480.3 425.4 L442.4 404.2" fill="none" stroke="#3a3a3a" stroke-width="0.7"/>
<defs><linearGradient id="lg30" x1="0" y1="323" x2="0" y2="409" gradientUnits="userSpaceOnUse"><stop offset="0" stop-color="#98945a" stop-opacity="0.75"/><stop offset="0.3" stop-color="#a89060" stop-opacity="0.65"/><stop offset="0.45" stop-color="#c88a80" stop-opacity="0.55"/><stop offset="0.58" stop-color="#d63a48" stop-opacity="0.75"/><stop offset="1" stop-color="#cc1a2c" stop-opacity="0.9"/></linearGradient></defs>
<path d="M424 327 C419 331 419 338 422 343 C426 349 431 353 433 359 C434.5 364 433 369 431 374 C428 381 427.5 390 429 398 C431 405 438 409 446 409 C455 409 462 405 463 397 C464 388 458 378 452 372 C448 367 447 362 449 356 C451 350 454 344 453.5 337 C453 329 445 324 436 323.5 C431 323.3 427 324.5 424 327 Z" fill="url(#lg30)"/>
<path d="M427.5 332 C429 327.5 435 326.5 440 327.5 C446 329 447.5 334 446 339 C444.5 343 440 344.5 435 344 C430 343 426.5 338 427.5 332 Z" fill="#a4502c" fill-opacity="0.8"/>
<path d="M435 385 C436 380 441 378.5 447 379.5 C454 381 459.5 387 459.8 394 C460 400 455 404 447 404 C440 404 434.5 400 434.4 393 C434.3 390 434.5 387 435 385 Z" fill="#e00a1c" fill-opacity="0.7"/>
<line x1="442.9" y1="294" x2="442.9" y2="368" stroke="#5aa05a" stroke-width="1.0"/>
<path d="M436.1 332.7 C438 345 440.5 357 443.2 368" fill="none" stroke="#1f6a1f" stroke-width="1.8"/>
<line x1="443.3" y1="368" x2="443.6" y2="404" stroke="#4a1010" stroke-width="1.8"/>
<line x1="442.90" y1="294.50" x2="442.90" y2="270.80" stroke="#000" stroke-width="2.0"/>
<path d="M442.90 261.30L446.00 271.80L442.90 269.60L439.80 271.80Z" fill="#000"/>
<text x="440.30" y="258.20" font-size="9.5" font-weight="bold" font-style="italic" fill="#000">z</text>
<path d="M441.50 252.60L443.40 250.80L445.10 252.60" fill="none" stroke="#000" stroke-width="1.1"/>
<line x1="442.40" y1="404.00" x2="393.47" y2="376.37" stroke="#000" stroke-width="2.0"/>
<path d="M385.20 371.70L395.87 374.16L392.43 375.78L392.82 379.56Z" fill="#000"/>
<line x1="442.40" y1="404.00" x2="393.98" y2="424.06" stroke="#000" stroke-width="2.0"/>
<path d="M385.20 427.70L393.71 420.82L392.87 424.52L396.09 426.54Z" fill="#000"/>
<text x="376.90" y="372.60" font-size="9.5" font-weight="bold" font-style="italic" fill="#000">x</text>
<path d="M378.10 367.00L380.00 365.20L381.70 367.00" fill="none" stroke="#000" stroke-width="1.1"/>
<text x="376.60" y="432.20" font-size="9.5" font-weight="bold" font-style="italic" fill="#000">y</text>
<path d="M377.80 426.60L379.70 424.80L381.40 426.60" fill="none" stroke="#000" stroke-width="1.1"/>
<line x1="479.8" y1="267.5" x2="432.6" y2="323.8" stroke="#111" stroke-width="1.2"/>
<line x1="484.7" y1="301.4" x2="445.1" y2="335.7" stroke="#111" stroke-width="1.2"/>
<line x1="487.7" y1="302.4" x2="452.8" y2="383.7" stroke="#111" stroke-width="1.2"/>
<text x="461.20" y="265.70" font-size="10" fill="#111"><tspan font-style="italic">Ω</tspan> = 0.45</text>
<path d="M462.80 257.50q1.5 -1.8 3 -0.4t3 -0.4" fill="none" stroke="#111" stroke-width="0.8"/>
<text x="472.20" y="298.70" font-size="10" fill="#111"><tspan font-style="italic">Ω</tspan> = 0.6</text>
<path d="M473.80 290.50q1.5 -1.8 3 -0.4t3 -0.4" fill="none" stroke="#111" stroke-width="0.8"/>
<rect x="394.50" y="437.10" width="96.50" height="3.50" fill="#000"/>
<text x="442.60" y="450.60" font-size="10" text-anchor="middle" font-weight="normal" font-style="normal" fill="#111" >50 nm</text>
<circle cx="378.4" cy="249.2" r="5.0" fill="#fff" stroke="#000" stroke-width="1.2"/>
<rect x="376.29999999999995" y="247.1" width="4.2" height="4.2" fill="#000"/>
</svg></body></html>
